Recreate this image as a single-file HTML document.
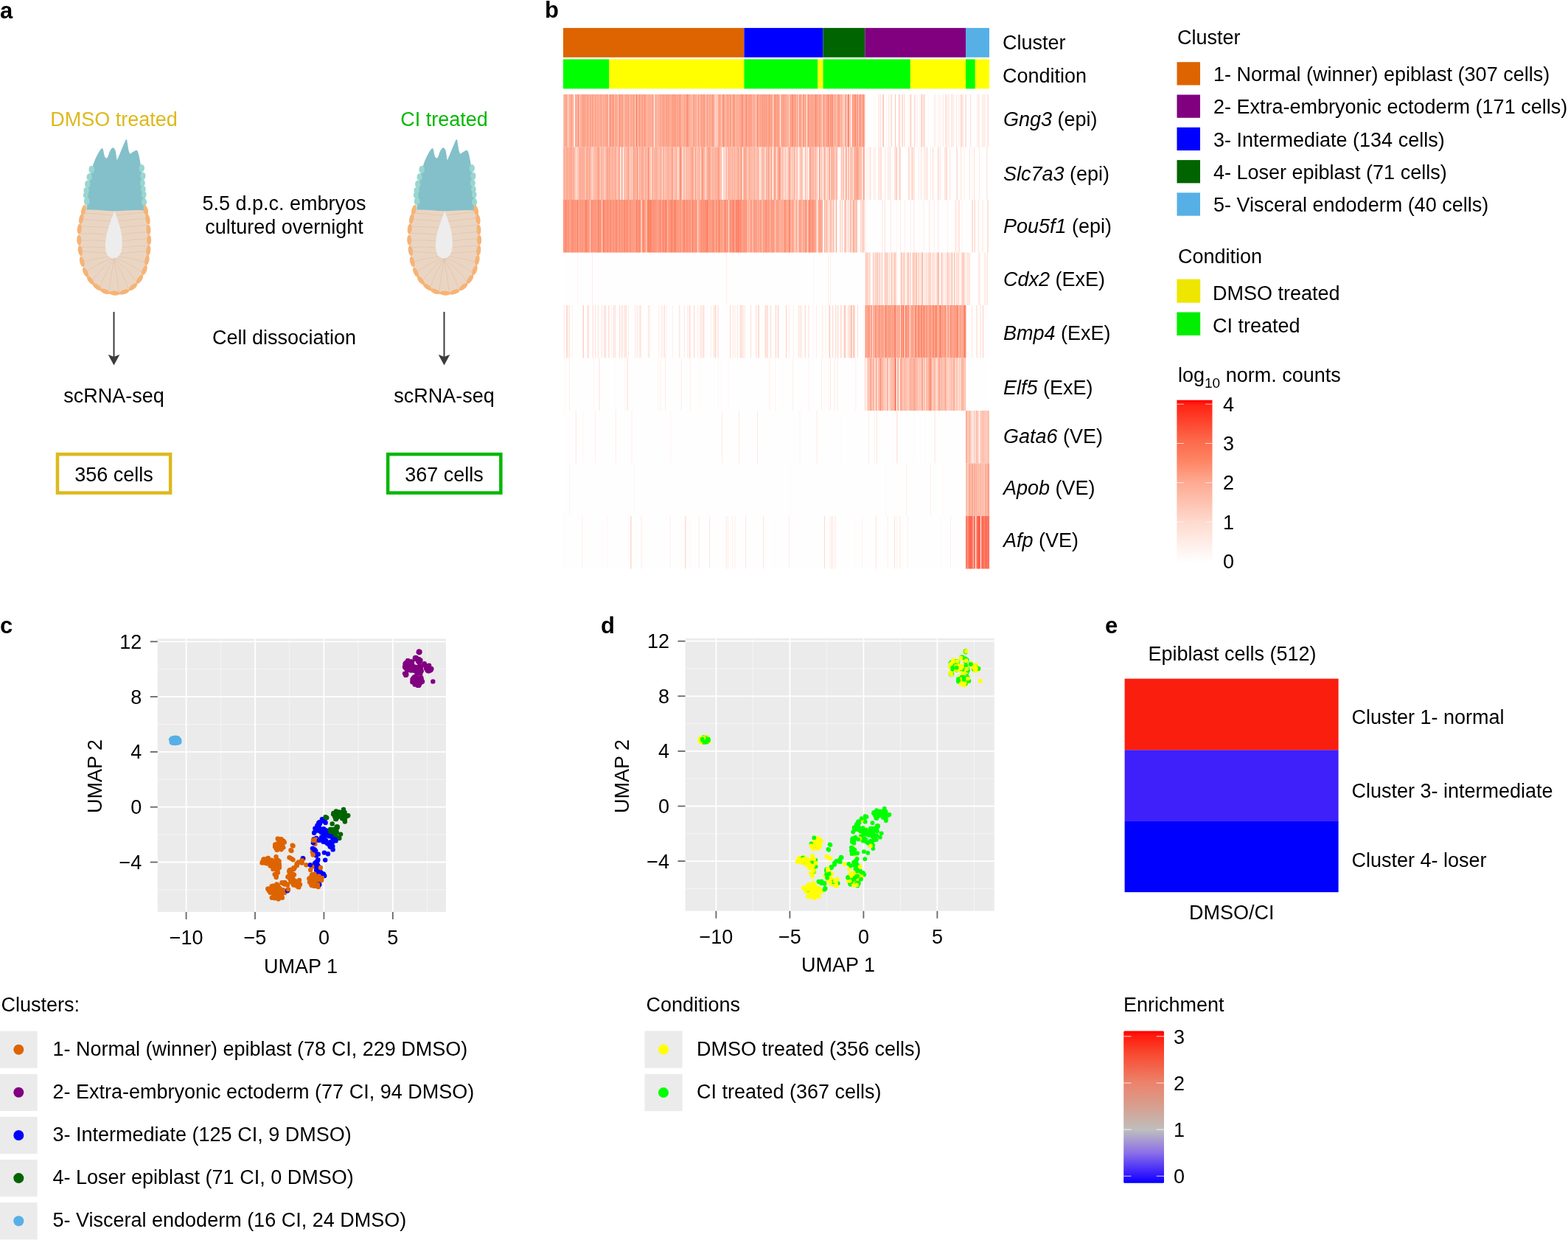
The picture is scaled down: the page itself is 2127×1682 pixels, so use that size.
<!DOCTYPE html>
<html><head><meta charset="utf-8"><title>Figure</title>
<style>html,body{margin:0;padding:0;background:#fff;}svg{display:block;}</style></head>
<body><svg width="2127" height="1682" viewBox="0 0 2127 1682" font-family="'Liberation Sans', Arial, Helvetica, sans-serif" font-size="27">
<rect width="2127" height="1682" fill="#fff"/>
<text x="0" y="24.5" font-weight="bold" font-size="31">a</text>
<text x="739" y="24.3" font-weight="bold" font-size="31">b</text>
<text x="0" y="859" font-weight="bold" font-size="31">c</text>
<text x="815" y="859" font-weight="bold" font-size="31">d</text>
<text x="1499" y="859" font-weight="bold" font-size="31">e</text>
<text x="154.5" y="171" text-anchor="middle" fill="#DDB91C">DMSO treated</text>
<text x="602.5" y="171" text-anchor="middle" fill="#06B806">CI treated</text>
<text x="385.5" y="284.5" text-anchor="middle">5.5 d.p.c. embryos</text>
<text x="385.5" y="316.5" text-anchor="middle">cultured overnight</text>
<text x="385.5" y="466.5" text-anchor="middle">Cell dissociation</text>
<line x1="154.5" y1="423" x2="154.5" y2="488" stroke="#3c3c3c" stroke-width="2"/>
<path d="M146.7,481 Q154.5,484 154.5,484 Q154.5,484 162.3,481 L154.5,495.5 Z" fill="#3c3c3c"/>
<text x="154.5" y="545.5" text-anchor="middle">scRNA-seq</text>
<line x1="602.5" y1="423" x2="602.5" y2="488" stroke="#3c3c3c" stroke-width="2"/>
<path d="M594.7,481 Q602.5,484 602.5,484 Q602.5,484 610.3,481 L602.5,495.5 Z" fill="#3c3c3c"/>
<text x="602.5" y="545.5" text-anchor="middle">scRNA-seq</text>
<rect x="77.95" y="616.15" width="153.2" height="52.4" fill="none" stroke="#DDB91C" stroke-width="4.5"/>
<rect x="526.15" y="616.15" width="153.2" height="52.4" fill="none" stroke="#06B806" stroke-width="4.5"/>
<text x="154.5" y="652.5" text-anchor="middle">356 cells</text>
<text x="602.5" y="652.5" text-anchor="middle">367 cells</text>
<g transform="translate(90 180) scale(0.13671)"><path d="M180,760 C140,820 128,950 128,1060 C128,1250 170,1400 260,1500 C330,1570 400,1596 475,1598 C560,1596 640,1560 700,1490 C790,1390 815,1230 815,1060 C815,930 805,820 790,765 Z" fill="#EAD5C3"/>
<path d="M464,820 Q302,805 140,795 M494,820 Q650,800 805,786 M452,880 Q296,865 140,860 M504,880 Q654,860 805,848 M439,945 Q290,930 140,930 M513,945 Q659,925 805,917 M395,1010 Q268,995 140,1000 M550,1010 Q678,990 805,985 M395,1075 Q268,1060 140,1070 M550,1075 Q678,1055 805,1053 M395,1140 Q268,1125 140,1140 M550,1140 Q678,1120 805,1122 M417,1215 Q657,1178 817,1180 M427,1221 Q653,1237 803,1293 M437,1226 Q632,1291 762,1396 M447,1230 Q598,1336 698,1482 M457,1233 Q552,1369 615,1544 M467,1235 Q499,1385 521,1576 M477,1235 Q445,1385 423,1576 M487,1233 Q392,1369 329,1544 M497,1230 Q346,1336 246,1482 M507,1226 Q312,1291 182,1396 M517,1221 Q291,1237 141,1293 M527,1215 Q287,1178 127,1180" stroke="#DCBCA5" stroke-width="4" fill="none"/>
<path d="M478,778 C460,820 430,900 405,990 C385,1070 380,1150 400,1200 C420,1240 450,1250 470,1248 C500,1245 530,1225 545,1180 C560,1120 555,1040 540,970 C520,890 495,820 478,778 Z" fill="#EDEDED"/>
<path d="M200,765 C205,600 225,420 265,320 C290,250 320,190 348,158 Q362,142 368,178 C375,230 385,255 400,252 C415,248 420,200 440,168 Q465,128 485,172 C495,205 497,250 503,272 C520,240 550,160 588,72 L600,66 C610,120 615,190 632,210 C650,200 668,186 688,176 Q705,168 713,200 C730,260 745,350 760,480 C775,600 785,700 790,775 C700,760 600,775 480,778 C380,775 300,762 200,765 Z" fill="#84C0C9"/>
<ellipse cx="250" cy="365" rx="28" ry="38" fill="#9AD6D0"/>
<ellipse cx="228" cy="440" rx="27" ry="36" fill="#9AD6D0"/>
<ellipse cx="210" cy="510" rx="27" ry="36" fill="#9AD6D0"/>
<ellipse cx="198" cy="575" rx="27" ry="34" fill="#9AD6D0"/>
<ellipse cx="192" cy="620" rx="25" ry="30" fill="#9AD6D0"/>
<ellipse cx="202" cy="680" rx="28" ry="40" fill="#9AD6D0"/>
<ellipse cx="748" cy="352" rx="27" ry="38" fill="#9AD6D0"/>
<ellipse cx="760" cy="430" rx="26" ry="38" fill="#9AD6D0"/>
<ellipse cx="756" cy="500" rx="25" ry="36" fill="#9AD6D0"/>
<ellipse cx="764" cy="560" rx="24" ry="32" fill="#9AD6D0"/>
<ellipse cx="770" cy="615" rx="24" ry="32" fill="#9AD6D0"/>
<ellipse cx="772" cy="688" rx="26" ry="38" fill="#9AD6D0"/>
<ellipse cx="172" cy="765" rx="52" ry="22" transform="rotate(105 172 765)" fill="#F6B375"/>
<ellipse cx="148" cy="855" rx="52" ry="22" transform="rotate(102 148 855)" fill="#F6B375"/>
<ellipse cx="130" cy="955" rx="52" ry="22" transform="rotate(96 130 955)" fill="#F6B375"/>
<ellipse cx="126" cy="1065" rx="52" ry="22" transform="rotate(88 126 1065)" fill="#F6B375"/>
<ellipse cx="138" cy="1170" rx="52" ry="22" transform="rotate(82 138 1170)" fill="#F6B375"/>
<ellipse cx="155" cy="1280" rx="52" ry="22" transform="rotate(76 155 1280)" fill="#F6B375"/>
<ellipse cx="190" cy="1385" rx="52" ry="22" transform="rotate(65 190 1385)" fill="#F6B375"/>
<ellipse cx="240" cy="1465" rx="52" ry="22" transform="rotate(52 240 1465)" fill="#F6B375"/>
<ellipse cx="305" cy="1530" rx="52" ry="22" transform="rotate(37 305 1530)" fill="#F6B375"/>
<ellipse cx="385" cy="1575" rx="52" ry="22" transform="rotate(20 385 1575)" fill="#F6B375"/>
<ellipse cx="480" cy="1592" rx="52" ry="22" transform="rotate(2 480 1592)" fill="#F6B375"/>
<ellipse cx="575" cy="1580" rx="52" ry="22" transform="rotate(-19 575 1580)" fill="#F6B375"/>
<ellipse cx="662" cy="1530" rx="52" ry="22" transform="rotate(-39 662 1530)" fill="#F6B375"/>
<ellipse cx="728" cy="1455" rx="52" ry="22" transform="rotate(-56 728 1455)" fill="#F6B375"/>
<ellipse cx="775" cy="1365" rx="52" ry="22" transform="rotate(-69 775 1365)" fill="#F6B375"/>
<ellipse cx="800" cy="1265" rx="52" ry="22" transform="rotate(-79 800 1265)" fill="#F6B375"/>
<ellipse cx="814" cy="1168" rx="52" ry="22" transform="rotate(-84 814 1168)" fill="#F6B375"/>
<ellipse cx="820" cy="1065" rx="52" ry="22" transform="rotate(-90 820 1065)" fill="#F6B375"/>
<ellipse cx="815" cy="962" rx="52" ry="22" transform="rotate(-93 815 962)" fill="#F6B375"/>
<ellipse cx="808" cy="860" rx="52" ry="22" transform="rotate(-98 808 860)" fill="#F6B375"/>
<ellipse cx="788" cy="770" rx="52" ry="22" transform="rotate(-103 788 770)" fill="#F6B375"/></g>
<g transform="translate(538 180) scale(0.13671)"><path d="M180,760 C140,820 128,950 128,1060 C128,1250 170,1400 260,1500 C330,1570 400,1596 475,1598 C560,1596 640,1560 700,1490 C790,1390 815,1230 815,1060 C815,930 805,820 790,765 Z" fill="#EAD5C3"/>
<path d="M464,820 Q302,805 140,795 M494,820 Q650,800 805,786 M452,880 Q296,865 140,860 M504,880 Q654,860 805,848 M439,945 Q290,930 140,930 M513,945 Q659,925 805,917 M395,1010 Q268,995 140,1000 M550,1010 Q678,990 805,985 M395,1075 Q268,1060 140,1070 M550,1075 Q678,1055 805,1053 M395,1140 Q268,1125 140,1140 M550,1140 Q678,1120 805,1122 M417,1215 Q657,1178 817,1180 M427,1221 Q653,1237 803,1293 M437,1226 Q632,1291 762,1396 M447,1230 Q598,1336 698,1482 M457,1233 Q552,1369 615,1544 M467,1235 Q499,1385 521,1576 M477,1235 Q445,1385 423,1576 M487,1233 Q392,1369 329,1544 M497,1230 Q346,1336 246,1482 M507,1226 Q312,1291 182,1396 M517,1221 Q291,1237 141,1293 M527,1215 Q287,1178 127,1180" stroke="#DCBCA5" stroke-width="4" fill="none"/>
<path d="M478,778 C460,820 430,900 405,990 C385,1070 380,1150 400,1200 C420,1240 450,1250 470,1248 C500,1245 530,1225 545,1180 C560,1120 555,1040 540,970 C520,890 495,820 478,778 Z" fill="#EDEDED"/>
<path d="M200,765 C205,600 225,420 265,320 C290,250 320,190 348,158 Q362,142 368,178 C375,230 385,255 400,252 C415,248 420,200 440,168 Q465,128 485,172 C495,205 497,250 503,272 C520,240 550,160 588,72 L600,66 C610,120 615,190 632,210 C650,200 668,186 688,176 Q705,168 713,200 C730,260 745,350 760,480 C775,600 785,700 790,775 C700,760 600,775 480,778 C380,775 300,762 200,765 Z" fill="#84C0C9"/>
<ellipse cx="250" cy="365" rx="28" ry="38" fill="#9AD6D0"/>
<ellipse cx="228" cy="440" rx="27" ry="36" fill="#9AD6D0"/>
<ellipse cx="210" cy="510" rx="27" ry="36" fill="#9AD6D0"/>
<ellipse cx="198" cy="575" rx="27" ry="34" fill="#9AD6D0"/>
<ellipse cx="192" cy="620" rx="25" ry="30" fill="#9AD6D0"/>
<ellipse cx="202" cy="680" rx="28" ry="40" fill="#9AD6D0"/>
<ellipse cx="748" cy="352" rx="27" ry="38" fill="#9AD6D0"/>
<ellipse cx="760" cy="430" rx="26" ry="38" fill="#9AD6D0"/>
<ellipse cx="756" cy="500" rx="25" ry="36" fill="#9AD6D0"/>
<ellipse cx="764" cy="560" rx="24" ry="32" fill="#9AD6D0"/>
<ellipse cx="770" cy="615" rx="24" ry="32" fill="#9AD6D0"/>
<ellipse cx="772" cy="688" rx="26" ry="38" fill="#9AD6D0"/>
<ellipse cx="172" cy="765" rx="52" ry="22" transform="rotate(105 172 765)" fill="#F6B375"/>
<ellipse cx="148" cy="855" rx="52" ry="22" transform="rotate(102 148 855)" fill="#F6B375"/>
<ellipse cx="130" cy="955" rx="52" ry="22" transform="rotate(96 130 955)" fill="#F6B375"/>
<ellipse cx="126" cy="1065" rx="52" ry="22" transform="rotate(88 126 1065)" fill="#F6B375"/>
<ellipse cx="138" cy="1170" rx="52" ry="22" transform="rotate(82 138 1170)" fill="#F6B375"/>
<ellipse cx="155" cy="1280" rx="52" ry="22" transform="rotate(76 155 1280)" fill="#F6B375"/>
<ellipse cx="190" cy="1385" rx="52" ry="22" transform="rotate(65 190 1385)" fill="#F6B375"/>
<ellipse cx="240" cy="1465" rx="52" ry="22" transform="rotate(52 240 1465)" fill="#F6B375"/>
<ellipse cx="305" cy="1530" rx="52" ry="22" transform="rotate(37 305 1530)" fill="#F6B375"/>
<ellipse cx="385" cy="1575" rx="52" ry="22" transform="rotate(20 385 1575)" fill="#F6B375"/>
<ellipse cx="480" cy="1592" rx="52" ry="22" transform="rotate(2 480 1592)" fill="#F6B375"/>
<ellipse cx="575" cy="1580" rx="52" ry="22" transform="rotate(-19 575 1580)" fill="#F6B375"/>
<ellipse cx="662" cy="1530" rx="52" ry="22" transform="rotate(-39 662 1530)" fill="#F6B375"/>
<ellipse cx="728" cy="1455" rx="52" ry="22" transform="rotate(-56 728 1455)" fill="#F6B375"/>
<ellipse cx="775" cy="1365" rx="52" ry="22" transform="rotate(-69 775 1365)" fill="#F6B375"/>
<ellipse cx="800" cy="1265" rx="52" ry="22" transform="rotate(-79 800 1265)" fill="#F6B375"/>
<ellipse cx="814" cy="1168" rx="52" ry="22" transform="rotate(-84 814 1168)" fill="#F6B375"/>
<ellipse cx="820" cy="1065" rx="52" ry="22" transform="rotate(-90 820 1065)" fill="#F6B375"/>
<ellipse cx="815" cy="962" rx="52" ry="22" transform="rotate(-93 815 962)" fill="#F6B375"/>
<ellipse cx="808" cy="860" rx="52" ry="22" transform="rotate(-98 808 860)" fill="#F6B375"/>
<ellipse cx="788" cy="770" rx="52" ry="22" transform="rotate(-103 788 770)" fill="#F6B375"/></g>
<rect x="764.00" y="37.9" width="245.43" height="39.9" fill="#DD6400"/>
<rect x="1009.43" y="37.9" width="107.13" height="39.9" fill="#0000FF"/>
<rect x="1116.56" y="37.9" width="56.76" height="39.9" fill="#006400"/>
<rect x="1173.32" y="37.9" width="136.71" height="39.9" fill="#800080"/>
<rect x="1310.02" y="37.9" width="31.98" height="39.9" fill="#56B0E6"/>
<rect x="764.00" y="80.4" width="62.36" height="39.95" fill="#00FF00"/>
<rect x="826.36" y="80.4" width="183.07" height="39.95" fill="#FFFF00"/>
<rect x="1009.43" y="80.4" width="99.93" height="39.95" fill="#00FF00"/>
<rect x="1109.36" y="80.4" width="7.20" height="39.95" fill="#FFFF00"/>
<rect x="1116.56" y="80.4" width="118.32" height="39.95" fill="#00FF00"/>
<rect x="1234.87" y="80.4" width="75.15" height="39.95" fill="#FFFF00"/>
<rect x="1310.02" y="80.4" width="12.79" height="39.95" fill="#00FF00"/>
<rect x="1322.81" y="80.4" width="19.19" height="39.95" fill="#FFFF00"/>
<rect x="764.0" y="127.9" width="578.0" height="643.5" fill="#FFFEFE"/>
<path fill="#FFF8F5" d="M1202.10 127.9h0.80v71.5h-0.80zM1224.48 127.9h0.80v71.5h-0.80zM1233.28 127.9h0.80v71.5h-0.80zM1254.06 127.9h0.80v71.5h-0.80zM1258.86 127.9h0.80v71.5h-0.80zM1294.83 127.9h0.80v71.5h-0.80z"/>
<path fill="#FFF4F0" d="M1185.31 127.9h0.80v71.5h-0.80zM1274.05 127.9h0.80v71.5h-0.80zM1315.62 127.9h0.80v71.5h-0.80z"/>
<path fill="#FFF0EB" d="M1220.48 127.9h0.80v71.5h-0.80zM1231.68 127.9h0.80v71.5h-0.80zM1334.80 127.9h0.80v71.5h-0.80z"/>
<path fill="#FEECE6" d="M1251.66 127.9h0.80v71.5h-0.80zM1268.45 127.9h0.80v71.5h-0.80zM1274.85 127.9h0.80v71.5h-0.80zM1286.04 127.9h0.80v71.5h-0.80zM1293.23 127.9h0.80v71.5h-0.80z"/>
<path fill="#FEE9E2" d="M1196.50 127.9h0.80v71.5h-0.80zM1207.69 127.9h0.80v71.5h-0.80zM1234.07 127.9h0.80v71.5h-0.80zM1247.67 127.9h0.80v71.5h-0.80zM1266.85 127.9h0.80v71.5h-0.80zM1272.45 127.9h0.80v71.5h-0.80zM1292.43 127.9h0.80v71.5h-0.80zM1305.23 127.9h0.80v71.5h-0.80zM1325.21 127.9h0.80v71.5h-0.80zM1334.01 127.9h0.80v71.5h-0.80z"/>
<path fill="#FEE5DD" d="M1208.49 127.9h0.80v71.5h-0.80zM1226.88 127.9h0.80v71.5h-0.80zM1243.67 127.9h0.80v71.5h-0.80z"/>
<path fill="#FEE1D8" d="M1249.26 127.9h0.80v71.5h-0.80zM1250.86 127.9h0.80v71.5h-0.80zM1278.84 127.9h0.80v71.5h-0.80zM1286.84 127.9h0.80v71.5h-0.80zM1300.43 127.9h0.80v71.5h-0.80zM1309.22 127.9h0.80v71.5h-0.80zM1327.61 127.9h0.80v71.5h-0.80zM1335.60 127.9h0.80v71.5h-0.80z"/>
<path fill="#FEDED3" d="M1205.29 127.9h0.80v71.5h-0.80zM1226.08 127.9h0.80v71.5h-0.80zM1235.67 127.9h0.80v71.5h-0.80zM1282.04 127.9h0.80v71.5h-0.80zM1290.04 127.9h0.80v71.5h-0.80zM1291.63 127.9h0.80v71.5h-0.80zM1297.23 127.9h0.80v71.5h-0.80zM1302.83 127.9h0.80v71.5h-0.80zM1306.02 127.9h0.80v71.5h-0.80zM1326.81 127.9h0.80v71.5h-0.80zM1338.80 127.9h0.80v71.5h-0.80z"/>
<path fill="#FEDACE" d="M1218.89 127.9h0.80v71.5h-0.80zM1316.42 127.9h0.80v71.5h-0.80zM1340.40 127.9h0.80v71.5h-0.80z"/>
<path fill="#FED5C8" d="M1191.70 127.9h0.80v71.5h-0.80zM1194.10 127.9h0.80v71.5h-0.80zM1310.02 127.9h0.80v71.5h-0.80zM1332.41 127.9h0.80v71.5h-0.80z"/>
<path fill="#FED0C2" d="M1197.30 127.9h0.80v71.5h-0.80zM1209.29 127.9h0.80v71.5h-0.80z"/>
<path fill="#FECBBB" d="M1283.64 127.9h0.80v71.5h-0.80z"/>
<path fill="#FEC6B5" d="M1067.79 127.9h0.80v71.5h-0.80zM1134.14 127.9h0.80v71.5h-0.80z"/>
<path fill="#FEC1AF" d="M957.47 127.9h0.80v71.5h-0.80zM978.25 127.9h0.80v71.5h-0.80zM1110.16 127.9h0.80v71.5h-0.80zM1140.54 127.9h0.80v71.5h-0.80zM1234.87 127.9h0.80v71.5h-0.80zM1240.47 127.9h0.80v71.5h-0.80z"/>
<path fill="#FDBCA9" d="M805.57 127.9h0.80v71.5h-0.80zM883.12 127.9h0.80v71.5h-0.80zM1024.62 127.9h0.80v71.5h-0.80zM1026.22 127.9h0.80v71.5h-0.80zM1219.68 127.9h0.80v71.5h-0.80zM1250.06 127.9h0.80v71.5h-0.80z"/>
<path fill="#FDB7A3" d="M764.00 127.9h0.80v71.5h-0.80zM832.75 127.9h0.80v71.5h-0.80zM834.35 127.9h0.80v71.5h-0.80zM853.54 127.9h0.80v71.5h-0.80zM878.32 127.9h0.80v71.5h-0.80zM938.28 127.9h0.80v71.5h-0.80zM1019.82 127.9h0.80v71.5h-0.80zM1138.94 127.9h0.80v71.5h-0.80zM1144.54 127.9h0.80v71.5h-0.80zM1214.09 127.9h0.80v71.5h-0.80zM1303.63 127.9h0.80v71.5h-0.80z"/>
<path fill="#FDB29C" d="M799.18 127.9h0.80v71.5h-0.80zM830.35 127.9h0.80v71.5h-0.80zM846.34 127.9h1.60v71.5h-1.60zM856.74 127.9h0.80v71.5h-0.80zM887.91 127.9h0.80v71.5h-0.80zM891.11 127.9h0.80v71.5h-0.80zM895.91 127.9h0.80v71.5h-0.80zM939.08 127.9h0.80v71.5h-0.80zM960.66 127.9h0.80v71.5h-0.80zM963.06 127.9h0.80v71.5h-0.80zM972.66 127.9h0.80v71.5h-0.80zM1023.82 127.9h0.80v71.5h-0.80zM1090.97 127.9h0.80v71.5h-0.80zM1098.17 127.9h0.80v71.5h-0.80zM1125.35 127.9h0.80v71.5h-0.80zM1130.95 127.9h0.80v71.5h-0.80zM1163.72 127.9h0.80v71.5h-0.80zM1198.10 127.9h0.80v71.5h-0.80z"/>
<path fill="#FDAD96" d="M769.60 127.9h0.80v71.5h-0.80zM771.99 127.9h0.80v71.5h-0.80zM775.99 127.9h0.80v71.5h-0.80zM787.98 127.9h2.40v71.5h-2.40zM815.96 127.9h0.80v71.5h-0.80zM819.16 127.9h0.80v71.5h-0.80zM826.36 127.9h0.80v71.5h-0.80zM835.95 127.9h0.80v71.5h-0.80zM838.35 127.9h0.80v71.5h-0.80zM842.35 127.9h0.80v71.5h-0.80zM869.53 127.9h0.80v71.5h-0.80zM875.92 127.9h0.80v71.5h-0.80zM908.70 127.9h0.80v71.5h-0.80zM935.88 127.9h0.80v71.5h-0.80zM942.28 127.9h0.80v71.5h-0.80zM949.47 127.9h0.80v71.5h-0.80zM956.67 127.9h0.80v71.5h-0.80zM968.66 127.9h0.80v71.5h-0.80zM979.05 127.9h0.80v71.5h-0.80zM983.05 127.9h0.80v71.5h-0.80zM997.44 127.9h0.80v71.5h-0.80zM1001.44 127.9h0.80v71.5h-0.80zM1009.43 127.9h0.80v71.5h-0.80zM1021.42 127.9h0.80v71.5h-0.80zM1047.80 127.9h0.80v71.5h-0.80zM1059.00 127.9h0.80v71.5h-0.80zM1062.99 127.9h0.80v71.5h-0.80zM1086.18 127.9h0.80v71.5h-0.80zM1093.37 127.9h0.80v71.5h-0.80zM1120.55 127.9h0.80v71.5h-0.80zM1130.15 127.9h0.80v71.5h-0.80zM1152.53 127.9h0.80v71.5h-0.80zM1172.52 127.9h0.80v71.5h-0.80zM1223.68 127.9h0.80v71.5h-0.80zM1253.26 127.9h0.80v71.5h-0.80z"/>
<path fill="#FDA890" d="M764.80 127.9h0.80v71.5h-0.80zM771.20 127.9h0.80v71.5h-0.80zM777.59 127.9h0.80v71.5h-0.80zM783.19 127.9h0.80v71.5h-0.80zM798.38 127.9h0.80v71.5h-0.80zM809.57 127.9h0.80v71.5h-0.80zM811.97 127.9h0.80v71.5h-0.80zM837.55 127.9h0.80v71.5h-0.80zM839.15 127.9h0.80v71.5h-0.80zM844.74 127.9h0.80v71.5h-0.80zM850.34 127.9h1.60v71.5h-1.60zM854.34 127.9h0.80v71.5h-0.80zM860.73 127.9h0.80v71.5h-0.80zM864.73 127.9h0.80v71.5h-0.80zM890.31 127.9h0.80v71.5h-0.80zM894.31 127.9h0.80v71.5h-0.80zM900.71 127.9h1.60v71.5h-1.60zM915.10 127.9h0.80v71.5h-0.80zM919.89 127.9h0.80v71.5h-0.80zM923.09 127.9h0.80v71.5h-0.80zM926.29 127.9h1.60v71.5h-1.60zM935.08 127.9h0.80v71.5h-0.80zM937.48 127.9h0.80v71.5h-0.80zM948.67 127.9h0.80v71.5h-0.80zM959.86 127.9h0.80v71.5h-0.80zM965.46 127.9h0.80v71.5h-0.80zM974.25 127.9h0.80v71.5h-0.80zM977.45 127.9h0.80v71.5h-0.80zM984.65 127.9h0.80v71.5h-0.80zM988.64 127.9h0.80v71.5h-0.80zM991.84 127.9h0.80v71.5h-0.80zM1003.03 127.9h0.80v71.5h-0.80zM1028.62 127.9h0.80v71.5h-0.80zM1037.41 127.9h0.80v71.5h-0.80zM1040.61 127.9h0.80v71.5h-0.80zM1045.41 127.9h0.80v71.5h-0.80zM1057.40 127.9h0.80v71.5h-0.80zM1066.19 127.9h0.80v71.5h-0.80zM1079.78 127.9h0.80v71.5h-0.80zM1102.97 127.9h0.80v71.5h-0.80zM1108.56 127.9h0.80v71.5h-0.80zM1113.36 127.9h0.80v71.5h-0.80zM1117.36 127.9h0.80v71.5h-0.80zM1122.15 127.9h0.80v71.5h-0.80zM1133.34 127.9h0.80v71.5h-0.80zM1149.33 127.9h0.80v71.5h-0.80zM1162.92 127.9h0.80v71.5h-0.80zM1167.72 127.9h0.80v71.5h-0.80z"/>
<path fill="#FDA187" d="M765.60 127.9h1.60v71.5h-1.60zM768.00 127.9h0.80v71.5h-0.80zM772.79 127.9h0.80v71.5h-0.80zM780.79 127.9h0.80v71.5h-0.80zM784.79 127.9h0.80v71.5h-0.80zM787.18 127.9h0.80v71.5h-0.80zM795.18 127.9h1.60v71.5h-1.60zM802.37 127.9h0.80v71.5h-0.80zM803.97 127.9h1.60v71.5h-1.60zM807.97 127.9h0.80v71.5h-0.80zM812.77 127.9h0.80v71.5h-0.80zM817.56 127.9h0.80v71.5h-0.80zM825.56 127.9h0.80v71.5h-0.80zM847.94 127.9h0.80v71.5h-0.80zM855.14 127.9h0.80v71.5h-0.80zM865.53 127.9h0.80v71.5h-0.80zM871.93 127.9h0.80v71.5h-0.80zM879.92 127.9h0.80v71.5h-0.80zM881.52 127.9h0.80v71.5h-0.80zM886.32 127.9h0.80v71.5h-0.80zM888.71 127.9h0.80v71.5h-0.80zM891.91 127.9h0.80v71.5h-0.80zM893.51 127.9h0.80v71.5h-0.80zM898.31 127.9h0.80v71.5h-0.80zM902.30 127.9h0.80v71.5h-0.80zM905.50 127.9h1.60v71.5h-1.60zM911.10 127.9h0.80v71.5h-0.80zM912.70 127.9h0.80v71.5h-0.80zM924.69 127.9h0.80v71.5h-0.80zM928.69 127.9h0.80v71.5h-0.80zM930.28 127.9h0.80v71.5h-0.80zM943.08 127.9h0.80v71.5h-0.80zM951.87 127.9h1.60v71.5h-1.60zM967.86 127.9h0.80v71.5h-0.80zM969.46 127.9h0.80v71.5h-0.80zM971.06 127.9h0.80v71.5h-0.80zM986.25 127.9h0.80v71.5h-0.80zM998.24 127.9h1.60v71.5h-1.60zM1003.83 127.9h0.80v71.5h-0.80zM1007.83 127.9h0.80v71.5h-0.80zM1010.23 127.9h0.80v71.5h-0.80zM1017.42 127.9h0.80v71.5h-0.80zM1022.22 127.9h0.80v71.5h-0.80zM1039.01 127.9h0.80v71.5h-0.80zM1041.41 127.9h0.80v71.5h-0.80zM1047.00 127.9h0.80v71.5h-0.80zM1061.39 127.9h0.80v71.5h-0.80zM1080.58 127.9h0.80v71.5h-0.80zM1082.18 127.9h0.80v71.5h-0.80zM1104.56 127.9h0.80v71.5h-0.80zM1119.75 127.9h0.80v71.5h-0.80zM1131.75 127.9h0.80v71.5h-0.80zM1141.34 127.9h0.80v71.5h-0.80zM1153.33 127.9h0.80v71.5h-0.80zM1158.13 127.9h0.80v71.5h-0.80z"/>
<path fill="#FD9A7E" d="M767.20 127.9h0.80v71.5h-0.80zM773.59 127.9h0.80v71.5h-0.80zM776.79 127.9h0.80v71.5h-0.80zM782.39 127.9h0.80v71.5h-0.80zM791.18 127.9h0.80v71.5h-0.80zM794.38 127.9h0.80v71.5h-0.80zM801.57 127.9h0.80v71.5h-0.80zM811.17 127.9h0.80v71.5h-0.80zM814.37 127.9h0.80v71.5h-0.80zM816.76 127.9h0.80v71.5h-0.80zM819.96 127.9h0.80v71.5h-0.80zM831.95 127.9h0.80v71.5h-0.80zM840.75 127.9h1.60v71.5h-1.60zM845.54 127.9h0.80v71.5h-0.80zM857.54 127.9h0.80v71.5h-0.80zM867.93 127.9h0.80v71.5h-0.80zM872.72 127.9h0.80v71.5h-0.80zM876.72 127.9h0.80v71.5h-0.80zM879.12 127.9h0.80v71.5h-0.80zM885.52 127.9h0.80v71.5h-0.80zM896.71 127.9h0.80v71.5h-0.80zM907.10 127.9h1.60v71.5h-1.60zM910.30 127.9h0.80v71.5h-0.80zM917.49 127.9h0.80v71.5h-0.80zM923.89 127.9h0.80v71.5h-0.80zM925.49 127.9h0.80v71.5h-0.80zM932.68 127.9h0.80v71.5h-0.80zM939.88 127.9h0.80v71.5h-0.80zM947.87 127.9h0.80v71.5h-0.80zM958.27 127.9h0.80v71.5h-0.80zM973.46 127.9h0.80v71.5h-0.80zM982.25 127.9h0.80v71.5h-0.80zM983.85 127.9h0.80v71.5h-0.80zM987.85 127.9h0.80v71.5h-0.80zM995.84 127.9h1.60v71.5h-1.60zM999.84 127.9h0.80v71.5h-0.80zM1005.43 127.9h0.80v71.5h-0.80zM1014.23 127.9h1.60v71.5h-1.60zM1029.42 127.9h0.80v71.5h-0.80zM1031.02 127.9h0.80v71.5h-0.80zM1035.01 127.9h0.80v71.5h-0.80zM1049.40 127.9h0.80v71.5h-0.80zM1053.40 127.9h1.60v71.5h-1.60zM1064.59 127.9h0.80v71.5h-0.80zM1066.99 127.9h0.80v71.5h-0.80zM1070.99 127.9h0.80v71.5h-0.80zM1086.98 127.9h0.80v71.5h-0.80zM1099.77 127.9h0.80v71.5h-0.80zM1101.37 127.9h0.80v71.5h-0.80zM1114.16 127.9h0.80v71.5h-0.80zM1118.15 127.9h1.60v71.5h-1.60zM1134.94 127.9h0.80v71.5h-0.80zM1136.54 127.9h1.60v71.5h-1.60zM1143.74 127.9h0.80v71.5h-0.80zM1147.73 127.9h0.80v71.5h-0.80zM1155.73 127.9h1.60v71.5h-1.60zM1165.32 127.9h0.80v71.5h-0.80zM1169.32 127.9h1.60v71.5h-1.60zM1171.72 127.9h0.80v71.5h-0.80z"/>
<path fill="#FD9376" d="M775.19 127.9h0.80v71.5h-0.80zM779.99 127.9h0.80v71.5h-0.80zM791.98 127.9h0.80v71.5h-0.80zM796.78 127.9h1.60v71.5h-1.60zM807.17 127.9h0.80v71.5h-0.80zM808.77 127.9h0.80v71.5h-0.80zM820.76 127.9h0.80v71.5h-0.80zM822.36 127.9h0.80v71.5h-0.80zM827.96 127.9h0.80v71.5h-0.80zM829.55 127.9h0.80v71.5h-0.80zM859.13 127.9h0.80v71.5h-0.80zM863.93 127.9h0.80v71.5h-0.80zM870.33 127.9h0.80v71.5h-0.80zM873.52 127.9h1.60v71.5h-1.60zM883.92 127.9h0.80v71.5h-0.80zM892.71 127.9h0.80v71.5h-0.80zM899.11 127.9h0.80v71.5h-0.80zM903.90 127.9h0.80v71.5h-0.80zM915.89 127.9h1.60v71.5h-1.60zM918.29 127.9h0.80v71.5h-0.80zM927.89 127.9h0.80v71.5h-0.80zM934.28 127.9h0.80v71.5h-0.80zM940.68 127.9h1.60v71.5h-1.60zM943.88 127.9h0.80v71.5h-0.80zM946.27 127.9h1.60v71.5h-1.60zM951.07 127.9h0.80v71.5h-0.80zM953.47 127.9h0.80v71.5h-0.80zM955.07 127.9h0.80v71.5h-0.80zM962.26 127.9h0.80v71.5h-0.80zM964.66 127.9h0.80v71.5h-0.80zM975.05 127.9h0.80v71.5h-0.80zM990.24 127.9h0.80v71.5h-0.80zM1000.64 127.9h0.80v71.5h-0.80zM1011.03 127.9h0.80v71.5h-0.80zM1013.43 127.9h0.80v71.5h-0.80zM1019.02 127.9h0.80v71.5h-0.80zM1025.42 127.9h0.80v71.5h-0.80zM1030.22 127.9h0.80v71.5h-0.80zM1033.41 127.9h0.80v71.5h-0.80zM1055.00 127.9h0.80v71.5h-0.80zM1056.60 127.9h0.80v71.5h-0.80zM1059.80 127.9h0.80v71.5h-0.80zM1072.59 127.9h0.80v71.5h-0.80zM1074.98 127.9h1.60v71.5h-1.60zM1077.38 127.9h0.80v71.5h-0.80zM1078.98 127.9h0.80v71.5h-0.80zM1081.38 127.9h0.80v71.5h-0.80zM1088.58 127.9h1.60v71.5h-1.60zM1094.97 127.9h0.80v71.5h-0.80zM1098.97 127.9h0.80v71.5h-0.80zM1112.56 127.9h0.80v71.5h-0.80zM1126.95 127.9h0.80v71.5h-0.80zM1135.74 127.9h0.80v71.5h-0.80zM1142.14 127.9h0.80v71.5h-0.80zM1146.14 127.9h0.80v71.5h-0.80zM1164.52 127.9h0.80v71.5h-0.80zM1168.52 127.9h0.80v71.5h-0.80z"/>
<path fill="#FD8C6D" d="M768.80 127.9h0.80v71.5h-0.80zM781.59 127.9h0.80v71.5h-0.80zM792.78 127.9h0.80v71.5h-0.80zM800.77 127.9h0.80v71.5h-0.80zM803.17 127.9h0.80v71.5h-0.80zM806.37 127.9h0.80v71.5h-0.80zM810.37 127.9h0.80v71.5h-0.80zM813.57 127.9h0.80v71.5h-0.80zM815.16 127.9h0.80v71.5h-0.80zM818.36 127.9h0.80v71.5h-0.80zM821.56 127.9h0.80v71.5h-0.80zM823.16 127.9h1.60v71.5h-1.60zM833.55 127.9h0.80v71.5h-0.80zM836.75 127.9h0.80v71.5h-0.80zM843.94 127.9h0.80v71.5h-0.80zM852.74 127.9h0.80v71.5h-0.80zM858.33 127.9h0.80v71.5h-0.80zM866.33 127.9h1.60v71.5h-1.60zM868.73 127.9h0.80v71.5h-0.80zM875.12 127.9h0.80v71.5h-0.80zM877.52 127.9h0.80v71.5h-0.80zM880.72 127.9h0.80v71.5h-0.80zM882.32 127.9h0.80v71.5h-0.80zM889.51 127.9h0.80v71.5h-0.80zM903.10 127.9h0.80v71.5h-0.80zM913.50 127.9h1.60v71.5h-1.60zM919.09 127.9h0.80v71.5h-0.80zM921.49 127.9h1.60v71.5h-1.60zM929.49 127.9h0.80v71.5h-0.80zM931.08 127.9h0.80v71.5h-0.80zM936.68 127.9h0.80v71.5h-0.80zM944.67 127.9h0.80v71.5h-0.80zM950.27 127.9h0.80v71.5h-0.80zM955.87 127.9h0.80v71.5h-0.80zM963.86 127.9h0.80v71.5h-0.80zM975.85 127.9h0.80v71.5h-0.80zM980.65 127.9h1.60v71.5h-1.60zM985.45 127.9h0.80v71.5h-0.80zM989.44 127.9h0.80v71.5h-0.80zM995.04 127.9h0.80v71.5h-0.80zM1002.24 127.9h0.80v71.5h-0.80zM1008.63 127.9h0.80v71.5h-0.80zM1012.63 127.9h0.80v71.5h-0.80zM1023.02 127.9h0.80v71.5h-0.80zM1032.61 127.9h0.80v71.5h-0.80zM1035.81 127.9h0.80v71.5h-0.80zM1038.21 127.9h0.80v71.5h-0.80zM1043.01 127.9h0.80v71.5h-0.80zM1051.00 127.9h0.80v71.5h-0.80zM1065.39 127.9h0.80v71.5h-0.80zM1068.59 127.9h0.80v71.5h-0.80zM1071.79 127.9h0.80v71.5h-0.80zM1073.39 127.9h1.60v71.5h-1.60zM1090.17 127.9h0.80v71.5h-0.80zM1091.77 127.9h0.80v71.5h-0.80zM1102.17 127.9h0.80v71.5h-0.80zM1103.76 127.9h0.80v71.5h-0.80zM1107.76 127.9h0.80v71.5h-0.80zM1115.76 127.9h0.80v71.5h-0.80zM1139.74 127.9h0.80v71.5h-0.80zM1146.93 127.9h0.80v71.5h-0.80z"/>
<path fill="#FD8564" d="M774.39 127.9h0.80v71.5h-0.80zM785.59 127.9h0.80v71.5h-0.80zM793.58 127.9h0.80v71.5h-0.80zM799.98 127.9h0.80v71.5h-0.80zM849.54 127.9h0.80v71.5h-0.80zM851.94 127.9h0.80v71.5h-0.80zM855.94 127.9h0.80v71.5h-0.80zM859.93 127.9h0.80v71.5h-0.80zM897.51 127.9h0.80v71.5h-0.80zM899.91 127.9h0.80v71.5h-0.80zM909.50 127.9h0.80v71.5h-0.80zM920.69 127.9h0.80v71.5h-0.80zM961.46 127.9h0.80v71.5h-0.80zM966.26 127.9h0.80v71.5h-0.80zM976.65 127.9h0.80v71.5h-0.80zM979.85 127.9h0.80v71.5h-0.80zM994.24 127.9h0.80v71.5h-0.80zM1016.63 127.9h0.80v71.5h-0.80zM1018.22 127.9h0.80v71.5h-0.80zM1020.62 127.9h0.80v71.5h-0.80zM1031.81 127.9h0.80v71.5h-0.80zM1034.21 127.9h0.80v71.5h-0.80zM1042.21 127.9h0.80v71.5h-0.80zM1044.61 127.9h0.80v71.5h-0.80zM1046.20 127.9h0.80v71.5h-0.80zM1052.60 127.9h0.80v71.5h-0.80zM1055.80 127.9h0.80v71.5h-0.80zM1076.58 127.9h0.80v71.5h-0.80zM1078.18 127.9h0.80v71.5h-0.80zM1085.38 127.9h0.80v71.5h-0.80zM1092.57 127.9h0.80v71.5h-0.80zM1106.96 127.9h0.80v71.5h-0.80zM1110.96 127.9h0.80v71.5h-0.80zM1127.75 127.9h0.80v71.5h-0.80zM1138.14 127.9h0.80v71.5h-0.80zM1157.33 127.9h0.80v71.5h-0.80zM1158.93 127.9h0.80v71.5h-0.80zM1166.12 127.9h0.80v71.5h-0.80z"/>
<path fill="#FD7F5F" d="M828.76 127.9h0.80v71.5h-0.80zM835.15 127.9h0.80v71.5h-0.80zM843.15 127.9h0.80v71.5h-0.80zM848.74 127.9h0.80v71.5h-0.80zM871.13 127.9h0.80v71.5h-0.80zM884.72 127.9h0.80v71.5h-0.80zM895.11 127.9h0.80v71.5h-0.80zM933.48 127.9h0.80v71.5h-0.80zM959.07 127.9h0.80v71.5h-0.80zM967.06 127.9h0.80v71.5h-0.80zM987.05 127.9h0.80v71.5h-0.80zM991.04 127.9h0.80v71.5h-0.80zM1006.23 127.9h1.60v71.5h-1.60zM1050.20 127.9h0.80v71.5h-0.80zM1060.59 127.9h0.80v71.5h-0.80zM1062.19 127.9h0.80v71.5h-0.80zM1069.39 127.9h0.80v71.5h-0.80zM1083.78 127.9h0.80v71.5h-0.80zM1095.77 127.9h0.80v71.5h-0.80zM1097.37 127.9h0.80v71.5h-0.80zM1105.36 127.9h0.80v71.5h-0.80zM1111.76 127.9h0.80v71.5h-0.80zM1124.55 127.9h0.80v71.5h-0.80zM1129.35 127.9h0.80v71.5h-0.80zM1132.54 127.9h0.80v71.5h-0.80zM1166.92 127.9h0.80v71.5h-0.80z"/>
<path fill="#FD7A5A" d="M783.99 127.9h0.80v71.5h-0.80zM839.95 127.9h0.80v71.5h-0.80zM862.33 127.9h1.60v71.5h-1.60zM904.70 127.9h0.80v71.5h-0.80zM954.27 127.9h0.80v71.5h-0.80zM993.44 127.9h0.80v71.5h-0.80zM1015.83 127.9h0.80v71.5h-0.80zM1027.82 127.9h0.80v71.5h-0.80zM1043.81 127.9h0.80v71.5h-0.80zM1051.80 127.9h0.80v71.5h-0.80zM1063.79 127.9h0.80v71.5h-0.80zM1096.57 127.9h0.80v71.5h-0.80zM1100.57 127.9h0.80v71.5h-0.80zM1109.36 127.9h0.80v71.5h-0.80zM1123.75 127.9h0.80v71.5h-0.80zM1126.15 127.9h0.80v71.5h-0.80zM1159.73 127.9h1.60v71.5h-1.60z"/>
<path fill="#FC7455" d="M790.38 127.9h0.80v71.5h-0.80zM827.16 127.9h0.80v71.5h-0.80zM911.90 127.9h0.80v71.5h-0.80zM1004.63 127.9h0.80v71.5h-0.80zM1027.02 127.9h0.80v71.5h-0.80zM1106.16 127.9h0.80v71.5h-0.80zM1116.56 127.9h0.80v71.5h-0.80zM1170.92 127.9h0.80v71.5h-0.80z"/>
<path fill="#FC6F50" d="M1036.61 127.9h0.80v71.5h-0.80zM1039.81 127.9h0.80v71.5h-0.80zM1122.95 127.9h0.80v71.5h-0.80z"/>
<path fill="#FC694B" d="M1084.58 127.9h0.80v71.5h-0.80zM1121.35 127.9h0.80v71.5h-0.80zM1128.55 127.9h0.80v71.5h-0.80zM1150.13 127.9h1.60v71.5h-1.60z"/>
<path fill="#FC6245" d="M831.15 127.9h0.80v71.5h-0.80zM931.88 127.9h0.80v71.5h-0.80zM1011.83 127.9h0.80v71.5h-0.80z"/>
<path fill="#FD5A3F" d="M1162.12 127.9h0.80v71.5h-0.80z"/>
<path fill="#FFF8F5" d="M1186.11 199.4h0.80v71.5h-0.80zM1210.89 199.4h0.80v71.5h-0.80z"/>
<path fill="#FFF4F0" d="M1190.90 199.4h0.80v71.5h-0.80z"/>
<path fill="#FFF0EB" d="M1318.02 199.4h0.80v71.5h-0.80z"/>
<path fill="#FEECE6" d="M1074.98 199.4h0.80v71.5h-0.80zM1174.92 199.4h0.80v71.5h-0.80zM1307.62 199.4h0.80v71.5h-0.80z"/>
<path fill="#FEE9E2" d="M1177.31 199.4h0.80v71.5h-0.80zM1186.91 199.4h0.80v71.5h-0.80zM1214.09 199.4h0.80v71.5h-0.80zM1303.63 199.4h0.80v71.5h-0.80zM1338.80 199.4h0.80v71.5h-0.80z"/>
<path fill="#FEE5DD" d="M1152.53 199.4h0.80v71.5h-0.80zM1234.07 199.4h0.80v71.5h-0.80zM1246.07 199.4h0.80v71.5h-0.80zM1262.06 199.4h0.80v71.5h-0.80zM1302.83 199.4h0.80v71.5h-0.80zM1338.00 199.4h0.80v71.5h-0.80z"/>
<path fill="#FEE1D8" d="M1031.02 199.4h0.80v71.5h-0.80zM1132.54 199.4h0.80v71.5h-0.80zM1185.31 199.4h0.80v71.5h-0.80zM1253.26 199.4h0.80v71.5h-0.80zM1328.41 199.4h0.80v71.5h-0.80z"/>
<path fill="#FEDED3" d="M848.74 199.4h0.80v71.5h-0.80zM926.29 199.4h0.80v71.5h-0.80zM1180.51 199.4h0.80v71.5h-0.80zM1192.50 199.4h0.80v71.5h-0.80zM1194.10 199.4h0.80v71.5h-0.80zM1239.67 199.4h0.80v71.5h-0.80zM1284.44 199.4h0.80v71.5h-0.80zM1297.23 199.4h0.80v71.5h-0.80zM1314.82 199.4h0.80v71.5h-0.80z"/>
<path fill="#FEDACE" d="M1200.50 199.4h0.80v71.5h-0.80zM1213.29 199.4h0.80v71.5h-0.80zM1220.48 199.4h0.80v71.5h-0.80zM1249.26 199.4h0.80v71.5h-0.80zM1281.24 199.4h0.80v71.5h-0.80zM1288.44 199.4h0.80v71.5h-0.80zM1321.21 199.4h0.80v71.5h-0.80z"/>
<path fill="#FED5C8" d="M1018.22 199.4h0.80v71.5h-0.80zM1043.81 199.4h0.80v71.5h-0.80zM1097.37 199.4h0.80v71.5h-0.80zM1106.96 199.4h0.80v71.5h-0.80zM1142.14 199.4h0.80v71.5h-0.80zM1172.52 199.4h0.80v71.5h-0.80zM1191.70 199.4h0.80v71.5h-0.80zM1216.49 199.4h0.80v71.5h-0.80zM1221.28 199.4h0.80v71.5h-0.80zM1254.86 199.4h0.80v71.5h-0.80zM1274.85 199.4h0.80v71.5h-0.80zM1298.03 199.4h0.80v71.5h-0.80z"/>
<path fill="#FED0C2" d="M783.99 199.4h0.80v71.5h-0.80zM816.76 199.4h0.80v71.5h-0.80zM819.96 199.4h0.80v71.5h-0.80zM965.46 199.4h0.80v71.5h-0.80zM1031.81 199.4h0.80v71.5h-0.80zM1080.58 199.4h0.80v71.5h-0.80zM1099.77 199.4h0.80v71.5h-0.80zM1108.56 199.4h0.80v71.5h-0.80zM1142.94 199.4h0.80v71.5h-0.80zM1148.53 199.4h0.80v71.5h-0.80zM1179.71 199.4h0.80v71.5h-0.80zM1194.90 199.4h0.80v71.5h-0.80zM1204.50 199.4h0.80v71.5h-0.80zM1265.25 199.4h0.80v71.5h-0.80z"/>
<path fill="#FECBBB" d="M782.39 199.4h0.80v71.5h-0.80zM803.17 199.4h0.80v71.5h-0.80zM929.49 199.4h0.80v71.5h-0.80zM1003.03 199.4h0.80v71.5h-0.80zM1140.54 199.4h0.80v71.5h-0.80zM1169.32 199.4h0.80v71.5h-0.80zM1206.89 199.4h0.80v71.5h-0.80zM1214.89 199.4h0.80v71.5h-0.80zM1236.47 199.4h0.80v71.5h-0.80zM1238.87 199.4h0.80v71.5h-0.80z"/>
<path fill="#FEC6B5" d="M807.17 199.4h0.80v71.5h-0.80zM809.57 199.4h0.80v71.5h-0.80zM880.72 199.4h0.80v71.5h-0.80zM882.32 199.4h0.80v71.5h-0.80zM971.06 199.4h0.80v71.5h-0.80zM994.24 199.4h0.80v71.5h-0.80zM1011.83 199.4h0.80v71.5h-0.80zM1039.81 199.4h0.80v71.5h-0.80zM1054.20 199.4h0.80v71.5h-0.80zM1064.59 199.4h0.80v71.5h-0.80zM1068.59 199.4h0.80v71.5h-0.80zM1072.59 199.4h0.80v71.5h-0.80zM1087.78 199.4h0.80v71.5h-0.80zM1113.36 199.4h0.80v71.5h-0.80zM1115.76 199.4h0.80v71.5h-0.80zM1130.95 199.4h0.80v71.5h-0.80zM1154.93 199.4h0.80v71.5h-0.80zM1166.12 199.4h0.80v71.5h-0.80zM1257.26 199.4h0.80v71.5h-0.80z"/>
<path fill="#FEC1AF" d="M775.99 199.4h0.80v71.5h-0.80zM836.75 199.4h1.60v71.5h-1.60zM874.32 199.4h0.80v71.5h-0.80zM975.85 199.4h0.80v71.5h-0.80zM1006.23 199.4h0.80v71.5h-0.80zM1007.83 199.4h0.80v71.5h-0.80zM1019.82 199.4h0.80v71.5h-0.80zM1022.22 199.4h0.80v71.5h-0.80zM1025.42 199.4h0.80v71.5h-0.80zM1032.61 199.4h0.80v71.5h-0.80zM1047.00 199.4h0.80v71.5h-0.80zM1083.78 199.4h0.80v71.5h-0.80zM1092.57 199.4h0.80v71.5h-0.80zM1133.34 199.4h0.80v71.5h-0.80zM1150.13 199.4h0.80v71.5h-0.80z"/>
<path fill="#FDBCA9" d="M771.20 199.4h0.80v71.5h-0.80zM781.59 199.4h0.80v71.5h-0.80zM783.19 199.4h0.80v71.5h-0.80zM793.58 199.4h0.80v71.5h-0.80zM803.97 199.4h0.80v71.5h-0.80zM815.16 199.4h0.80v71.5h-0.80zM819.16 199.4h0.80v71.5h-0.80zM831.95 199.4h0.80v71.5h-0.80zM835.95 199.4h0.80v71.5h-0.80zM838.35 199.4h0.80v71.5h-0.80zM843.15 199.4h0.80v71.5h-0.80zM852.74 199.4h0.80v71.5h-0.80zM855.94 199.4h0.80v71.5h-0.80zM867.93 199.4h0.80v71.5h-0.80zM910.30 199.4h0.80v71.5h-0.80zM914.30 199.4h0.80v71.5h-0.80zM925.49 199.4h0.80v71.5h-0.80zM935.08 199.4h0.80v71.5h-0.80zM937.48 199.4h0.80v71.5h-0.80zM943.88 199.4h0.80v71.5h-0.80zM956.67 199.4h0.80v71.5h-0.80zM973.46 199.4h0.80v71.5h-0.80zM981.45 199.4h0.80v71.5h-0.80zM983.85 199.4h1.60v71.5h-1.60zM1014.23 199.4h0.80v71.5h-0.80zM1016.63 199.4h0.80v71.5h-0.80zM1027.02 199.4h0.80v71.5h-0.80zM1034.21 199.4h0.80v71.5h-0.80zM1063.79 199.4h0.80v71.5h-0.80zM1066.99 199.4h0.80v71.5h-0.80zM1093.37 199.4h0.80v71.5h-0.80zM1129.35 199.4h0.80v71.5h-0.80zM1155.73 199.4h1.60v71.5h-1.60zM1215.69 199.4h0.80v71.5h-0.80zM1237.27 199.4h0.80v71.5h-0.80z"/>
<path fill="#FDB7A3" d="M779.19 199.4h1.60v71.5h-1.60zM794.38 199.4h0.80v71.5h-0.80zM799.98 199.4h0.80v71.5h-0.80zM804.77 199.4h0.80v71.5h-0.80zM812.77 199.4h0.80v71.5h-0.80zM814.37 199.4h0.80v71.5h-0.80zM820.76 199.4h1.60v71.5h-1.60zM862.33 199.4h0.80v71.5h-0.80zM877.52 199.4h0.80v71.5h-0.80zM887.11 199.4h0.80v71.5h-0.80zM888.71 199.4h0.80v71.5h-0.80zM896.71 199.4h0.80v71.5h-0.80zM913.50 199.4h0.80v71.5h-0.80zM915.10 199.4h2.40v71.5h-2.40zM928.69 199.4h0.80v71.5h-0.80zM932.68 199.4h0.80v71.5h-0.80zM955.87 199.4h0.80v71.5h-0.80zM976.65 199.4h0.80v71.5h-0.80zM982.25 199.4h0.80v71.5h-0.80zM991.04 199.4h0.80v71.5h-0.80zM995.04 199.4h0.80v71.5h-0.80zM997.44 199.4h0.80v71.5h-0.80zM1024.62 199.4h0.80v71.5h-0.80zM1028.62 199.4h0.80v71.5h-0.80zM1045.41 199.4h0.80v71.5h-0.80zM1051.80 199.4h0.80v71.5h-0.80zM1061.39 199.4h0.80v71.5h-0.80zM1086.98 199.4h0.80v71.5h-0.80zM1088.58 199.4h0.80v71.5h-0.80zM1094.97 199.4h0.80v71.5h-0.80zM1103.76 199.4h0.80v71.5h-0.80zM1107.76 199.4h0.80v71.5h-0.80zM1116.56 199.4h0.80v71.5h-0.80zM1118.95 199.4h0.80v71.5h-0.80zM1120.55 199.4h0.80v71.5h-0.80zM1219.68 199.4h0.80v71.5h-0.80zM1232.48 199.4h0.80v71.5h-0.80zM1272.45 199.4h0.80v71.5h-0.80z"/>
<path fill="#FDB29C" d="M767.20 199.4h0.80v71.5h-0.80zM791.18 199.4h0.80v71.5h-0.80zM805.57 199.4h0.80v71.5h-0.80zM818.36 199.4h0.80v71.5h-0.80zM827.96 199.4h1.60v71.5h-1.60zM847.14 199.4h0.80v71.5h-0.80zM851.14 199.4h0.80v71.5h-0.80zM855.14 199.4h0.80v71.5h-0.80zM891.11 199.4h0.80v71.5h-0.80zM892.71 199.4h0.80v71.5h-0.80zM894.31 199.4h1.60v71.5h-1.60zM899.91 199.4h0.80v71.5h-0.80zM903.90 199.4h0.80v71.5h-0.80zM908.70 199.4h0.80v71.5h-0.80zM912.70 199.4h0.80v71.5h-0.80zM919.89 199.4h0.80v71.5h-0.80zM930.28 199.4h0.80v71.5h-0.80zM946.27 199.4h1.60v71.5h-1.60zM953.47 199.4h0.80v71.5h-0.80zM955.07 199.4h0.80v71.5h-0.80zM960.66 199.4h0.80v71.5h-0.80zM967.86 199.4h0.80v71.5h-0.80zM969.46 199.4h0.80v71.5h-0.80zM978.25 199.4h0.80v71.5h-0.80zM992.64 199.4h0.80v71.5h-0.80zM998.24 199.4h0.80v71.5h-0.80zM999.84 199.4h0.80v71.5h-0.80zM1020.62 199.4h0.80v71.5h-0.80zM1029.42 199.4h0.80v71.5h-0.80zM1044.61 199.4h0.80v71.5h-0.80zM1050.20 199.4h0.80v71.5h-0.80zM1053.40 199.4h0.80v71.5h-0.80zM1076.58 199.4h0.80v71.5h-0.80zM1078.18 199.4h0.80v71.5h-0.80zM1085.38 199.4h0.80v71.5h-0.80zM1102.17 199.4h0.80v71.5h-0.80zM1122.15 199.4h0.80v71.5h-0.80zM1123.75 199.4h1.60v71.5h-1.60zM1126.95 199.4h0.80v71.5h-0.80zM1134.14 199.4h0.80v71.5h-0.80zM1163.72 199.4h0.80v71.5h-0.80zM1282.84 199.4h0.80v71.5h-0.80z"/>
<path fill="#FDAD96" d="M764.00 199.4h0.80v71.5h-0.80zM777.59 199.4h0.80v71.5h-0.80zM784.79 199.4h1.60v71.5h-1.60zM792.78 199.4h0.80v71.5h-0.80zM797.58 199.4h0.80v71.5h-0.80zM813.57 199.4h0.80v71.5h-0.80zM822.36 199.4h0.80v71.5h-0.80zM833.55 199.4h0.80v71.5h-0.80zM847.94 199.4h0.80v71.5h-0.80zM871.13 199.4h0.80v71.5h-0.80zM884.72 199.4h0.80v71.5h-0.80zM893.51 199.4h0.80v71.5h-0.80zM903.10 199.4h0.80v71.5h-0.80zM905.50 199.4h0.80v71.5h-0.80zM907.90 199.4h0.80v71.5h-0.80zM918.29 199.4h0.80v71.5h-0.80zM927.09 199.4h1.60v71.5h-1.60zM931.08 199.4h1.60v71.5h-1.60zM942.28 199.4h0.80v71.5h-0.80zM944.67 199.4h0.80v71.5h-0.80zM963.06 199.4h1.60v71.5h-1.60zM967.06 199.4h0.80v71.5h-0.80zM987.05 199.4h0.80v71.5h-0.80zM999.04 199.4h0.80v71.5h-0.80zM1015.03 199.4h0.80v71.5h-0.80zM1023.82 199.4h0.80v71.5h-0.80zM1059.00 199.4h0.80v71.5h-0.80zM1062.19 199.4h0.80v71.5h-0.80zM1086.18 199.4h0.80v71.5h-0.80zM1091.77 199.4h0.80v71.5h-0.80zM1101.37 199.4h0.80v71.5h-0.80zM1114.16 199.4h0.80v71.5h-0.80zM1141.34 199.4h0.80v71.5h-0.80zM1144.54 199.4h0.80v71.5h-0.80zM1153.33 199.4h0.80v71.5h-0.80zM1158.93 199.4h0.80v71.5h-0.80zM1160.53 199.4h0.80v71.5h-0.80zM1162.12 199.4h0.80v71.5h-0.80zM1166.92 199.4h0.80v71.5h-0.80z"/>
<path fill="#FDA890" d="M765.60 199.4h0.80v71.5h-0.80zM772.79 199.4h0.80v71.5h-0.80zM787.98 199.4h0.80v71.5h-0.80zM808.77 199.4h0.80v71.5h-0.80zM823.96 199.4h0.80v71.5h-0.80zM827.16 199.4h0.80v71.5h-0.80zM829.55 199.4h0.80v71.5h-0.80zM842.35 199.4h0.80v71.5h-0.80zM846.34 199.4h0.80v71.5h-0.80zM863.13 199.4h0.80v71.5h-0.80zM868.73 199.4h0.80v71.5h-0.80zM876.72 199.4h0.80v71.5h-0.80zM886.32 199.4h0.80v71.5h-0.80zM891.91 199.4h0.80v71.5h-0.80zM902.30 199.4h0.80v71.5h-0.80zM907.10 199.4h0.80v71.5h-0.80zM933.48 199.4h0.80v71.5h-0.80zM945.47 199.4h0.80v71.5h-0.80zM959.07 199.4h0.80v71.5h-0.80zM964.66 199.4h0.80v71.5h-0.80zM990.24 199.4h0.80v71.5h-0.80zM991.84 199.4h0.80v71.5h-0.80zM1026.22 199.4h0.80v71.5h-0.80zM1037.41 199.4h0.80v71.5h-0.80zM1058.20 199.4h0.80v71.5h-0.80zM1065.39 199.4h0.80v71.5h-0.80zM1070.99 199.4h0.80v71.5h-0.80zM1075.78 199.4h0.80v71.5h-0.80zM1079.78 199.4h0.80v71.5h-0.80zM1102.97 199.4h0.80v71.5h-0.80zM1143.74 199.4h0.80v71.5h-0.80zM1154.13 199.4h0.80v71.5h-0.80zM1158.13 199.4h0.80v71.5h-0.80zM1165.32 199.4h0.80v71.5h-0.80z"/>
<path fill="#FDA187" d="M768.80 199.4h0.80v71.5h-0.80zM774.39 199.4h0.80v71.5h-0.80zM787.18 199.4h0.80v71.5h-0.80zM796.78 199.4h0.80v71.5h-0.80zM811.17 199.4h0.80v71.5h-0.80zM825.56 199.4h1.60v71.5h-1.60zM831.15 199.4h0.80v71.5h-0.80zM850.34 199.4h0.80v71.5h-0.80zM856.74 199.4h0.80v71.5h-0.80zM858.33 199.4h0.80v71.5h-0.80zM875.12 199.4h0.80v71.5h-0.80zM885.52 199.4h0.80v71.5h-0.80zM934.28 199.4h0.80v71.5h-0.80zM939.08 199.4h0.80v71.5h-0.80zM940.68 199.4h0.80v71.5h-0.80zM947.87 199.4h0.80v71.5h-0.80zM949.47 199.4h0.80v71.5h-0.80zM951.07 199.4h0.80v71.5h-0.80zM958.27 199.4h0.80v71.5h-0.80zM977.45 199.4h0.80v71.5h-0.80zM987.85 199.4h0.80v71.5h-0.80zM989.44 199.4h0.80v71.5h-0.80zM996.64 199.4h0.80v71.5h-0.80zM1002.24 199.4h0.80v71.5h-0.80zM1010.23 199.4h0.80v71.5h-0.80zM1033.41 199.4h0.80v71.5h-0.80zM1036.61 199.4h0.80v71.5h-0.80zM1039.01 199.4h0.80v71.5h-0.80zM1043.01 199.4h0.80v71.5h-0.80zM1055.00 199.4h1.60v71.5h-1.60zM1060.59 199.4h0.80v71.5h-0.80zM1069.39 199.4h0.80v71.5h-0.80zM1077.38 199.4h0.80v71.5h-0.80zM1081.38 199.4h0.80v71.5h-0.80zM1147.73 199.4h0.80v71.5h-0.80zM1171.72 199.4h0.80v71.5h-0.80z"/>
<path fill="#FD9A7E" d="M766.40 199.4h0.80v71.5h-0.80zM771.99 199.4h0.80v71.5h-0.80zM778.39 199.4h0.80v71.5h-0.80zM788.78 199.4h0.80v71.5h-0.80zM795.18 199.4h0.80v71.5h-0.80zM798.38 199.4h0.80v71.5h-0.80zM800.77 199.4h0.80v71.5h-0.80zM807.97 199.4h0.80v71.5h-0.80zM817.56 199.4h0.80v71.5h-0.80zM835.15 199.4h0.80v71.5h-0.80zM843.94 199.4h0.80v71.5h-0.80zM859.13 199.4h1.60v71.5h-1.60zM865.53 199.4h0.80v71.5h-0.80zM870.33 199.4h0.80v71.5h-0.80zM875.92 199.4h0.80v71.5h-0.80zM878.32 199.4h0.80v71.5h-0.80zM879.92 199.4h0.80v71.5h-0.80zM881.52 199.4h0.80v71.5h-0.80zM887.91 199.4h0.80v71.5h-0.80zM897.51 199.4h0.80v71.5h-0.80zM899.11 199.4h0.80v71.5h-0.80zM906.30 199.4h0.80v71.5h-0.80zM917.49 199.4h0.80v71.5h-0.80zM935.88 199.4h0.80v71.5h-0.80zM948.67 199.4h0.80v71.5h-0.80zM954.27 199.4h0.80v71.5h-0.80zM968.66 199.4h0.80v71.5h-0.80zM988.64 199.4h0.80v71.5h-0.80zM1001.44 199.4h0.80v71.5h-0.80zM1003.83 199.4h0.80v71.5h-0.80zM1015.83 199.4h0.80v71.5h-0.80zM1019.02 199.4h0.80v71.5h-0.80zM1021.42 199.4h0.80v71.5h-0.80zM1023.02 199.4h0.80v71.5h-0.80zM1071.79 199.4h0.80v71.5h-0.80zM1074.19 199.4h0.80v71.5h-0.80zM1104.56 199.4h0.80v71.5h-0.80zM1111.76 199.4h0.80v71.5h-0.80zM1128.55 199.4h0.80v71.5h-0.80zM1131.75 199.4h0.80v71.5h-0.80zM1150.93 199.4h0.80v71.5h-0.80zM1167.72 199.4h0.80v71.5h-0.80z"/>
<path fill="#FD9376" d="M764.80 199.4h0.80v71.5h-0.80zM768.00 199.4h0.80v71.5h-0.80zM769.60 199.4h0.80v71.5h-0.80zM775.19 199.4h0.80v71.5h-0.80zM786.38 199.4h0.80v71.5h-0.80zM789.58 199.4h0.80v71.5h-0.80zM791.98 199.4h0.80v71.5h-0.80zM806.37 199.4h0.80v71.5h-0.80zM824.76 199.4h0.80v71.5h-0.80zM830.35 199.4h0.80v71.5h-0.80zM832.75 199.4h0.80v71.5h-0.80zM834.35 199.4h0.80v71.5h-0.80zM853.54 199.4h0.80v71.5h-0.80zM860.73 199.4h0.80v71.5h-0.80zM864.73 199.4h0.80v71.5h-0.80zM873.52 199.4h0.80v71.5h-0.80zM883.92 199.4h0.80v71.5h-0.80zM890.31 199.4h0.80v71.5h-0.80zM895.91 199.4h0.80v71.5h-0.80zM904.70 199.4h0.80v71.5h-0.80zM909.50 199.4h0.80v71.5h-0.80zM923.89 199.4h0.80v71.5h-0.80zM936.68 199.4h0.80v71.5h-0.80zM939.88 199.4h0.80v71.5h-0.80zM962.26 199.4h0.80v71.5h-0.80zM966.26 199.4h0.80v71.5h-0.80zM970.26 199.4h0.80v71.5h-0.80zM985.45 199.4h0.80v71.5h-0.80zM995.84 199.4h0.80v71.5h-0.80zM1011.03 199.4h0.80v71.5h-0.80zM1027.82 199.4h0.80v71.5h-0.80zM1035.01 199.4h0.80v71.5h-0.80zM1070.19 199.4h0.80v71.5h-0.80zM1098.97 199.4h0.80v71.5h-0.80zM1130.15 199.4h0.80v71.5h-0.80zM1134.94 199.4h0.80v71.5h-0.80zM1164.52 199.4h0.80v71.5h-0.80z"/>
<path fill="#FD8C6D" d="M770.40 199.4h0.80v71.5h-0.80zM790.38 199.4h0.80v71.5h-0.80zM795.98 199.4h0.80v71.5h-0.80zM799.18 199.4h0.80v71.5h-0.80zM801.57 199.4h0.80v71.5h-0.80zM815.96 199.4h0.80v71.5h-0.80zM839.15 199.4h0.80v71.5h-0.80zM849.54 199.4h0.80v71.5h-0.80zM861.53 199.4h0.80v71.5h-0.80zM867.13 199.4h0.80v71.5h-0.80zM869.53 199.4h0.80v71.5h-0.80zM889.51 199.4h0.80v71.5h-0.80zM900.71 199.4h0.80v71.5h-0.80zM911.90 199.4h0.80v71.5h-0.80zM943.08 199.4h0.80v71.5h-0.80zM951.87 199.4h0.80v71.5h-0.80zM972.66 199.4h0.80v71.5h-0.80zM974.25 199.4h0.80v71.5h-0.80zM1008.63 199.4h0.80v71.5h-0.80zM1046.20 199.4h0.80v71.5h-0.80zM1056.60 199.4h1.60v71.5h-1.60zM1100.57 199.4h0.80v71.5h-0.80zM1106.16 199.4h0.80v71.5h-0.80zM1127.75 199.4h0.80v71.5h-0.80zM1159.73 199.4h0.80v71.5h-0.80z"/>
<path fill="#FD8564" d="M776.79 199.4h0.80v71.5h-0.80zM811.97 199.4h0.80v71.5h-0.80zM839.95 199.4h0.80v71.5h-0.80zM911.10 199.4h0.80v71.5h-0.80zM921.49 199.4h0.80v71.5h-0.80zM959.86 199.4h0.80v71.5h-0.80zM993.44 199.4h0.80v71.5h-0.80zM1004.63 199.4h0.80v71.5h-0.80zM1009.43 199.4h0.80v71.5h-0.80zM1042.21 199.4h0.80v71.5h-0.80zM1049.40 199.4h0.80v71.5h-0.80zM1118.15 199.4h0.80v71.5h-0.80z"/>
<path fill="#FD7F5F" d="M773.59 199.4h0.80v71.5h-0.80zM823.16 199.4h0.80v71.5h-0.80zM851.94 199.4h0.80v71.5h-0.80zM938.28 199.4h0.80v71.5h-0.80zM971.86 199.4h0.80v71.5h-0.80zM1000.64 199.4h0.80v71.5h-0.80zM1017.42 199.4h0.80v71.5h-0.80zM1098.17 199.4h0.80v71.5h-0.80zM1125.35 199.4h0.80v71.5h-0.80zM1161.33 199.4h0.80v71.5h-0.80z"/>
<path fill="#FD7A5A" d="M810.37 199.4h0.80v71.5h-0.80zM863.93 199.4h0.80v71.5h-0.80zM922.29 199.4h0.80v71.5h-0.80zM961.46 199.4h0.80v71.5h-0.80zM975.05 199.4h0.80v71.5h-0.80zM1146.93 199.4h0.80v71.5h-0.80zM1170.92 199.4h0.80v71.5h-0.80z"/>
<path fill="#FC7455" d="M871.93 199.4h0.80v71.5h-0.80zM923.09 199.4h0.80v71.5h-0.80zM1005.43 199.4h0.80v71.5h-0.80zM1051.00 199.4h0.80v71.5h-0.80zM1110.96 199.4h0.80v71.5h-0.80zM1162.92 199.4h0.80v71.5h-0.80z"/>
<path fill="#FC6F50" d="M879.12 199.4h0.80v71.5h-0.80zM1012.63 199.4h0.80v71.5h-0.80zM1040.61 199.4h0.80v71.5h-0.80z"/>
<path fill="#FC6245" d="M952.67 199.4h0.80v71.5h-0.80z"/>
<path fill="#FFF8F5" d="M1246.87 270.9h0.80v71.5h-0.80zM1303.63 270.9h0.80v71.5h-0.80zM1305.23 270.9h0.80v71.5h-0.80zM1333.21 270.9h1.60v71.5h-1.60z"/>
<path fill="#FFF4F0" d="M1327.61 270.9h0.80v71.5h-0.80z"/>
<path fill="#FFF0EB" d="M1215.69 270.9h0.80v71.5h-0.80zM1294.83 270.9h0.80v71.5h-0.80z"/>
<path fill="#FEECE6" d="M1226.88 270.9h0.80v71.5h-0.80zM1234.87 270.9h0.80v71.5h-0.80zM1252.46 270.9h0.80v71.5h-0.80zM1266.85 270.9h0.80v71.5h-0.80zM1285.24 270.9h0.80v71.5h-0.80zM1321.21 270.9h0.80v71.5h-0.80z"/>
<path fill="#FEE9E2" d="M1174.12 270.9h0.80v71.5h-0.80zM1318.02 270.9h0.80v71.5h-0.80z"/>
<path fill="#FEE5DD" d="M1145.34 270.9h0.80v71.5h-0.80zM1221.28 270.9h0.80v71.5h-0.80zM1332.41 270.9h0.80v71.5h-0.80z"/>
<path fill="#FEE1D8" d="M1154.93 270.9h0.80v71.5h-0.80zM1158.93 270.9h0.80v71.5h-0.80zM1196.50 270.9h0.80v71.5h-0.80zM1207.69 270.9h0.80v71.5h-0.80zM1239.67 270.9h0.80v71.5h-0.80zM1272.45 270.9h0.80v71.5h-0.80z"/>
<path fill="#FEDED3" d="M1144.54 270.9h0.80v71.5h-0.80zM1260.46 270.9h0.80v71.5h-0.80zM1326.81 270.9h0.80v71.5h-0.80z"/>
<path fill="#FEDACE" d="M1138.94 270.9h0.80v71.5h-0.80zM1149.33 270.9h0.80v71.5h-0.80zM1299.63 270.9h0.80v71.5h-0.80zM1301.23 270.9h0.80v71.5h-0.80z"/>
<path fill="#FED5C8" d="M1119.75 270.9h0.80v71.5h-0.80zM1124.55 270.9h0.80v71.5h-0.80zM1133.34 270.9h0.80v71.5h-0.80zM1161.33 270.9h0.80v71.5h-0.80zM1199.70 270.9h0.80v71.5h-0.80z"/>
<path fill="#FED0C2" d="M1122.15 270.9h0.80v71.5h-0.80zM1296.43 270.9h0.80v71.5h-0.80zM1322.01 270.9h0.80v71.5h-0.80z"/>
<path fill="#FEC6B5" d="M1122.95 270.9h0.80v71.5h-0.80zM1154.13 270.9h0.80v71.5h-0.80zM1318.82 270.9h0.80v71.5h-0.80z"/>
<path fill="#FEC1AF" d="M1118.95 270.9h0.80v71.5h-0.80zM1126.15 270.9h0.80v71.5h-0.80zM1127.75 270.9h0.80v71.5h-0.80zM1130.15 270.9h0.80v71.5h-0.80zM1139.74 270.9h0.80v71.5h-0.80zM1159.73 270.9h0.80v71.5h-0.80z"/>
<path fill="#FDBCA9" d="M1014.23 270.9h0.80v71.5h-0.80zM1106.96 270.9h0.80v71.5h-0.80zM1125.35 270.9h0.80v71.5h-0.80zM1129.35 270.9h0.80v71.5h-0.80zM1130.95 270.9h0.80v71.5h-0.80zM1142.14 270.9h0.80v71.5h-0.80zM1147.73 270.9h0.80v71.5h-0.80zM1166.92 270.9h0.80v71.5h-0.80zM1171.72 270.9h0.80v71.5h-0.80zM1339.60 270.9h0.80v71.5h-0.80z"/>
<path fill="#FDB7A3" d="M1029.42 270.9h0.80v71.5h-0.80zM1034.21 270.9h0.80v71.5h-0.80zM1082.98 270.9h0.80v71.5h-0.80zM1150.93 270.9h0.80v71.5h-0.80zM1157.33 270.9h0.80v71.5h-0.80z"/>
<path fill="#FDB29C" d="M1019.82 270.9h0.80v71.5h-0.80zM1021.42 270.9h0.80v71.5h-0.80zM1058.20 270.9h1.60v71.5h-1.60zM1069.39 270.9h0.80v71.5h-0.80zM1090.97 270.9h0.80v71.5h-0.80zM1108.56 270.9h0.80v71.5h-0.80zM1121.35 270.9h0.80v71.5h-0.80zM1170.92 270.9h0.80v71.5h-0.80z"/>
<path fill="#FDAD96" d="M1044.61 270.9h1.60v71.5h-1.60zM1062.99 270.9h0.80v71.5h-0.80zM1072.59 270.9h0.80v71.5h-0.80zM1076.58 270.9h0.80v71.5h-0.80zM1087.78 270.9h0.80v71.5h-0.80zM1112.56 270.9h0.80v71.5h-0.80zM1162.12 270.9h0.80v71.5h-0.80z"/>
<path fill="#FDA890" d="M905.50 270.9h0.80v71.5h-0.80zM1012.63 270.9h0.80v71.5h-0.80zM1027.02 270.9h0.80v71.5h-0.80zM1033.41 270.9h0.80v71.5h-0.80zM1052.60 270.9h0.80v71.5h-0.80zM1060.59 270.9h0.80v71.5h-0.80zM1086.98 270.9h0.80v71.5h-0.80zM1088.58 270.9h0.80v71.5h-0.80zM1114.16 270.9h0.80v71.5h-0.80zM1126.95 270.9h0.80v71.5h-0.80z"/>
<path fill="#FDA187" d="M937.48 270.9h0.80v71.5h-0.80zM947.87 270.9h0.80v71.5h-0.80zM970.26 270.9h0.80v71.5h-0.80zM992.64 270.9h0.80v71.5h-0.80zM1007.03 270.9h0.80v71.5h-0.80zM1023.82 270.9h1.60v71.5h-1.60zM1027.82 270.9h0.80v71.5h-0.80zM1030.22 270.9h0.80v71.5h-0.80zM1041.41 270.9h0.80v71.5h-0.80zM1043.01 270.9h0.80v71.5h-0.80zM1066.99 270.9h0.80v71.5h-0.80zM1073.39 270.9h0.80v71.5h-0.80zM1090.17 270.9h0.80v71.5h-0.80zM1106.16 270.9h0.80v71.5h-0.80zM1118.15 270.9h0.80v71.5h-0.80zM1120.55 270.9h0.80v71.5h-0.80z"/>
<path fill="#FD9A7E" d="M787.98 270.9h0.80v71.5h-0.80zM790.38 270.9h0.80v71.5h-0.80zM838.35 270.9h0.80v71.5h-0.80zM869.53 270.9h0.80v71.5h-0.80zM891.11 270.9h0.80v71.5h-0.80zM896.71 270.9h0.80v71.5h-0.80zM923.89 270.9h0.80v71.5h-0.80zM962.26 270.9h0.80v71.5h-0.80zM972.66 270.9h0.80v71.5h-0.80zM980.65 270.9h0.80v71.5h-0.80zM1011.03 270.9h0.80v71.5h-0.80zM1013.43 270.9h0.80v71.5h-0.80zM1015.03 270.9h0.80v71.5h-0.80zM1020.62 270.9h0.80v71.5h-0.80zM1031.81 270.9h0.80v71.5h-0.80zM1037.41 270.9h0.80v71.5h-0.80zM1054.20 270.9h0.80v71.5h-0.80zM1062.19 270.9h0.80v71.5h-0.80zM1067.79 270.9h0.80v71.5h-0.80zM1075.78 270.9h0.80v71.5h-0.80zM1078.98 270.9h0.80v71.5h-0.80zM1085.38 270.9h0.80v71.5h-0.80zM1103.76 270.9h0.80v71.5h-0.80zM1110.96 270.9h0.80v71.5h-0.80zM1156.53 270.9h0.80v71.5h-0.80zM1169.32 270.9h0.80v71.5h-0.80z"/>
<path fill="#FD9376" d="M770.40 270.9h0.80v71.5h-0.80zM772.79 270.9h0.80v71.5h-0.80zM783.99 270.9h0.80v71.5h-0.80zM791.98 270.9h0.80v71.5h-0.80zM797.58 270.9h0.80v71.5h-0.80zM805.57 270.9h1.60v71.5h-1.60zM830.35 270.9h0.80v71.5h-0.80zM833.55 270.9h0.80v71.5h-0.80zM856.74 270.9h0.80v71.5h-0.80zM859.13 270.9h0.80v71.5h-0.80zM861.53 270.9h0.80v71.5h-0.80zM868.73 270.9h0.80v71.5h-0.80zM897.51 270.9h1.60v71.5h-1.60zM906.30 270.9h0.80v71.5h-0.80zM912.70 270.9h0.80v71.5h-0.80zM918.29 270.9h0.80v71.5h-0.80zM924.69 270.9h0.80v71.5h-0.80zM947.07 270.9h0.80v71.5h-0.80zM969.46 270.9h0.80v71.5h-0.80zM977.45 270.9h0.80v71.5h-0.80zM979.85 270.9h0.80v71.5h-0.80zM985.45 270.9h0.80v71.5h-0.80zM987.05 270.9h0.80v71.5h-0.80zM989.44 270.9h0.80v71.5h-0.80zM995.84 270.9h0.80v71.5h-0.80zM1015.83 270.9h0.80v71.5h-0.80zM1019.02 270.9h0.80v71.5h-0.80zM1026.22 270.9h0.80v71.5h-0.80zM1035.01 270.9h0.80v71.5h-0.80zM1039.81 270.9h0.80v71.5h-0.80zM1061.39 270.9h0.80v71.5h-0.80zM1066.19 270.9h0.80v71.5h-0.80zM1074.19 270.9h1.60v71.5h-1.60zM1077.38 270.9h0.80v71.5h-0.80zM1114.96 270.9h0.80v71.5h-0.80zM1134.14 270.9h0.80v71.5h-0.80zM1160.53 270.9h0.80v71.5h-0.80z"/>
<path fill="#FD8C6D" d="M764.00 270.9h0.80v71.5h-0.80zM765.60 270.9h0.80v71.5h-0.80zM771.99 270.9h0.80v71.5h-0.80zM778.39 270.9h0.80v71.5h-0.80zM781.59 270.9h0.80v71.5h-0.80zM784.79 270.9h0.80v71.5h-0.80zM786.38 270.9h0.80v71.5h-0.80zM791.18 270.9h0.80v71.5h-0.80zM803.17 270.9h0.80v71.5h-0.80zM808.77 270.9h0.80v71.5h-0.80zM814.37 270.9h1.60v71.5h-1.60zM823.16 270.9h0.80v71.5h-0.80zM827.16 270.9h0.80v71.5h-0.80zM839.15 270.9h0.80v71.5h-0.80zM844.74 270.9h0.80v71.5h-0.80zM851.14 270.9h1.60v71.5h-1.60zM859.93 270.9h0.80v71.5h-0.80zM873.52 270.9h0.80v71.5h-0.80zM877.52 270.9h0.80v71.5h-0.80zM887.91 270.9h0.80v71.5h-0.80zM904.70 270.9h0.80v71.5h-0.80zM907.90 270.9h0.80v71.5h-0.80zM930.28 270.9h0.80v71.5h-0.80zM933.48 270.9h0.80v71.5h-0.80zM943.88 270.9h0.80v71.5h-0.80zM945.47 270.9h0.80v71.5h-0.80zM960.66 270.9h0.80v71.5h-0.80zM963.06 270.9h0.80v71.5h-0.80zM978.25 270.9h1.60v71.5h-1.60zM981.45 270.9h0.80v71.5h-0.80zM988.64 270.9h0.80v71.5h-0.80zM1017.42 270.9h0.80v71.5h-0.80zM1047.00 270.9h0.80v71.5h-0.80zM1048.60 270.9h0.80v71.5h-0.80zM1050.20 270.9h0.80v71.5h-0.80zM1053.40 270.9h0.80v71.5h-0.80zM1071.79 270.9h0.80v71.5h-0.80zM1081.38 270.9h0.80v71.5h-0.80zM1086.18 270.9h0.80v71.5h-0.80zM1091.77 270.9h1.60v71.5h-1.60zM1094.17 270.9h0.80v71.5h-0.80zM1096.57 270.9h0.80v71.5h-0.80zM1098.97 270.9h0.80v71.5h-0.80zM1100.57 270.9h0.80v71.5h-0.80zM1105.36 270.9h0.80v71.5h-0.80zM1110.16 270.9h0.80v71.5h-0.80zM1153.33 270.9h0.80v71.5h-0.80z"/>
<path fill="#FD8564" d="M768.00 270.9h0.80v71.5h-0.80zM774.39 270.9h0.80v71.5h-0.80zM779.19 270.9h1.60v71.5h-1.60zM793.58 270.9h2.40v71.5h-2.40zM807.17 270.9h0.80v71.5h-0.80zM812.77 270.9h0.80v71.5h-0.80zM817.56 270.9h1.60v71.5h-1.60zM819.96 270.9h0.80v71.5h-0.80zM829.55 270.9h0.80v71.5h-0.80zM841.55 270.9h0.80v71.5h-0.80zM843.15 270.9h0.80v71.5h-0.80zM847.94 270.9h0.80v71.5h-0.80zM849.54 270.9h1.60v71.5h-1.60zM852.74 270.9h0.80v71.5h-0.80zM855.14 270.9h1.60v71.5h-1.60zM863.93 270.9h0.80v71.5h-0.80zM867.93 270.9h0.80v71.5h-0.80zM871.13 270.9h0.80v71.5h-0.80zM879.92 270.9h4.80v71.5h-4.80zM890.31 270.9h0.80v71.5h-0.80zM892.71 270.9h0.80v71.5h-0.80zM901.50 270.9h0.80v71.5h-0.80zM919.89 270.9h0.80v71.5h-0.80zM922.29 270.9h0.80v71.5h-0.80zM927.09 270.9h2.40v71.5h-2.40zM934.28 270.9h0.80v71.5h-0.80zM936.68 270.9h0.80v71.5h-0.80zM938.28 270.9h0.80v71.5h-0.80zM940.68 270.9h0.80v71.5h-0.80zM942.28 270.9h0.80v71.5h-0.80zM948.67 270.9h0.80v71.5h-0.80zM950.27 270.9h1.60v71.5h-1.60zM955.87 270.9h0.80v71.5h-0.80zM958.27 270.9h0.80v71.5h-0.80zM965.46 270.9h0.80v71.5h-0.80zM967.86 270.9h0.80v71.5h-0.80zM973.46 270.9h0.80v71.5h-0.80zM982.25 270.9h0.80v71.5h-0.80zM991.84 270.9h0.80v71.5h-0.80zM997.44 270.9h0.80v71.5h-0.80zM1002.24 270.9h1.60v71.5h-1.60zM1006.23 270.9h0.80v71.5h-0.80zM1009.43 270.9h0.80v71.5h-0.80zM1022.22 270.9h1.60v71.5h-1.60zM1043.81 270.9h0.80v71.5h-0.80zM1046.20 270.9h0.80v71.5h-0.80zM1055.80 270.9h0.80v71.5h-0.80zM1059.80 270.9h0.80v71.5h-0.80zM1063.79 270.9h1.60v71.5h-1.60zM1079.78 270.9h0.80v71.5h-0.80zM1083.78 270.9h0.80v71.5h-0.80zM1089.37 270.9h0.80v71.5h-0.80zM1093.37 270.9h0.80v71.5h-0.80zM1099.77 270.9h0.80v71.5h-0.80zM1102.17 270.9h0.80v71.5h-0.80zM1146.14 270.9h0.80v71.5h-0.80zM1158.13 270.9h0.80v71.5h-0.80z"/>
<path fill="#FD7F5F" d="M768.80 270.9h0.80v71.5h-0.80zM773.59 270.9h0.80v71.5h-0.80zM775.99 270.9h0.80v71.5h-0.80zM796.78 270.9h0.80v71.5h-0.80zM799.18 270.9h0.80v71.5h-0.80zM804.77 270.9h0.80v71.5h-0.80zM807.97 270.9h0.80v71.5h-0.80zM809.57 270.9h0.80v71.5h-0.80zM822.36 270.9h0.80v71.5h-0.80zM824.76 270.9h0.80v71.5h-0.80zM826.36 270.9h0.80v71.5h-0.80zM831.15 270.9h0.80v71.5h-0.80zM834.35 270.9h0.80v71.5h-0.80zM836.75 270.9h0.80v71.5h-0.80zM842.35 270.9h0.80v71.5h-0.80zM848.74 270.9h0.80v71.5h-0.80zM853.54 270.9h0.80v71.5h-0.80zM858.33 270.9h0.80v71.5h-0.80zM860.73 270.9h0.80v71.5h-0.80zM874.32 270.9h0.80v71.5h-0.80zM876.72 270.9h0.80v71.5h-0.80zM887.11 270.9h0.80v71.5h-0.80zM891.91 270.9h0.80v71.5h-0.80zM895.11 270.9h0.80v71.5h-0.80zM908.70 270.9h0.80v71.5h-0.80zM913.50 270.9h1.60v71.5h-1.60zM915.89 270.9h1.60v71.5h-1.60zM919.09 270.9h0.80v71.5h-0.80zM920.69 270.9h0.80v71.5h-0.80zM925.49 270.9h0.80v71.5h-0.80zM941.48 270.9h0.80v71.5h-0.80zM949.47 270.9h0.80v71.5h-0.80zM953.47 270.9h0.80v71.5h-0.80zM956.67 270.9h1.60v71.5h-1.60zM959.86 270.9h0.80v71.5h-0.80zM964.66 270.9h0.80v71.5h-0.80zM974.25 270.9h2.40v71.5h-2.40zM984.65 270.9h0.80v71.5h-0.80zM986.25 270.9h0.80v71.5h-0.80zM999.84 270.9h0.80v71.5h-0.80zM1005.43 270.9h0.80v71.5h-0.80zM1010.23 270.9h0.80v71.5h-0.80zM1031.02 270.9h0.80v71.5h-0.80zM1032.61 270.9h0.80v71.5h-0.80zM1036.61 270.9h0.80v71.5h-0.80zM1065.39 270.9h0.80v71.5h-0.80zM1084.58 270.9h0.80v71.5h-0.80zM1095.77 270.9h0.80v71.5h-0.80zM1102.97 270.9h0.80v71.5h-0.80zM1111.76 270.9h0.80v71.5h-0.80zM1113.36 270.9h0.80v71.5h-0.80z"/>
<path fill="#FD7A5A" d="M766.40 270.9h0.80v71.5h-0.80zM771.20 270.9h0.80v71.5h-0.80zM775.19 270.9h0.80v71.5h-0.80zM780.79 270.9h0.80v71.5h-0.80zM782.39 270.9h1.60v71.5h-1.60zM785.59 270.9h0.80v71.5h-0.80zM787.18 270.9h0.80v71.5h-0.80zM788.78 270.9h0.80v71.5h-0.80zM802.37 270.9h0.80v71.5h-0.80zM820.76 270.9h0.80v71.5h-0.80zM825.56 270.9h0.80v71.5h-0.80zM828.76 270.9h0.80v71.5h-0.80zM832.75 270.9h0.80v71.5h-0.80zM840.75 270.9h0.80v71.5h-0.80zM843.94 270.9h0.80v71.5h-0.80zM846.34 270.9h1.60v71.5h-1.60zM857.54 270.9h0.80v71.5h-0.80zM862.33 270.9h1.60v71.5h-1.60zM865.53 270.9h0.80v71.5h-0.80zM871.93 270.9h1.60v71.5h-1.60zM875.12 270.9h0.80v71.5h-0.80zM885.52 270.9h0.80v71.5h-0.80zM893.51 270.9h0.80v71.5h-0.80zM899.91 270.9h0.80v71.5h-0.80zM903.10 270.9h1.60v71.5h-1.60zM910.30 270.9h0.80v71.5h-0.80zM915.10 270.9h0.80v71.5h-0.80zM921.49 270.9h0.80v71.5h-0.80zM923.09 270.9h0.80v71.5h-0.80zM926.29 270.9h0.80v71.5h-0.80zM929.49 270.9h0.80v71.5h-0.80zM931.88 270.9h0.80v71.5h-0.80zM935.08 270.9h0.80v71.5h-0.80zM939.88 270.9h0.80v71.5h-0.80zM943.08 270.9h0.80v71.5h-0.80zM951.87 270.9h0.80v71.5h-0.80zM955.07 270.9h0.80v71.5h-0.80zM963.86 270.9h0.80v71.5h-0.80zM966.26 270.9h0.80v71.5h-0.80zM968.66 270.9h0.80v71.5h-0.80zM971.86 270.9h0.80v71.5h-0.80zM976.65 270.9h0.80v71.5h-0.80zM990.24 270.9h0.80v71.5h-0.80zM996.64 270.9h0.80v71.5h-0.80zM1007.83 270.9h0.80v71.5h-0.80zM1035.81 270.9h0.80v71.5h-0.80zM1038.21 270.9h1.60v71.5h-1.60zM1042.21 270.9h0.80v71.5h-0.80zM1047.80 270.9h0.80v71.5h-0.80zM1049.40 270.9h0.80v71.5h-0.80zM1055.00 270.9h0.80v71.5h-0.80zM1068.59 270.9h0.80v71.5h-0.80zM1097.37 270.9h1.60v71.5h-1.60zM1104.56 270.9h0.80v71.5h-0.80z"/>
<path fill="#FC7455" d="M795.98 270.9h0.80v71.5h-0.80zM798.38 270.9h0.80v71.5h-0.80zM800.77 270.9h0.80v71.5h-0.80zM803.97 270.9h0.80v71.5h-0.80zM811.17 270.9h0.80v71.5h-0.80zM816.76 270.9h0.80v71.5h-0.80zM821.56 270.9h0.80v71.5h-0.80zM831.95 270.9h0.80v71.5h-0.80zM835.15 270.9h1.60v71.5h-1.60zM837.55 270.9h0.80v71.5h-0.80zM845.54 270.9h0.80v71.5h-0.80zM854.34 270.9h0.80v71.5h-0.80zM866.33 270.9h0.80v71.5h-0.80zM878.32 270.9h1.60v71.5h-1.60zM884.72 270.9h0.80v71.5h-0.80zM889.51 270.9h0.80v71.5h-0.80zM894.31 270.9h0.80v71.5h-0.80zM900.71 270.9h0.80v71.5h-0.80zM907.10 270.9h0.80v71.5h-0.80zM911.10 270.9h1.60v71.5h-1.60zM917.49 270.9h0.80v71.5h-0.80zM931.08 270.9h0.80v71.5h-0.80zM932.68 270.9h0.80v71.5h-0.80zM935.88 270.9h0.80v71.5h-0.80zM944.67 270.9h0.80v71.5h-0.80zM952.67 270.9h0.80v71.5h-0.80zM954.27 270.9h0.80v71.5h-0.80zM971.06 270.9h0.80v71.5h-0.80zM983.85 270.9h0.80v71.5h-0.80zM991.04 270.9h0.80v71.5h-0.80zM995.04 270.9h0.80v71.5h-0.80zM998.24 270.9h0.80v71.5h-0.80zM1004.63 270.9h0.80v71.5h-0.80zM1018.22 270.9h0.80v71.5h-0.80zM1025.42 270.9h0.80v71.5h-0.80zM1070.99 270.9h0.80v71.5h-0.80z"/>
<path fill="#FC6F50" d="M764.80 270.9h0.80v71.5h-0.80zM769.60 270.9h0.80v71.5h-0.80zM777.59 270.9h0.80v71.5h-0.80zM792.78 270.9h0.80v71.5h-0.80zM801.57 270.9h0.80v71.5h-0.80zM810.37 270.9h0.80v71.5h-0.80zM811.97 270.9h0.80v71.5h-0.80zM819.16 270.9h0.80v71.5h-0.80zM839.95 270.9h0.80v71.5h-0.80zM886.32 270.9h0.80v71.5h-0.80zM888.71 270.9h0.80v71.5h-0.80zM899.11 270.9h0.80v71.5h-0.80zM961.46 270.9h0.80v71.5h-0.80zM967.06 270.9h0.80v71.5h-0.80zM994.24 270.9h0.80v71.5h-0.80zM1000.64 270.9h1.60v71.5h-1.60zM1008.63 270.9h0.80v71.5h-0.80zM1040.61 270.9h0.80v71.5h-0.80zM1101.37 270.9h0.80v71.5h-0.80z"/>
<path fill="#FC694B" d="M767.20 270.9h0.80v71.5h-0.80zM776.79 270.9h0.80v71.5h-0.80zM813.57 270.9h0.80v71.5h-0.80zM823.96 270.9h0.80v71.5h-0.80zM827.96 270.9h0.80v71.5h-0.80zM864.73 270.9h0.80v71.5h-0.80zM867.13 270.9h0.80v71.5h-0.80zM895.91 270.9h0.80v71.5h-0.80zM939.08 270.9h0.80v71.5h-0.80zM983.05 270.9h0.80v71.5h-0.80zM1028.62 270.9h0.80v71.5h-0.80zM1051.80 270.9h0.80v71.5h-0.80zM1057.40 270.9h0.80v71.5h-0.80zM1070.19 270.9h0.80v71.5h-0.80z"/>
<path fill="#FC6245" d="M789.58 270.9h0.80v71.5h-0.80zM902.30 270.9h0.80v71.5h-0.80zM999.04 270.9h0.80v71.5h-0.80zM1003.83 270.9h0.80v71.5h-0.80zM1011.83 270.9h0.80v71.5h-0.80z"/>
<path fill="#FD5A3F" d="M909.50 270.9h0.80v71.5h-0.80z"/>
<path fill="#FD5339" d="M959.07 270.9h0.80v71.5h-0.80zM993.44 270.9h0.80v71.5h-0.80z"/>
<path fill="#FFF8F5" d="M1317.22 342.4h0.80v71.5h-0.80z"/>
<path fill="#FFF4F0" d="M1103.76 342.4h0.80v71.5h-0.80zM1314.02 342.4h0.80v71.5h-0.80z"/>
<path fill="#FFF0EB" d="M783.19 342.4h0.80v71.5h-0.80zM1282.84 342.4h0.80v71.5h-0.80zM1329.21 342.4h0.80v71.5h-0.80z"/>
<path fill="#FEECE6" d="M1122.95 342.4h0.80v71.5h-0.80zM1126.15 342.4h0.80v71.5h-0.80zM1335.60 342.4h1.60v71.5h-1.60z"/>
<path fill="#FEE9E2" d="M803.17 342.4h0.80v71.5h-0.80zM985.45 342.4h0.80v71.5h-0.80zM1173.32 342.4h0.80v71.5h-0.80zM1178.11 342.4h0.80v71.5h-0.80zM1232.48 342.4h0.80v71.5h-0.80zM1278.84 342.4h0.80v71.5h-0.80zM1298.03 342.4h0.80v71.5h-0.80zM1299.63 342.4h0.80v71.5h-0.80zM1309.22 342.4h0.80v71.5h-0.80zM1334.80 342.4h0.80v71.5h-0.80z"/>
<path fill="#FEE5DD" d="M1282.04 342.4h0.80v71.5h-0.80zM1287.64 342.4h0.80v71.5h-0.80zM1313.22 342.4h0.80v71.5h-0.80z"/>
<path fill="#FEE1D8" d="M1221.28 342.4h0.80v71.5h-0.80zM1226.88 342.4h0.80v71.5h-0.80zM1237.27 342.4h0.80v71.5h-0.80zM1249.26 342.4h0.80v71.5h-0.80zM1260.46 342.4h0.80v71.5h-0.80zM1270.05 342.4h0.80v71.5h-0.80zM1283.64 342.4h0.80v71.5h-0.80zM1286.04 342.4h0.80v71.5h-0.80zM1289.24 342.4h0.80v71.5h-0.80zM1306.82 342.4h0.80v71.5h-0.80z"/>
<path fill="#FEDED3" d="M1230.88 342.4h0.80v71.5h-0.80zM1243.67 342.4h0.80v71.5h-0.80zM1252.46 342.4h0.80v71.5h-0.80zM1266.85 342.4h0.80v71.5h-0.80zM1310.82 342.4h0.80v71.5h-0.80z"/>
<path fill="#FEDACE" d="M1186.91 342.4h0.80v71.5h-0.80zM1190.90 342.4h0.80v71.5h-0.80zM1207.69 342.4h0.80v71.5h-0.80zM1211.69 342.4h0.80v71.5h-0.80zM1228.48 342.4h0.80v71.5h-0.80zM1230.08 342.4h0.80v71.5h-0.80zM1254.06 342.4h0.80v71.5h-0.80zM1268.45 342.4h0.80v71.5h-0.80zM1280.44 342.4h0.80v71.5h-0.80zM1303.63 342.4h0.80v71.5h-0.80zM1312.42 342.4h0.80v71.5h-0.80z"/>
<path fill="#FED5C8" d="M1183.71 342.4h0.80v71.5h-0.80zM1196.50 342.4h0.80v71.5h-0.80zM1201.30 342.4h0.80v71.5h-0.80zM1206.09 342.4h0.80v71.5h-0.80zM1210.09 342.4h0.80v71.5h-0.80zM1225.28 342.4h0.80v71.5h-0.80zM1266.05 342.4h0.80v71.5h-0.80zM1305.23 342.4h0.80v71.5h-0.80z"/>
<path fill="#FED0C2" d="M1179.71 342.4h0.80v71.5h-0.80zM1192.50 342.4h0.80v71.5h-0.80zM1202.10 342.4h0.80v71.5h-0.80zM1215.69 342.4h0.80v71.5h-0.80zM1234.07 342.4h1.60v71.5h-1.60zM1246.07 342.4h0.80v71.5h-0.80zM1257.26 342.4h0.80v71.5h-0.80zM1278.04 342.4h0.80v71.5h-0.80zM1294.83 342.4h0.80v71.5h-0.80zM1298.83 342.4h0.80v71.5h-0.80zM1338.80 342.4h0.80v71.5h-0.80z"/>
<path fill="#FECBBB" d="M1174.92 342.4h0.80v71.5h-0.80zM1184.51 342.4h0.80v71.5h-0.80zM1199.70 342.4h0.80v71.5h-0.80zM1224.48 342.4h0.80v71.5h-0.80zM1245.27 342.4h0.80v71.5h-0.80zM1255.66 342.4h0.80v71.5h-0.80zM1262.06 342.4h0.80v71.5h-0.80zM1270.85 342.4h1.60v71.5h-1.60zM1276.45 342.4h1.60v71.5h-1.60zM1284.44 342.4h0.80v71.5h-0.80zM1290.04 342.4h0.80v71.5h-0.80zM1297.23 342.4h0.80v71.5h-0.80zM1300.43 342.4h0.80v71.5h-0.80zM1304.43 342.4h0.80v71.5h-0.80zM1314.82 342.4h0.80v71.5h-0.80zM1327.61 342.4h0.80v71.5h-0.80z"/>
<path fill="#FEC6B5" d="M1178.91 342.4h0.80v71.5h-0.80zM1204.50 342.4h0.80v71.5h-0.80zM1239.67 342.4h1.60v71.5h-1.60zM1247.67 342.4h0.80v71.5h-0.80zM1259.66 342.4h0.80v71.5h-0.80zM1290.84 342.4h0.80v71.5h-0.80z"/>
<path fill="#FEC1AF" d="M1185.31 342.4h0.80v71.5h-0.80zM1188.51 342.4h0.80v71.5h-0.80zM1213.29 342.4h0.80v71.5h-0.80zM1222.88 342.4h0.80v71.5h-0.80zM1238.07 342.4h0.80v71.5h-0.80zM1250.06 342.4h0.80v71.5h-0.80zM1258.86 342.4h0.80v71.5h-0.80zM1261.26 342.4h0.80v71.5h-0.80zM1285.24 342.4h0.80v71.5h-0.80z"/>
<path fill="#FDBCA9" d="M1212.49 342.4h0.80v71.5h-0.80zM1226.08 342.4h0.80v71.5h-0.80zM1238.87 342.4h0.80v71.5h-0.80zM1286.84 342.4h0.80v71.5h-0.80zM1291.63 342.4h0.80v71.5h-0.80z"/>
<path fill="#FDB7A3" d="M1174.12 342.4h0.80v71.5h-0.80zM1214.09 342.4h0.80v71.5h-0.80zM1222.08 342.4h0.80v71.5h-0.80zM1242.87 342.4h0.80v71.5h-0.80zM1306.02 342.4h0.80v71.5h-0.80zM1307.62 342.4h0.80v71.5h-0.80z"/>
<path fill="#FDB29C" d="M1193.30 342.4h0.80v71.5h-0.80zM1195.70 342.4h0.80v71.5h-0.80zM1200.50 342.4h0.80v71.5h-0.80zM1202.90 342.4h0.80v71.5h-0.80zM1264.45 342.4h0.80v71.5h-0.80zM1294.03 342.4h0.80v71.5h-0.80z"/>
<path fill="#FDAD96" d="M1187.71 342.4h0.80v71.5h-0.80zM1242.07 342.4h0.80v71.5h-0.80zM1273.25 342.4h0.80v71.5h-0.80z"/>
<path fill="#FDA890" d="M1190.11 342.4h0.80v71.5h-0.80zM1209.29 342.4h0.80v71.5h-0.80zM1272.45 342.4h0.80v71.5h-0.80z"/>
<path fill="#FD9376" d="M1176.51 342.4h0.80v71.5h-0.80zM1250.86 342.4h0.80v71.5h-0.80z"/>
<path fill="#FD8C6D" d="M1231.68 342.4h0.80v71.5h-0.80z"/>
<path fill="#FFF8F5" d="M860.73 413.9h0.80v71.5h-0.80zM936.68 413.9h0.80v71.5h-0.80zM947.07 413.9h1.60v71.5h-1.60zM957.47 413.9h0.80v71.5h-0.80zM983.85 413.9h0.80v71.5h-0.80zM1062.99 413.9h0.80v71.5h-0.80zM1110.96 413.9h0.80v71.5h-0.80zM1146.93 413.9h0.80v71.5h-0.80z"/>
<path fill="#FFF4F0" d="M803.17 413.9h0.80v71.5h-0.80zM946.27 413.9h0.80v71.5h-0.80zM951.07 413.9h0.80v71.5h-0.80zM955.07 413.9h0.80v71.5h-0.80zM1102.97 413.9h0.80v71.5h-0.80zM1115.76 413.9h0.80v71.5h-0.80zM1170.92 413.9h0.80v71.5h-0.80z"/>
<path fill="#FFF0EB" d="M945.47 413.9h0.80v71.5h-0.80zM1044.61 413.9h0.80v71.5h-0.80zM1326.01 413.9h0.80v71.5h-0.80z"/>
<path fill="#FEECE6" d="M775.99 413.9h0.80v71.5h-0.80zM840.75 413.9h0.80v71.5h-0.80zM869.53 413.9h0.80v71.5h-0.80zM903.10 413.9h0.80v71.5h-0.80zM911.90 413.9h0.80v71.5h-0.80zM1070.19 413.9h0.80v71.5h-0.80zM1329.21 413.9h0.80v71.5h-0.80z"/>
<path fill="#FEE9E2" d="M829.55 413.9h0.80v71.5h-0.80zM851.94 413.9h0.80v71.5h-0.80zM866.33 413.9h0.80v71.5h-0.80zM893.51 413.9h0.80v71.5h-0.80zM935.88 413.9h0.80v71.5h-0.80zM951.87 413.9h0.80v71.5h-0.80zM1010.23 413.9h0.80v71.5h-0.80zM1052.60 413.9h0.80v71.5h-0.80zM1075.78 413.9h0.80v71.5h-0.80zM1119.75 413.9h0.80v71.5h-0.80z"/>
<path fill="#FEE5DD" d="M798.38 413.9h0.80v71.5h-0.80zM833.55 413.9h0.80v71.5h-0.80zM952.67 413.9h0.80v71.5h-0.80zM963.86 413.9h0.80v71.5h-0.80zM972.66 413.9h0.80v71.5h-0.80zM1004.63 413.9h0.80v71.5h-0.80zM1008.63 413.9h0.80v71.5h-0.80zM1037.41 413.9h0.80v71.5h-0.80zM1086.98 413.9h0.80v71.5h-0.80zM1106.96 413.9h0.80v71.5h-0.80zM1114.96 413.9h0.80v71.5h-0.80zM1137.34 413.9h0.80v71.5h-0.80z"/>
<path fill="#FEE1D8" d="M764.80 413.9h0.80v71.5h-0.80zM844.74 413.9h0.80v71.5h-0.80zM861.53 413.9h0.80v71.5h-0.80zM863.93 413.9h0.80v71.5h-0.80zM880.72 413.9h0.80v71.5h-0.80zM927.89 413.9h0.80v71.5h-0.80zM969.46 413.9h0.80v71.5h-0.80zM974.25 413.9h0.80v71.5h-0.80zM994.24 413.9h0.80v71.5h-0.80zM996.64 413.9h0.80v71.5h-0.80zM1041.41 413.9h0.80v71.5h-0.80zM1318.02 413.9h0.80v71.5h-0.80zM1330.01 413.9h0.80v71.5h-0.80z"/>
<path fill="#FEDED3" d="M790.38 413.9h0.80v71.5h-0.80zM834.35 413.9h0.80v71.5h-0.80zM1153.33 413.9h0.80v71.5h-0.80z"/>
<path fill="#FEDACE" d="M771.99 413.9h0.80v71.5h-0.80zM803.97 413.9h0.80v71.5h-0.80zM807.17 413.9h0.80v71.5h-0.80zM811.17 413.9h0.80v71.5h-0.80zM815.96 413.9h0.80v71.5h-0.80zM819.16 413.9h0.80v71.5h-0.80zM879.12 413.9h0.80v71.5h-0.80zM897.51 413.9h0.80v71.5h-0.80zM932.68 413.9h0.80v71.5h-0.80zM967.86 413.9h0.80v71.5h-0.80zM999.84 413.9h0.80v71.5h-0.80zM1018.22 413.9h0.80v71.5h-0.80z"/>
<path fill="#FED5C8" d="M797.58 413.9h0.80v71.5h-0.80zM831.95 413.9h0.80v71.5h-0.80zM839.95 413.9h0.80v71.5h-0.80zM843.15 413.9h0.80v71.5h-0.80zM847.14 413.9h0.80v71.5h-0.80zM950.27 413.9h0.80v71.5h-0.80zM1007.03 413.9h0.80v71.5h-0.80zM1045.41 413.9h0.80v71.5h-0.80zM1082.98 413.9h0.80v71.5h-0.80zM1096.57 413.9h0.80v71.5h-0.80zM1135.74 413.9h0.80v71.5h-0.80zM1150.13 413.9h0.80v71.5h-0.80zM1151.73 413.9h0.80v71.5h-0.80zM1162.92 413.9h0.80v71.5h-0.80z"/>
<path fill="#FED0C2" d="M796.78 413.9h0.80v71.5h-0.80zM867.93 413.9h0.80v71.5h-0.80zM921.49 413.9h0.80v71.5h-0.80zM935.08 413.9h0.80v71.5h-0.80zM1003.83 413.9h0.80v71.5h-0.80zM1025.42 413.9h0.80v71.5h-0.80zM1038.21 413.9h0.80v71.5h-0.80zM1085.38 413.9h0.80v71.5h-0.80zM1144.54 413.9h0.80v71.5h-0.80zM1152.53 413.9h0.80v71.5h-0.80zM1158.93 413.9h0.80v71.5h-0.80zM1324.41 413.9h0.80v71.5h-0.80z"/>
<path fill="#FECBBB" d="M768.00 413.9h0.80v71.5h-0.80zM954.27 413.9h0.80v71.5h-0.80zM990.24 413.9h0.80v71.5h-0.80zM1005.43 413.9h0.80v71.5h-0.80zM1051.80 413.9h0.80v71.5h-0.80zM1129.35 413.9h0.80v71.5h-0.80zM1145.34 413.9h0.80v71.5h-0.80zM1158.13 413.9h0.80v71.5h-0.80z"/>
<path fill="#FEC6B5" d="M769.60 413.9h0.80v71.5h-0.80zM791.18 413.9h0.80v71.5h-0.80zM825.56 413.9h0.80v71.5h-0.80zM848.74 413.9h0.80v71.5h-0.80zM900.71 413.9h0.80v71.5h-0.80zM941.48 413.9h0.80v71.5h-0.80zM970.26 413.9h0.80v71.5h-0.80zM1066.19 413.9h0.80v71.5h-0.80zM1125.35 413.9h0.80v71.5h-0.80zM1133.34 413.9h0.80v71.5h-0.80z"/>
<path fill="#FEC1AF" d="M1091.77 413.9h0.80v71.5h-0.80zM1124.55 413.9h0.80v71.5h-0.80zM1310.02 413.9h0.80v71.5h-0.80zM1333.21 413.9h0.80v71.5h-0.80z"/>
<path fill="#FDBCA9" d="M820.76 413.9h0.80v71.5h-0.80zM1039.81 413.9h0.80v71.5h-0.80zM1055.00 413.9h0.80v71.5h-0.80zM1154.13 413.9h0.80v71.5h-0.80z"/>
<path fill="#FDB7A3" d="M1140.54 413.9h0.80v71.5h-0.80zM1198.90 413.9h0.80v71.5h-0.80zM1215.69 413.9h0.80v71.5h-0.80zM1238.87 413.9h0.80v71.5h-0.80zM1277.24 413.9h0.80v71.5h-0.80z"/>
<path fill="#FDB29C" d="M1146.14 413.9h0.80v71.5h-0.80zM1173.32 413.9h0.80v71.5h-0.80zM1302.83 413.9h0.80v71.5h-0.80z"/>
<path fill="#FDAD96" d="M1028.62 413.9h0.80v71.5h-0.80zM1154.93 413.9h0.80v71.5h-0.80zM1157.33 413.9h0.80v71.5h-0.80zM1175.72 413.9h1.60v71.5h-1.60zM1180.51 413.9h0.80v71.5h-0.80zM1186.11 413.9h0.80v71.5h-0.80zM1251.66 413.9h0.80v71.5h-0.80zM1273.25 413.9h0.80v71.5h-0.80zM1300.43 413.9h0.80v71.5h-0.80zM1305.23 413.9h0.80v71.5h-0.80z"/>
<path fill="#FDA890" d="M1181.31 413.9h0.80v71.5h-0.80zM1183.71 413.9h0.80v71.5h-0.80zM1189.31 413.9h0.80v71.5h-0.80zM1204.50 413.9h0.80v71.5h-0.80zM1209.29 413.9h0.80v71.5h-0.80zM1211.69 413.9h0.80v71.5h-0.80zM1218.89 413.9h0.80v71.5h-0.80zM1233.28 413.9h0.80v71.5h-0.80zM1254.86 413.9h0.80v71.5h-0.80zM1258.86 413.9h0.80v71.5h-0.80zM1270.85 413.9h0.80v71.5h-0.80zM1301.23 413.9h0.80v71.5h-0.80z"/>
<path fill="#FDA187" d="M1179.71 413.9h0.80v71.5h-0.80zM1190.90 413.9h0.80v71.5h-0.80zM1194.10 413.9h0.80v71.5h-0.80zM1218.09 413.9h0.80v71.5h-0.80zM1226.08 413.9h0.80v71.5h-0.80zM1230.08 413.9h0.80v71.5h-0.80zM1247.67 413.9h0.80v71.5h-0.80zM1257.26 413.9h0.80v71.5h-0.80zM1263.65 413.9h1.60v71.5h-1.60zM1291.63 413.9h0.80v71.5h-0.80zM1306.82 413.9h0.80v71.5h-0.80z"/>
<path fill="#FD9A7E" d="M1185.31 413.9h0.80v71.5h-0.80zM1190.11 413.9h0.80v71.5h-0.80zM1206.89 413.9h0.80v71.5h-0.80zM1237.27 413.9h0.80v71.5h-0.80zM1239.67 413.9h0.80v71.5h-0.80zM1243.67 413.9h0.80v71.5h-0.80zM1254.06 413.9h0.80v71.5h-0.80zM1262.85 413.9h0.80v71.5h-0.80zM1266.85 413.9h0.80v71.5h-0.80zM1279.64 413.9h0.80v71.5h-0.80zM1283.64 413.9h0.80v71.5h-0.80z"/>
<path fill="#FD9376" d="M1174.92 413.9h0.80v71.5h-0.80zM1193.30 413.9h0.80v71.5h-0.80zM1194.90 413.9h0.80v71.5h-0.80zM1198.10 413.9h0.80v71.5h-0.80zM1210.09 413.9h0.80v71.5h-0.80zM1214.89 413.9h0.80v71.5h-0.80zM1217.29 413.9h0.80v71.5h-0.80zM1220.48 413.9h0.80v71.5h-0.80zM1223.68 413.9h0.80v71.5h-0.80zM1235.67 413.9h0.80v71.5h-0.80zM1240.47 413.9h0.80v71.5h-0.80zM1242.87 413.9h0.80v71.5h-0.80zM1272.45 413.9h0.80v71.5h-0.80zM1278.84 413.9h0.80v71.5h-0.80zM1281.24 413.9h0.80v71.5h-0.80zM1290.04 413.9h0.80v71.5h-0.80zM1293.23 413.9h0.80v71.5h-0.80zM1294.83 413.9h0.80v71.5h-0.80zM1297.23 413.9h0.80v71.5h-0.80zM1304.43 413.9h0.80v71.5h-0.80z"/>
<path fill="#FD8C6D" d="M1178.11 413.9h0.80v71.5h-0.80zM1184.51 413.9h0.80v71.5h-0.80zM1197.30 413.9h0.80v71.5h-0.80zM1199.70 413.9h0.80v71.5h-0.80zM1202.10 413.9h0.80v71.5h-0.80zM1203.70 413.9h0.80v71.5h-0.80zM1206.09 413.9h0.80v71.5h-0.80zM1212.49 413.9h0.80v71.5h-0.80zM1216.49 413.9h0.80v71.5h-0.80zM1236.47 413.9h0.80v71.5h-0.80zM1244.47 413.9h0.80v71.5h-0.80zM1250.86 413.9h0.80v71.5h-0.80zM1258.06 413.9h0.80v71.5h-0.80zM1259.66 413.9h0.80v71.5h-0.80zM1261.26 413.9h0.80v71.5h-0.80zM1271.65 413.9h0.80v71.5h-0.80zM1282.84 413.9h0.80v71.5h-0.80zM1285.24 413.9h0.80v71.5h-0.80zM1288.44 413.9h0.80v71.5h-0.80zM1292.43 413.9h0.80v71.5h-0.80zM1299.63 413.9h0.80v71.5h-0.80z"/>
<path fill="#FD8564" d="M1174.12 413.9h0.80v71.5h-0.80zM1187.71 413.9h0.80v71.5h-0.80zM1196.50 413.9h0.80v71.5h-0.80zM1200.50 413.9h1.60v71.5h-1.60zM1202.90 413.9h0.80v71.5h-0.80zM1230.88 413.9h0.80v71.5h-0.80zM1267.65 413.9h0.80v71.5h-0.80zM1274.05 413.9h2.40v71.5h-2.40zM1287.64 413.9h0.80v71.5h-0.80zM1294.03 413.9h0.80v71.5h-0.80zM1303.63 413.9h0.80v71.5h-0.80zM1306.02 413.9h0.80v71.5h-0.80zM1309.22 413.9h0.80v71.5h-0.80z"/>
<path fill="#FD7F5F" d="M1178.91 413.9h0.80v71.5h-0.80zM1191.70 413.9h0.80v71.5h-0.80zM1195.70 413.9h0.80v71.5h-0.80zM1208.49 413.9h0.80v71.5h-0.80zM1219.68 413.9h0.80v71.5h-0.80zM1222.08 413.9h0.80v71.5h-0.80zM1227.68 413.9h1.60v71.5h-1.60zM1232.48 413.9h0.80v71.5h-0.80zM1234.87 413.9h0.80v71.5h-0.80zM1246.07 413.9h1.60v71.5h-1.60zM1248.46 413.9h0.80v71.5h-0.80zM1265.25 413.9h0.80v71.5h-0.80zM1268.45 413.9h1.60v71.5h-1.60zM1278.04 413.9h0.80v71.5h-0.80zM1282.04 413.9h0.80v71.5h-0.80zM1296.43 413.9h0.80v71.5h-0.80zM1302.03 413.9h0.80v71.5h-0.80z"/>
<path fill="#FD7A5A" d="M1177.31 413.9h0.80v71.5h-0.80zM1188.51 413.9h0.80v71.5h-0.80zM1210.89 413.9h0.80v71.5h-0.80zM1224.48 413.9h1.60v71.5h-1.60zM1238.07 413.9h0.80v71.5h-0.80zM1249.26 413.9h0.80v71.5h-0.80zM1255.66 413.9h0.80v71.5h-0.80zM1262.06 413.9h0.80v71.5h-0.80zM1280.44 413.9h0.80v71.5h-0.80zM1286.04 413.9h0.80v71.5h-0.80zM1289.24 413.9h0.80v71.5h-0.80zM1295.63 413.9h0.80v71.5h-0.80zM1298.03 413.9h1.60v71.5h-1.60z"/>
<path fill="#FC7455" d="M1182.11 413.9h0.80v71.5h-0.80zM1205.29 413.9h0.80v71.5h-0.80zM1207.69 413.9h0.80v71.5h-0.80zM1231.68 413.9h0.80v71.5h-0.80zM1241.27 413.9h1.60v71.5h-1.60zM1245.27 413.9h0.80v71.5h-0.80zM1252.46 413.9h1.60v71.5h-1.60zM1270.05 413.9h0.80v71.5h-0.80zM1290.84 413.9h0.80v71.5h-0.80z"/>
<path fill="#FC6F50" d="M1186.91 413.9h0.80v71.5h-0.80zM1214.09 413.9h0.80v71.5h-0.80zM1229.28 413.9h0.80v71.5h-0.80zM1260.46 413.9h0.80v71.5h-0.80zM1307.62 413.9h1.60v71.5h-1.60z"/>
<path fill="#FC694B" d="M1192.50 413.9h0.80v71.5h-0.80zM1222.88 413.9h0.80v71.5h-0.80zM1250.06 413.9h0.80v71.5h-0.80zM1256.46 413.9h0.80v71.5h-0.80zM1266.05 413.9h0.80v71.5h-0.80z"/>
<path fill="#FD5A3F" d="M1213.29 413.9h0.80v71.5h-0.80zM1276.45 413.9h0.80v71.5h-0.80z"/>
<path fill="#FFF8F5" d="M834.35 485.4h0.80v71.5h-0.80zM852.74 485.4h0.80v71.5h-0.80zM1060.59 485.4h0.80v71.5h-0.80zM1118.15 485.4h0.80v71.5h-0.80z"/>
<path fill="#FFF4F0" d="M765.60 485.4h0.80v71.5h-0.80zM847.14 485.4h0.80v71.5h-0.80zM948.67 485.4h0.80v71.5h-0.80zM974.25 485.4h0.80v71.5h-0.80zM978.25 485.4h0.80v71.5h-0.80zM987.85 485.4h0.80v71.5h-0.80zM1044.61 485.4h0.80v71.5h-0.80z"/>
<path fill="#FFF0EB" d="M804.77 485.4h0.80v71.5h-0.80zM811.97 485.4h0.80v71.5h-0.80zM849.54 485.4h0.80v71.5h-0.80zM1043.01 485.4h0.80v71.5h-0.80zM1051.00 485.4h0.80v71.5h-0.80zM1096.57 485.4h0.80v71.5h-0.80zM1122.95 485.4h0.80v71.5h-0.80z"/>
<path fill="#FEECE6" d="M892.71 485.4h0.80v71.5h-0.80zM895.91 485.4h0.80v71.5h-0.80zM1074.98 485.4h0.80v71.5h-0.80zM1160.53 485.4h0.80v71.5h-0.80z"/>
<path fill="#FEE9E2" d="M771.99 485.4h0.80v71.5h-0.80zM935.88 485.4h0.80v71.5h-0.80zM1114.16 485.4h0.80v71.5h-0.80zM1215.69 485.4h0.80v71.5h-0.80z"/>
<path fill="#FEE5DD" d="M812.77 485.4h0.80v71.5h-0.80zM902.30 485.4h0.80v71.5h-0.80zM923.89 485.4h0.80v71.5h-0.80zM1131.75 485.4h0.80v71.5h-0.80zM1135.74 485.4h0.80v71.5h-0.80zM1286.84 485.4h0.80v71.5h-0.80z"/>
<path fill="#FEE1D8" d="M1196.50 485.4h0.80v71.5h-0.80zM1284.44 485.4h0.80v71.5h-0.80z"/>
<path fill="#FEDED3" d="M851.14 485.4h0.80v71.5h-0.80zM1126.15 485.4h0.80v71.5h-0.80zM1270.05 485.4h0.80v71.5h-0.80zM1298.83 485.4h0.80v71.5h-0.80z"/>
<path fill="#FEDACE" d="M1216.49 485.4h0.80v71.5h-0.80z"/>
<path fill="#FED5C8" d="M1198.10 485.4h0.80v71.5h-0.80zM1211.69 485.4h0.80v71.5h-0.80zM1269.25 485.4h0.80v71.5h-0.80z"/>
<path fill="#FED0C2" d="M1178.91 485.4h0.80v71.5h-0.80zM1206.89 485.4h0.80v71.5h-0.80zM1242.07 485.4h0.80v71.5h-0.80zM1265.25 485.4h0.80v71.5h-0.80z"/>
<path fill="#FECBBB" d="M1175.72 485.4h0.80v71.5h-0.80zM1186.91 485.4h0.80v71.5h-0.80zM1252.46 485.4h0.80v71.5h-0.80zM1278.84 485.4h0.80v71.5h-0.80zM1286.04 485.4h0.80v71.5h-0.80zM1288.44 485.4h0.80v71.5h-0.80zM1292.43 485.4h0.80v71.5h-0.80z"/>
<path fill="#FEC6B5" d="M1176.51 485.4h0.80v71.5h-0.80zM1199.70 485.4h0.80v71.5h-0.80zM1230.88 485.4h0.80v71.5h-0.80zM1245.27 485.4h0.80v71.5h-0.80zM1270.85 485.4h0.80v71.5h-0.80z"/>
<path fill="#FEC1AF" d="M1173.32 485.4h0.80v71.5h-0.80zM1182.11 485.4h0.80v71.5h-0.80zM1192.50 485.4h0.80v71.5h-0.80zM1206.09 485.4h0.80v71.5h-0.80zM1224.48 485.4h0.80v71.5h-0.80zM1232.48 485.4h0.80v71.5h-0.80zM1246.07 485.4h1.60v71.5h-1.60zM1248.46 485.4h0.80v71.5h-0.80zM1258.06 485.4h0.80v71.5h-0.80zM1271.65 485.4h0.80v71.5h-0.80zM1281.24 485.4h0.80v71.5h-0.80zM1290.04 485.4h0.80v71.5h-0.80zM1291.63 485.4h0.80v71.5h-0.80zM1295.63 485.4h0.80v71.5h-0.80zM1298.03 485.4h0.80v71.5h-0.80zM1304.43 485.4h0.80v71.5h-0.80z"/>
<path fill="#FDBCA9" d="M1178.11 485.4h0.80v71.5h-0.80zM1207.69 485.4h0.80v71.5h-0.80zM1229.28 485.4h0.80v71.5h-0.80zM1231.68 485.4h0.80v71.5h-0.80zM1237.27 485.4h0.80v71.5h-0.80zM1253.26 485.4h0.80v71.5h-0.80zM1255.66 485.4h0.80v71.5h-0.80zM1264.45 485.4h0.80v71.5h-0.80zM1274.85 485.4h0.80v71.5h-0.80zM1285.24 485.4h0.80v71.5h-0.80zM1299.63 485.4h0.80v71.5h-0.80zM1306.02 485.4h0.80v71.5h-0.80zM1308.42 485.4h0.80v71.5h-0.80z"/>
<path fill="#FDB7A3" d="M1182.91 485.4h0.80v71.5h-0.80zM1190.90 485.4h0.80v71.5h-0.80zM1209.29 485.4h1.60v71.5h-1.60zM1213.29 485.4h0.80v71.5h-0.80zM1218.89 485.4h0.80v71.5h-0.80zM1225.28 485.4h1.60v71.5h-1.60zM1227.68 485.4h0.80v71.5h-0.80zM1230.08 485.4h0.80v71.5h-0.80zM1234.07 485.4h0.80v71.5h-0.80zM1238.87 485.4h1.60v71.5h-1.60zM1244.47 485.4h0.80v71.5h-0.80zM1249.26 485.4h0.80v71.5h-0.80zM1251.66 485.4h0.80v71.5h-0.80zM1258.86 485.4h0.80v71.5h-0.80zM1266.05 485.4h0.80v71.5h-0.80zM1277.24 485.4h0.80v71.5h-0.80zM1289.24 485.4h0.80v71.5h-0.80z"/>
<path fill="#FDB29C" d="M1177.31 485.4h0.80v71.5h-0.80zM1180.51 485.4h0.80v71.5h-0.80zM1183.71 485.4h0.80v71.5h-0.80zM1204.50 485.4h0.80v71.5h-0.80zM1218.09 485.4h0.80v71.5h-0.80zM1243.67 485.4h0.80v71.5h-0.80zM1247.67 485.4h0.80v71.5h-0.80zM1272.45 485.4h0.80v71.5h-0.80zM1275.65 485.4h0.80v71.5h-0.80zM1278.04 485.4h0.80v71.5h-0.80zM1283.64 485.4h0.80v71.5h-0.80zM1294.03 485.4h0.80v71.5h-0.80zM1302.83 485.4h0.80v71.5h-0.80z"/>
<path fill="#FDAD96" d="M1223.68 485.4h0.80v71.5h-0.80zM1254.06 485.4h0.80v71.5h-0.80zM1263.65 485.4h0.80v71.5h-0.80zM1268.45 485.4h0.80v71.5h-0.80zM1279.64 485.4h0.80v71.5h-0.80zM1294.83 485.4h0.80v71.5h-0.80zM1297.23 485.4h0.80v71.5h-0.80zM1301.23 485.4h0.80v71.5h-0.80z"/>
<path fill="#FDA890" d="M1184.51 485.4h1.60v71.5h-1.60zM1189.31 485.4h0.80v71.5h-0.80zM1194.90 485.4h0.80v71.5h-0.80zM1214.89 485.4h0.80v71.5h-0.80zM1228.48 485.4h0.80v71.5h-0.80zM1236.47 485.4h0.80v71.5h-0.80zM1250.06 485.4h0.80v71.5h-0.80zM1256.46 485.4h0.80v71.5h-0.80zM1267.65 485.4h0.80v71.5h-0.80zM1287.64 485.4h0.80v71.5h-0.80zM1303.63 485.4h0.80v71.5h-0.80zM1309.22 485.4h0.80v71.5h-0.80z"/>
<path fill="#FDA187" d="M1187.71 485.4h0.80v71.5h-0.80zM1198.90 485.4h0.80v71.5h-0.80zM1201.30 485.4h0.80v71.5h-0.80zM1203.70 485.4h0.80v71.5h-0.80zM1210.89 485.4h0.80v71.5h-0.80zM1217.29 485.4h0.80v71.5h-0.80zM1222.08 485.4h0.80v71.5h-0.80zM1226.88 485.4h0.80v71.5h-0.80zM1233.28 485.4h0.80v71.5h-0.80zM1234.87 485.4h0.80v71.5h-0.80zM1257.26 485.4h0.80v71.5h-0.80zM1266.85 485.4h0.80v71.5h-0.80zM1282.04 485.4h1.60v71.5h-1.60zM1290.84 485.4h0.80v71.5h-0.80z"/>
<path fill="#FD9A7E" d="M1188.51 485.4h0.80v71.5h-0.80zM1191.70 485.4h0.80v71.5h-0.80zM1197.30 485.4h0.80v71.5h-0.80zM1208.49 485.4h0.80v71.5h-0.80zM1222.88 485.4h0.80v71.5h-0.80zM1241.27 485.4h0.80v71.5h-0.80zM1260.46 485.4h0.80v71.5h-0.80zM1262.85 485.4h0.80v71.5h-0.80zM1273.25 485.4h0.80v71.5h-0.80zM1276.45 485.4h0.80v71.5h-0.80zM1280.44 485.4h0.80v71.5h-0.80zM1305.23 485.4h0.80v71.5h-0.80z"/>
<path fill="#FD9376" d="M1238.07 485.4h0.80v71.5h-0.80zM1242.87 485.4h0.80v71.5h-0.80zM1274.05 485.4h0.80v71.5h-0.80zM1293.23 485.4h0.80v71.5h-0.80z"/>
<path fill="#FD8C6D" d="M1179.71 485.4h0.80v71.5h-0.80zM1193.30 485.4h0.80v71.5h-0.80zM1202.90 485.4h0.80v71.5h-0.80zM1235.67 485.4h0.80v71.5h-0.80zM1306.82 485.4h0.80v71.5h-0.80z"/>
<path fill="#FD8564" d="M1181.31 485.4h0.80v71.5h-0.80zM1195.70 485.4h0.80v71.5h-0.80z"/>
<path fill="#FD7F5F" d="M1194.10 485.4h0.80v71.5h-0.80zM1212.49 485.4h0.80v71.5h-0.80zM1250.86 485.4h0.80v71.5h-0.80z"/>
<path fill="#FD7A5A" d="M1221.28 485.4h0.80v71.5h-0.80zM1259.66 485.4h0.80v71.5h-0.80zM1261.26 485.4h1.60v71.5h-1.60z"/>
<path fill="#FC7455" d="M1240.47 485.4h0.80v71.5h-0.80z"/>
<path fill="#FE2D1B" d="M1214.09 485.4h0.80v71.5h-0.80z"/>
<path fill="#FFF8F5" d="M1139.74 556.9h0.80v71.5h-0.80zM1210.09 556.9h0.80v71.5h-0.80zM1239.67 556.9h0.80v71.5h-0.80zM1254.06 556.9h0.80v71.5h-0.80z"/>
<path fill="#FFF4F0" d="M790.38 556.9h0.80v71.5h-0.80z"/>
<path fill="#FFF0EB" d="M909.50 556.9h0.80v71.5h-0.80zM1084.58 556.9h0.80v71.5h-0.80zM1328.41 556.9h0.80v71.5h-0.80z"/>
<path fill="#FEECE6" d="M1186.11 556.9h0.80v71.5h-0.80z"/>
<path fill="#FEE9E2" d="M807.17 556.9h0.80v71.5h-0.80zM835.15 556.9h0.80v71.5h-0.80zM856.74 556.9h0.80v71.5h-0.80zM1178.11 556.9h0.80v71.5h-0.80zM1322.01 556.9h0.80v71.5h-0.80zM1326.81 556.9h0.80v71.5h-0.80z"/>
<path fill="#FEE5DD" d="M979.05 556.9h0.80v71.5h-0.80zM1002.24 556.9h0.80v71.5h-0.80zM1107.76 556.9h0.80v71.5h-0.80z"/>
<path fill="#FEE1D8" d="M780.79 556.9h0.80v71.5h-0.80zM1027.02 556.9h0.80v71.5h-0.80z"/>
<path fill="#FEDED3" d="M1189.31 556.9h0.80v71.5h-0.80zM1267.65 556.9h0.80v71.5h-0.80zM1322.81 556.9h0.80v71.5h-0.80z"/>
<path fill="#FEDACE" d="M1319.62 556.9h0.80v71.5h-0.80z"/>
<path fill="#FED5C8" d="M1330.81 556.9h0.80v71.5h-0.80z"/>
<path fill="#FED0C2" d="M1216.49 556.9h0.80v71.5h-0.80zM1313.22 556.9h0.80v71.5h-0.80zM1318.82 556.9h0.80v71.5h-0.80z"/>
<path fill="#FECBBB" d="M1337.20 556.9h0.80v71.5h-0.80z"/>
<path fill="#FEC6B5" d="M1316.42 556.9h1.60v71.5h-1.60zM1326.01 556.9h0.80v71.5h-0.80zM1338.00 556.9h0.80v71.5h-0.80z"/>
<path fill="#FEC1AF" d="M1327.61 556.9h0.80v71.5h-0.80zM1334.01 556.9h0.80v71.5h-0.80zM1339.60 556.9h1.60v71.5h-1.60z"/>
<path fill="#FDBCA9" d="M1314.82 556.9h1.60v71.5h-1.60zM1331.61 556.9h0.80v71.5h-0.80zM1335.60 556.9h0.80v71.5h-0.80z"/>
<path fill="#FDB7A3" d="M1310.82 556.9h1.60v71.5h-1.60zM1325.21 556.9h0.80v71.5h-0.80zM1341.20 556.9h0.80v71.5h-0.80z"/>
<path fill="#FDB29C" d="M1312.42 556.9h0.80v71.5h-0.80zM1321.21 556.9h0.80v71.5h-0.80zM1323.61 556.9h0.80v71.5h-0.80zM1332.41 556.9h0.80v71.5h-0.80zM1334.80 556.9h0.80v71.5h-0.80zM1336.40 556.9h0.80v71.5h-0.80z"/>
<path fill="#FDAD96" d="M1324.41 556.9h0.80v71.5h-0.80zM1338.80 556.9h0.80v71.5h-0.80z"/>
<path fill="#FDA890" d="M1314.02 556.9h0.80v71.5h-0.80zM1333.21 556.9h0.80v71.5h-0.80z"/>
<path fill="#FD9A7E" d="M1330.01 556.9h0.80v71.5h-0.80z"/>
<path fill="#FD9376" d="M1310.02 556.9h0.80v71.5h-0.80z"/>
<path fill="#FFF8F5" d="M1011.83 628.4h0.80v71.5h-0.80zM1070.99 628.4h0.80v71.5h-0.80zM1201.30 628.4h0.80v71.5h-0.80zM1278.84 628.4h0.80v71.5h-0.80z"/>
<path fill="#FFF4F0" d="M859.93 628.4h0.80v71.5h-0.80z"/>
<path fill="#FFF0EB" d="M771.99 628.4h0.80v71.5h-0.80z"/>
<path fill="#FEECE6" d="M1262.06 628.4h0.80v71.5h-0.80z"/>
<path fill="#FEE9E2" d="M1229.28 628.4h0.80v71.5h-0.80z"/>
<path fill="#FECBBB" d="M1334.01 628.4h0.80v71.5h-0.80z"/>
<path fill="#FEC1AF" d="M1310.02 628.4h2.40v71.5h-2.40zM1317.22 628.4h0.80v71.5h-0.80zM1325.21 628.4h0.80v71.5h-0.80zM1334.80 628.4h0.80v71.5h-0.80z"/>
<path fill="#FDBCA9" d="M1313.22 628.4h0.80v71.5h-0.80zM1322.81 628.4h0.80v71.5h-0.80zM1327.61 628.4h0.80v71.5h-0.80zM1330.81 628.4h0.80v71.5h-0.80z"/>
<path fill="#FDB7A3" d="M1312.42 628.4h0.80v71.5h-0.80zM1332.41 628.4h0.80v71.5h-0.80z"/>
<path fill="#FDB29C" d="M1320.41 628.4h0.80v71.5h-0.80zM1329.21 628.4h0.80v71.5h-0.80zM1338.00 628.4h0.80v71.5h-0.80z"/>
<path fill="#FDAD96" d="M1318.82 628.4h1.60v71.5h-1.60zM1326.01 628.4h0.80v71.5h-0.80zM1328.41 628.4h0.80v71.5h-0.80zM1331.61 628.4h0.80v71.5h-0.80z"/>
<path fill="#FDA890" d="M1314.02 628.4h0.80v71.5h-0.80zM1316.42 628.4h0.80v71.5h-0.80zM1321.21 628.4h0.80v71.5h-0.80zM1323.61 628.4h1.60v71.5h-1.60zM1335.60 628.4h0.80v71.5h-0.80zM1337.20 628.4h0.80v71.5h-0.80zM1338.80 628.4h0.80v71.5h-0.80z"/>
<path fill="#FDA187" d="M1314.82 628.4h1.60v71.5h-1.60zM1326.81 628.4h0.80v71.5h-0.80zM1330.01 628.4h0.80v71.5h-0.80z"/>
<path fill="#FD9A7E" d="M1333.21 628.4h0.80v71.5h-0.80zM1340.40 628.4h1.60v71.5h-1.60z"/>
<path fill="#FD9376" d="M1322.01 628.4h0.80v71.5h-0.80z"/>
<path fill="#FD8C6D" d="M1318.02 628.4h0.80v71.5h-0.80zM1336.40 628.4h0.80v71.5h-0.80z"/>
<path fill="#FD7F5F" d="M1339.60 628.4h0.80v71.5h-0.80z"/>
<path fill="#FFF8F5" d="M766.40 699.9h0.80v71.5h-0.80zM923.89 699.9h0.80v71.5h-0.80zM927.89 699.9h0.80v71.5h-0.80zM991.04 699.9h0.80v71.5h-0.80zM1049.40 699.9h0.80v71.5h-0.80zM1158.93 699.9h0.80v71.5h-0.80zM1275.65 699.9h0.80v71.5h-0.80z"/>
<path fill="#FFF4F0" d="M823.16 699.9h0.80v71.5h-0.80zM851.94 699.9h0.80v71.5h-0.80zM935.88 699.9h0.80v71.5h-0.80z"/>
<path fill="#FFF0EB" d="M1124.55 699.9h0.80v71.5h-0.80zM1169.32 699.9h0.80v71.5h-0.80zM1188.51 699.9h0.80v71.5h-0.80z"/>
<path fill="#FEECE6" d="M908.70 699.9h0.80v71.5h-0.80zM993.44 699.9h0.80v71.5h-0.80zM996.64 699.9h0.80v71.5h-0.80zM1070.19 699.9h0.80v71.5h-0.80zM1216.49 699.9h0.80v71.5h-0.80zM1289.24 699.9h0.80v71.5h-0.80z"/>
<path fill="#FEE9E2" d="M789.58 699.9h0.80v71.5h-0.80zM947.87 699.9h0.80v71.5h-0.80zM987.05 699.9h0.80v71.5h-0.80zM1203.70 699.9h0.80v71.5h-0.80zM1230.88 699.9h0.80v71.5h-0.80z"/>
<path fill="#FEE5DD" d="M869.53 699.9h0.80v71.5h-0.80z"/>
<path fill="#FEE1D8" d="M984.65 699.9h0.80v71.5h-0.80zM1011.03 699.9h0.80v71.5h-0.80zM1132.54 699.9h0.80v71.5h-0.80zM1187.71 699.9h0.80v71.5h-0.80zM1220.48 699.9h0.80v71.5h-0.80z"/>
<path fill="#FEDED3" d="M855.94 699.9h0.80v71.5h-0.80zM962.26 699.9h0.80v71.5h-0.80zM1035.01 699.9h0.80v71.5h-0.80zM1126.95 699.9h0.80v71.5h-0.80zM1129.35 699.9h0.80v71.5h-0.80z"/>
<path fill="#FEDACE" d="M1213.29 699.9h0.80v71.5h-0.80z"/>
<path fill="#FED5C8" d="M855.14 699.9h0.80v71.5h-0.80z"/>
<path fill="#FED0C2" d="M1118.15 699.9h0.80v71.5h-0.80z"/>
<path fill="#FEC6B5" d="M929.49 699.9h0.80v71.5h-0.80z"/>
<path fill="#FD8C6D" d="M1320.41 699.9h0.80v71.5h-0.80z"/>
<path fill="#FD7A5A" d="M1313.22 699.9h0.80v71.5h-0.80zM1319.62 699.9h0.80v71.5h-0.80zM1329.21 699.9h0.80v71.5h-0.80zM1334.80 699.9h1.60v71.5h-1.60z"/>
<path fill="#FC7455" d="M1312.42 699.9h0.80v71.5h-0.80zM1334.01 699.9h0.80v71.5h-0.80z"/>
<path fill="#FC6F50" d="M1310.02 699.9h1.60v71.5h-1.60zM1321.21 699.9h0.80v71.5h-0.80z"/>
<path fill="#FC694B" d="M1318.82 699.9h0.80v71.5h-0.80zM1338.00 699.9h0.80v71.5h-0.80zM1340.40 699.9h0.80v71.5h-0.80z"/>
<path fill="#FC6245" d="M1325.21 699.9h0.80v71.5h-0.80z"/>
<path fill="#FD5A3F" d="M1311.62 699.9h0.80v71.5h-0.80zM1317.22 699.9h1.60v71.5h-1.60zM1330.81 699.9h0.80v71.5h-0.80zM1332.41 699.9h1.60v71.5h-1.60zM1339.60 699.9h0.80v71.5h-0.80z"/>
<path fill="#FD5339" d="M1315.62 699.9h0.80v71.5h-0.80z"/>
<path fill="#FD4B33" d="M1314.02 699.9h0.80v71.5h-0.80zM1324.41 699.9h0.80v71.5h-0.80zM1327.61 699.9h1.60v71.5h-1.60zM1337.20 699.9h0.80v71.5h-0.80z"/>
<path fill="#FE442D" d="M1326.01 699.9h0.80v71.5h-0.80zM1331.61 699.9h0.80v71.5h-0.80zM1341.20 699.9h0.80v71.5h-0.80z"/>
<path fill="#FE3C27" d="M1314.82 699.9h0.80v71.5h-0.80zM1336.40 699.9h0.80v71.5h-0.80z"/>
<path fill="#FE3421" d="M1322.01 699.9h0.80v71.5h-0.80zM1326.81 699.9h0.80v71.5h-0.80zM1338.80 699.9h0.80v71.5h-0.80z"/>
<path fill="#FF1E0F" d="M1316.42 699.9h0.80v71.5h-0.80z"/>
<rect x="213.8" y="866.4" width="391.2" height="370.6" fill="#EBEBEB"/>
<line x1="299.3" x2="299.3" y1="866.4" y2="1237.0" stroke="#F5F5F5" stroke-width="1"/>
<line x1="392.7" x2="392.7" y1="866.4" y2="1237.0" stroke="#F5F5F5" stroke-width="1"/>
<line x1="486.1" x2="486.1" y1="866.4" y2="1237.0" stroke="#F5F5F5" stroke-width="1"/>
<line x1="579.5" x2="579.5" y1="866.4" y2="1237.0" stroke="#F5F5F5" stroke-width="1"/>
<line x1="213.8" x2="605.0" y1="907.7" y2="907.7" stroke="#F5F5F5" stroke-width="1"/>
<line x1="213.8" x2="605.0" y1="982.5" y2="982.5" stroke="#F5F5F5" stroke-width="1"/>
<line x1="213.8" x2="605.0" y1="1057.3" y2="1057.3" stroke="#F5F5F5" stroke-width="1"/>
<line x1="213.8" x2="605.0" y1="1132.1" y2="1132.1" stroke="#F5F5F5" stroke-width="1"/>
<line x1="213.8" x2="605.0" y1="1206.9" y2="1206.9" stroke="#F5F5F5" stroke-width="1"/>
<line x1="252.6" x2="252.6" y1="866.4" y2="1237.0" stroke="#FFFFFF" stroke-width="1.8"/>
<line x1="252.6" x2="252.6" y1="1237.0" y2="1247.0" stroke="#666" stroke-width="1.8"/>
<text x="252.6" y="1281.0" text-anchor="middle">−10</text>
<line x1="346.0" x2="346.0" y1="866.4" y2="1237.0" stroke="#FFFFFF" stroke-width="1.8"/>
<line x1="346.0" x2="346.0" y1="1237.0" y2="1247.0" stroke="#666" stroke-width="1.8"/>
<text x="346.0" y="1281.0" text-anchor="middle">−5</text>
<line x1="439.4" x2="439.4" y1="866.4" y2="1237.0" stroke="#FFFFFF" stroke-width="1.8"/>
<line x1="439.4" x2="439.4" y1="1237.0" y2="1247.0" stroke="#666" stroke-width="1.8"/>
<text x="439.4" y="1281.0" text-anchor="middle">0</text>
<line x1="532.8" x2="532.8" y1="866.4" y2="1237.0" stroke="#FFFFFF" stroke-width="1.8"/>
<line x1="532.8" x2="532.8" y1="1237.0" y2="1247.0" stroke="#666" stroke-width="1.8"/>
<text x="532.8" y="1281.0" text-anchor="middle">5</text>
<line x1="213.8" x2="605.0" y1="870.3" y2="870.3" stroke="#FFFFFF" stroke-width="1.8"/>
<line x1="203.8" x2="213.8" y1="870.3" y2="870.3" stroke="#666" stroke-width="1.8"/>
<text x="192.3" y="879.8" text-anchor="end">12</text>
<line x1="213.8" x2="605.0" y1="945.1" y2="945.1" stroke="#FFFFFF" stroke-width="1.8"/>
<line x1="203.8" x2="213.8" y1="945.1" y2="945.1" stroke="#666" stroke-width="1.8"/>
<text x="192.3" y="954.6" text-anchor="end">8</text>
<line x1="213.8" x2="605.0" y1="1019.9" y2="1019.9" stroke="#FFFFFF" stroke-width="1.8"/>
<line x1="203.8" x2="213.8" y1="1019.9" y2="1019.9" stroke="#666" stroke-width="1.8"/>
<text x="192.3" y="1029.4" text-anchor="end">4</text>
<line x1="213.8" x2="605.0" y1="1094.7" y2="1094.7" stroke="#FFFFFF" stroke-width="1.8"/>
<line x1="203.8" x2="213.8" y1="1094.7" y2="1094.7" stroke="#666" stroke-width="1.8"/>
<text x="192.3" y="1104.2" text-anchor="end">0</text>
<line x1="213.8" x2="605.0" y1="1169.5" y2="1169.5" stroke="#FFFFFF" stroke-width="1.8"/>
<line x1="203.8" x2="213.8" y1="1169.5" y2="1169.5" stroke="#666" stroke-width="1.8"/>
<text x="192.3" y="1179.0" text-anchor="end">−4</text>
<g>
<circle cx="430.1" cy="1197.4" r="3.2" fill="#DD6400"/>
<circle cx="372.6" cy="1169.8" r="3.2" fill="#DD6400"/>
<circle cx="566.7" cy="929.8" r="3.2" fill="#800080"/>
<circle cx="440.1" cy="1126.9" r="3.2" fill="#0000FF"/>
<circle cx="431.8" cy="1203.1" r="3.2" fill="#DD6400"/>
<circle cx="553.4" cy="902.2" r="3.2" fill="#800080"/>
<circle cx="375.8" cy="1218.1" r="3.2" fill="#DD6400"/>
<circle cx="361.4" cy="1168.9" r="3.2" fill="#DD6400"/>
<circle cx="374.9" cy="1188.0" r="3.2" fill="#DD6400"/>
<circle cx="375.2" cy="1179.5" r="3.2" fill="#DD6400"/>
<circle cx="378.0" cy="1215.8" r="3.2" fill="#DD6400"/>
<circle cx="442.5" cy="1129.6" r="3.2" fill="#0000FF"/>
<circle cx="431.7" cy="1185.5" r="3.2" fill="#DD6400"/>
<circle cx="356.0" cy="1169.1" r="3.2" fill="#DD6400"/>
<circle cx="556.3" cy="907.4" r="3.2" fill="#800080"/>
<circle cx="455.8" cy="1126.5" r="3.2" fill="#006400"/>
<circle cx="556.9" cy="906.8" r="3.2" fill="#800080"/>
<circle cx="467.7" cy="1111.7" r="3.2" fill="#006400"/>
<circle cx="433.5" cy="1115.8" r="3.2" fill="#0000FF"/>
<circle cx="372.0" cy="1176.2" r="3.2" fill="#DD6400"/>
<circle cx="373.5" cy="1186.5" r="3.2" fill="#DD6400"/>
<circle cx="379.8" cy="1144.4" r="3.2" fill="#DD6400"/>
<circle cx="366.7" cy="1174.5" r="3.2" fill="#DD6400"/>
<circle cx="444.5" cy="1132.1" r="3.2" fill="#0000FF"/>
<circle cx="570.3" cy="913.8" r="3.2" fill="#800080"/>
<circle cx="426.1" cy="1129.8" r="3.2" fill="#0000FF"/>
<circle cx="359.2" cy="1169.6" r="3.2" fill="#DD6400"/>
<circle cx="394.6" cy="1196.0" r="3.2" fill="#DD6400"/>
<circle cx="452.0" cy="1133.3" r="3.2" fill="#0000FF"/>
<circle cx="363.2" cy="1168.6" r="3.2" fill="#DD6400"/>
<circle cx="380.2" cy="1207.3" r="3.2" fill="#DD6400"/>
<circle cx="569.7" cy="921.0" r="3.2" fill="#800080"/>
<circle cx="378.6" cy="1168.1" r="3.2" fill="#DD6400"/>
<circle cx="392.7" cy="1180.4" r="3.2" fill="#DD6400"/>
<circle cx="376.1" cy="1213.9" r="3.2" fill="#DD6400"/>
<circle cx="462.6" cy="1103.3" r="3.2" fill="#006400"/>
<circle cx="566.7" cy="910.3" r="3.2" fill="#800080"/>
<circle cx="398.3" cy="1198.6" r="3.2" fill="#DD6400"/>
<circle cx="439.0" cy="1124.2" r="3.2" fill="#0000FF"/>
<circle cx="429.1" cy="1200.1" r="3.2" fill="#DD6400"/>
<circle cx="378.1" cy="1216.8" r="3.2" fill="#DD6400"/>
<circle cx="365.1" cy="1171.1" r="3.2" fill="#DD6400"/>
<circle cx="427.7" cy="1127.3" r="3.2" fill="#0000FF"/>
<circle cx="376.9" cy="1183.6" r="3.2" fill="#DD6400"/>
<circle cx="555.5" cy="902.9" r="3.2" fill="#800080"/>
<circle cx="363.9" cy="1205.8" r="3.2" fill="#DD6400"/>
<circle cx="403.3" cy="1199.5" r="3.2" fill="#DD6400"/>
<circle cx="555.5" cy="900.5" r="3.2" fill="#800080"/>
<circle cx="373.8" cy="1170.9" r="3.2" fill="#DD6400"/>
<circle cx="434.3" cy="1127.5" r="3.2" fill="#0000FF"/>
<circle cx="553.1" cy="909.2" r="3.2" fill="#800080"/>
<circle cx="467.6" cy="1104.7" r="3.2" fill="#006400"/>
<circle cx="429.5" cy="1170.1" r="3.2" fill="#0000FF"/>
<circle cx="564.8" cy="927.6" r="3.2" fill="#800080"/>
<circle cx="575.8" cy="900.2" r="3.2" fill="#800080"/>
<circle cx="428.2" cy="1124.5" r="3.2" fill="#0000FF"/>
<circle cx="564.1" cy="918.0" r="3.2" fill="#800080"/>
<circle cx="425.3" cy="1192.7" r="3.2" fill="#DD6400"/>
<circle cx="565.4" cy="914.2" r="3.2" fill="#800080"/>
<circle cx="357.5" cy="1165.7" r="3.2" fill="#DD6400"/>
<circle cx="459.6" cy="1104.1" r="3.2" fill="#006400"/>
<circle cx="364.9" cy="1208.3" r="3.2" fill="#DD6400"/>
<circle cx="562.5" cy="923.5" r="3.2" fill="#800080"/>
<circle cx="375.1" cy="1145.4" r="3.2" fill="#DD6400"/>
<circle cx="570.5" cy="895.8" r="3.2" fill="#800080"/>
<circle cx="363.1" cy="1170.9" r="3.2" fill="#DD6400"/>
<circle cx="456.2" cy="1111.1" r="3.2" fill="#006400"/>
<circle cx="426.3" cy="1201.9" r="3.2" fill="#DD6400"/>
<circle cx="585.1" cy="906.9" r="3.2" fill="#800080"/>
<circle cx="584.3" cy="909.1" r="3.2" fill="#800080"/>
<circle cx="397.5" cy="1147.5" r="3.2" fill="#DD6400"/>
<circle cx="575.2" cy="901.4" r="3.2" fill="#800080"/>
<circle cx="374.7" cy="1207.4" r="3.2" fill="#DD6400"/>
<circle cx="375.2" cy="1205.5" r="3.2" fill="#DD6400"/>
<circle cx="551.3" cy="900.8" r="3.2" fill="#800080"/>
<circle cx="397.5" cy="1166.2" r="3.2" fill="#DD6400"/>
<circle cx="376.5" cy="1183.6" r="3.2" fill="#DD6400"/>
<circle cx="458.5" cy="1102.1" r="3.2" fill="#006400"/>
<circle cx="235.5" cy="1006.0" r="3.2" fill="#56B0E6"/>
<circle cx="452.2" cy="1141.1" r="3.2" fill="#0000FF"/>
<circle cx="425.6" cy="1189.9" r="3.2" fill="#DD6400"/>
<circle cx="587.3" cy="924.4" r="3.2" fill="#800080"/>
<circle cx="558.5" cy="904.9" r="3.2" fill="#800080"/>
<circle cx="453.8" cy="1137.0" r="3.2" fill="#006400"/>
<circle cx="237.9" cy="1004.2" r="3.2" fill="#56B0E6"/>
<circle cx="240.3" cy="1004.8" r="3.2" fill="#56B0E6"/>
<circle cx="239.7" cy="1003.5" r="3.2" fill="#56B0E6"/>
<circle cx="371.7" cy="1210.4" r="3.2" fill="#DD6400"/>
<circle cx="438.0" cy="1129.7" r="3.2" fill="#0000FF"/>
<circle cx="551.4" cy="900.2" r="3.2" fill="#800080"/>
<circle cx="427.8" cy="1138.7" r="3.2" fill="#DD6400"/>
<circle cx="582.1" cy="902.8" r="3.2" fill="#800080"/>
<circle cx="432.8" cy="1198.0" r="3.2" fill="#DD6400"/>
<circle cx="423.8" cy="1192.4" r="3.2" fill="#DD6400"/>
<circle cx="242.1" cy="1003.1" r="3.2" fill="#56B0E6"/>
<circle cx="234.9" cy="1004.1" r="3.2" fill="#56B0E6"/>
<circle cx="373.8" cy="1209.4" r="3.2" fill="#DD6400"/>
<circle cx="375.5" cy="1167.3" r="3.2" fill="#DD6400"/>
<circle cx="373.7" cy="1203.5" r="3.2" fill="#DD6400"/>
<circle cx="377.7" cy="1149.0" r="3.2" fill="#DD6400"/>
<circle cx="460.5" cy="1103.8" r="3.2" fill="#006400"/>
<circle cx="464.2" cy="1105.5" r="3.2" fill="#006400"/>
<circle cx="466.6" cy="1105.5" r="3.2" fill="#006400"/>
<circle cx="429.3" cy="1180.2" r="3.2" fill="#0000FF"/>
<circle cx="371.8" cy="1213.9" r="3.2" fill="#DD6400"/>
<circle cx="553.1" cy="896.3" r="3.2" fill="#800080"/>
<circle cx="556.4" cy="898.9" r="3.2" fill="#800080"/>
<circle cx="372.9" cy="1201.8" r="3.2" fill="#DD6400"/>
<circle cx="554.8" cy="898.6" r="3.2" fill="#800080"/>
<circle cx="458.6" cy="1104.4" r="3.2" fill="#006400"/>
<circle cx="549.7" cy="904.2" r="3.2" fill="#800080"/>
<circle cx="435.1" cy="1124.7" r="3.2" fill="#0000FF"/>
<circle cx="450.1" cy="1144.6" r="3.2" fill="#0000FF"/>
<circle cx="454.1" cy="1126.8" r="3.2" fill="#006400"/>
<circle cx="382.1" cy="1213.8" r="3.2" fill="#DD6400"/>
<circle cx="390.9" cy="1206.8" r="3.2" fill="#DD6400"/>
<circle cx="378.4" cy="1142.7" r="3.2" fill="#DD6400"/>
<circle cx="462.9" cy="1106.2" r="3.2" fill="#006400"/>
<circle cx="379.1" cy="1213.0" r="3.2" fill="#DD6400"/>
<circle cx="398.7" cy="1178.7" r="3.2" fill="#DD6400"/>
<circle cx="567.4" cy="925.6" r="3.2" fill="#800080"/>
<circle cx="427.1" cy="1189.9" r="3.2" fill="#DD6400"/>
<circle cx="464.5" cy="1108.6" r="3.2" fill="#006400"/>
<circle cx="436.8" cy="1138.9" r="3.2" fill="#0000FF"/>
<circle cx="419.6" cy="1191.5" r="3.2" fill="#DD6400"/>
<circle cx="433.3" cy="1199.9" r="3.2" fill="#0000FF"/>
<circle cx="442.1" cy="1128.0" r="3.2" fill="#0000FF"/>
<circle cx="464.3" cy="1110.3" r="3.2" fill="#006400"/>
<circle cx="581.0" cy="908.5" r="3.2" fill="#800080"/>
<circle cx="398.4" cy="1177.3" r="3.2" fill="#DD6400"/>
<circle cx="399.3" cy="1199.2" r="3.2" fill="#DD6400"/>
<circle cx="438.9" cy="1185.6" r="3.2" fill="#0000FF"/>
<circle cx="566.4" cy="905.9" r="3.2" fill="#800080"/>
<circle cx="425.4" cy="1157.8" r="3.2" fill="#DD6400"/>
<circle cx="426.8" cy="1141.6" r="3.2" fill="#DD6400"/>
<circle cx="430.7" cy="1172.9" r="3.2" fill="#0000FF"/>
<circle cx="566.4" cy="921.0" r="3.2" fill="#800080"/>
<circle cx="401.9" cy="1200.8" r="3.2" fill="#DD6400"/>
<circle cx="423.9" cy="1150.9" r="3.2" fill="#0000FF"/>
<circle cx="425.7" cy="1192.1" r="3.2" fill="#DD6400"/>
<circle cx="372.8" cy="1210.6" r="3.2" fill="#DD6400"/>
<circle cx="578.5" cy="906.8" r="3.2" fill="#800080"/>
<circle cx="553.4" cy="896.1" r="3.2" fill="#800080"/>
<circle cx="568.5" cy="898.2" r="3.2" fill="#800080"/>
<circle cx="382.1" cy="1146.0" r="3.2" fill="#DD6400"/>
<circle cx="235.0" cy="1003.8" r="3.2" fill="#56B0E6"/>
<circle cx="386.2" cy="1210.9" r="3.2" fill="#DD6400"/>
<circle cx="549.6" cy="900.2" r="3.2" fill="#800080"/>
<circle cx="572.4" cy="924.8" r="3.2" fill="#800080"/>
<circle cx="560.4" cy="922.1" r="3.2" fill="#800080"/>
<circle cx="375.8" cy="1205.0" r="3.2" fill="#DD6400"/>
<circle cx="376.6" cy="1208.9" r="3.2" fill="#DD6400"/>
<circle cx="549.0" cy="913.6" r="3.2" fill="#800080"/>
<circle cx="559.0" cy="908.2" r="3.2" fill="#800080"/>
<circle cx="458.8" cy="1107.3" r="3.2" fill="#006400"/>
<circle cx="550.6" cy="906.5" r="3.2" fill="#800080"/>
<circle cx="450.9" cy="1136.2" r="3.2" fill="#0000FF"/>
<circle cx="397.5" cy="1192.3" r="3.2" fill="#DD6400"/>
<circle cx="431.3" cy="1166.2" r="3.2" fill="#0000FF"/>
<circle cx="376.0" cy="1204.2" r="3.2" fill="#DD6400"/>
<circle cx="407.0" cy="1199.7" r="3.2" fill="#DD6400"/>
<circle cx="441.4" cy="1131.1" r="3.2" fill="#0000FF"/>
<circle cx="422.5" cy="1188.7" r="3.2" fill="#DD6400"/>
<circle cx="378.0" cy="1214.1" r="3.2" fill="#DD6400"/>
<circle cx="462.6" cy="1101.9" r="3.2" fill="#006400"/>
<circle cx="568.1" cy="897.7" r="3.2" fill="#800080"/>
<circle cx="402.6" cy="1174.1" r="3.2" fill="#DD6400"/>
<circle cx="409.7" cy="1170.6" r="3.2" fill="#DD6400"/>
<circle cx="438.6" cy="1113.5" r="3.2" fill="#0000FF"/>
<circle cx="370.2" cy="1201.7" r="3.2" fill="#DD6400"/>
<circle cx="373.2" cy="1212.5" r="3.2" fill="#DD6400"/>
<circle cx="390.0" cy="1200.6" r="3.2" fill="#DD6400"/>
<circle cx="402.0" cy="1200.6" r="3.2" fill="#DD6400"/>
<circle cx="405.3" cy="1203.4" r="3.2" fill="#DD6400"/>
<circle cx="440.2" cy="1188.0" r="3.2" fill="#0000FF"/>
<circle cx="425.0" cy="1156.9" r="3.2" fill="#DD6400"/>
<circle cx="579.7" cy="903.6" r="3.2" fill="#800080"/>
<circle cx="420.0" cy="1196.6" r="3.2" fill="#DD6400"/>
<circle cx="467.2" cy="1112.1" r="3.2" fill="#006400"/>
<circle cx="553.6" cy="905.4" r="3.2" fill="#800080"/>
<circle cx="384.0" cy="1207.2" r="3.2" fill="#DD6400"/>
<circle cx="362.7" cy="1170.9" r="3.2" fill="#DD6400"/>
<circle cx="404.4" cy="1202.1" r="3.2" fill="#DD6400"/>
<circle cx="238.5" cy="1000.6" r="3.2" fill="#56B0E6"/>
<circle cx="398.5" cy="1197.2" r="3.2" fill="#DD6400"/>
<circle cx="423.3" cy="1194.1" r="3.2" fill="#DD6400"/>
<circle cx="567.1" cy="920.7" r="3.2" fill="#800080"/>
<circle cx="361.1" cy="1169.5" r="3.2" fill="#DD6400"/>
<circle cx="560.4" cy="921.6" r="3.2" fill="#800080"/>
<circle cx="381.5" cy="1211.6" r="3.2" fill="#DD6400"/>
<circle cx="373.9" cy="1212.0" r="3.2" fill="#DD6400"/>
<circle cx="557.3" cy="897.5" r="3.2" fill="#800080"/>
<circle cx="466.3" cy="1102.5" r="3.2" fill="#006400"/>
<circle cx="582.1" cy="908.8" r="3.2" fill="#800080"/>
<circle cx="426.9" cy="1171.3" r="3.2" fill="#0000FF"/>
<circle cx="455.2" cy="1111.1" r="3.2" fill="#006400"/>
<circle cx="429.3" cy="1180.0" r="3.2" fill="#0000FF"/>
<circle cx="381.5" cy="1138.3" r="3.2" fill="#DD6400"/>
<circle cx="571.3" cy="919.3" r="3.2" fill="#800080"/>
<circle cx="368.6" cy="1171.2" r="3.2" fill="#DD6400"/>
<circle cx="555.5" cy="908.9" r="3.2" fill="#800080"/>
<circle cx="381.3" cy="1149.0" r="3.2" fill="#DD6400"/>
<circle cx="431.5" cy="1122.0" r="3.2" fill="#0000FF"/>
<circle cx="372.1" cy="1168.9" r="3.2" fill="#DD6400"/>
<circle cx="422.8" cy="1201.1" r="3.2" fill="#DD6400"/>
<circle cx="430.7" cy="1184.9" r="3.2" fill="#DD6400"/>
<circle cx="563.2" cy="893.9" r="3.2" fill="#800080"/>
<circle cx="432.0" cy="1178.5" r="3.2" fill="#0000FF"/>
<circle cx="564.8" cy="893.4" r="3.2" fill="#800080"/>
<circle cx="375.3" cy="1145.0" r="3.2" fill="#DD6400"/>
<circle cx="553.5" cy="902.8" r="3.2" fill="#800080"/>
<circle cx="564.4" cy="923.3" r="3.2" fill="#800080"/>
<circle cx="362.0" cy="1167.9" r="3.2" fill="#DD6400"/>
<circle cx="432.7" cy="1120.1" r="3.2" fill="#0000FF"/>
<circle cx="452.5" cy="1140.3" r="3.2" fill="#0000FF"/>
<circle cx="438.4" cy="1185.5" r="3.2" fill="#0000FF"/>
<circle cx="561.8" cy="909.7" r="3.2" fill="#800080"/>
<circle cx="372.7" cy="1169.6" r="3.2" fill="#DD6400"/>
<circle cx="568.3" cy="929.8" r="3.2" fill="#800080"/>
<circle cx="581.4" cy="910.3" r="3.2" fill="#800080"/>
<circle cx="580.1" cy="909.4" r="3.2" fill="#800080"/>
<circle cx="568.6" cy="894.6" r="3.2" fill="#800080"/>
<circle cx="452.6" cy="1126.4" r="3.2" fill="#006400"/>
<circle cx="448.7" cy="1148.4" r="3.2" fill="#0000FF"/>
<circle cx="372.4" cy="1203.8" r="3.2" fill="#DD6400"/>
<circle cx="435.5" cy="1137.8" r="3.2" fill="#0000FF"/>
<circle cx="373.3" cy="1167.6" r="3.2" fill="#DD6400"/>
<circle cx="442.5" cy="1126.4" r="3.2" fill="#0000FF"/>
<circle cx="447.7" cy="1148.2" r="3.2" fill="#0000FF"/>
<circle cx="567.9" cy="897.7" r="3.2" fill="#800080"/>
<circle cx="371.2" cy="1213.5" r="3.2" fill="#DD6400"/>
<circle cx="384.2" cy="1210.0" r="3.2" fill="#DD6400"/>
<circle cx="429.2" cy="1201.6" r="3.2" fill="#DD6400"/>
<circle cx="376.4" cy="1208.7" r="3.2" fill="#DD6400"/>
<circle cx="462.9" cy="1107.0" r="3.2" fill="#006400"/>
<circle cx="570.6" cy="926.1" r="3.2" fill="#800080"/>
<circle cx="451.3" cy="1129.3" r="3.2" fill="#006400"/>
<circle cx="583.3" cy="907.3" r="3.2" fill="#800080"/>
<circle cx="382.1" cy="1143.2" r="3.2" fill="#DD6400"/>
<circle cx="363.3" cy="1205.7" r="3.2" fill="#DD6400"/>
<circle cx="424.1" cy="1195.8" r="3.2" fill="#DD6400"/>
<circle cx="399.5" cy="1177.2" r="3.2" fill="#DD6400"/>
<circle cx="241.1" cy="1001.5" r="3.2" fill="#56B0E6"/>
<circle cx="430.5" cy="1119.5" r="3.2" fill="#0000FF"/>
<circle cx="436.7" cy="1127.1" r="3.2" fill="#0000FF"/>
<circle cx="456.6" cy="1121.4" r="3.2" fill="#006400"/>
<circle cx="566.9" cy="896.7" r="3.2" fill="#800080"/>
<circle cx="433.3" cy="1191.4" r="3.2" fill="#DD6400"/>
<circle cx="425.7" cy="1186.7" r="3.2" fill="#DD6400"/>
<circle cx="566.7" cy="922.0" r="3.2" fill="#800080"/>
<circle cx="400.6" cy="1195.1" r="3.2" fill="#DD6400"/>
<circle cx="403.3" cy="1200.5" r="3.2" fill="#DD6400"/>
<circle cx="377.6" cy="1205.2" r="3.2" fill="#DD6400"/>
<circle cx="382.0" cy="1148.3" r="3.2" fill="#DD6400"/>
<circle cx="449.9" cy="1133.2" r="3.2" fill="#006400"/>
<circle cx="376.1" cy="1182.9" r="3.2" fill="#DD6400"/>
<circle cx="404.4" cy="1199.0" r="3.2" fill="#DD6400"/>
<circle cx="579.6" cy="909.1" r="3.2" fill="#800080"/>
<circle cx="358.2" cy="1165.4" r="3.2" fill="#DD6400"/>
<circle cx="432.3" cy="1116.5" r="3.2" fill="#0000FF"/>
<circle cx="557.4" cy="909.5" r="3.2" fill="#800080"/>
<circle cx="370.5" cy="1209.1" r="3.2" fill="#DD6400"/>
<circle cx="404.0" cy="1201.1" r="3.2" fill="#DD6400"/>
<circle cx="563.5" cy="907.9" r="3.2" fill="#800080"/>
<circle cx="378.9" cy="1217.7" r="3.2" fill="#DD6400"/>
<circle cx="379.0" cy="1175.8" r="3.2" fill="#DD6400"/>
<circle cx="372.9" cy="1202.3" r="3.2" fill="#DD6400"/>
<circle cx="427.3" cy="1142.0" r="3.2" fill="#DD6400"/>
<circle cx="436.7" cy="1190.2" r="3.2" fill="#DD6400"/>
<circle cx="582.7" cy="907.9" r="3.2" fill="#800080"/>
<circle cx="560.5" cy="920.0" r="3.2" fill="#800080"/>
<circle cx="237.3" cy="1003.3" r="3.2" fill="#56B0E6"/>
<circle cx="404.8" cy="1169.4" r="3.2" fill="#DD6400"/>
<circle cx="552.6" cy="906.8" r="3.2" fill="#800080"/>
<circle cx="375.3" cy="1217.6" r="3.2" fill="#DD6400"/>
<circle cx="383.0" cy="1197.7" r="3.2" fill="#DD6400"/>
<circle cx="403.6" cy="1202.5" r="3.2" fill="#DD6400"/>
<circle cx="578.0" cy="906.6" r="3.2" fill="#800080"/>
<circle cx="375.4" cy="1199.5" r="3.2" fill="#DD6400"/>
<circle cx="379.5" cy="1139.3" r="3.2" fill="#DD6400"/>
<circle cx="372.2" cy="1205.4" r="3.2" fill="#DD6400"/>
<circle cx="375.0" cy="1147.7" r="3.2" fill="#DD6400"/>
<circle cx="374.6" cy="1178.3" r="3.2" fill="#DD6400"/>
<circle cx="457.1" cy="1105.9" r="3.2" fill="#006400"/>
<circle cx="568.1" cy="920.6" r="3.2" fill="#800080"/>
<circle cx="467.9" cy="1114.5" r="3.2" fill="#006400"/>
<circle cx="370.0" cy="1210.3" r="3.2" fill="#DD6400"/>
<circle cx="464.7" cy="1109.0" r="3.2" fill="#006400"/>
<circle cx="463.2" cy="1107.8" r="3.2" fill="#006400"/>
<circle cx="396.6" cy="1146.6" r="3.2" fill="#DD6400"/>
<circle cx="409.3" cy="1167.4" r="3.2" fill="#DD6400"/>
<circle cx="234.7" cy="1007.5" r="3.2" fill="#56B0E6"/>
<circle cx="361.4" cy="1168.5" r="3.2" fill="#DD6400"/>
<circle cx="444.9" cy="1158.3" r="3.2" fill="#0000FF"/>
<circle cx="383.6" cy="1197.7" r="3.2" fill="#DD6400"/>
<circle cx="243.2" cy="1005.4" r="3.2" fill="#56B0E6"/>
<circle cx="579.0" cy="907.3" r="3.2" fill="#800080"/>
<circle cx="440.5" cy="1113.6" r="3.2" fill="#0000FF"/>
<circle cx="440.7" cy="1130.8" r="3.2" fill="#0000FF"/>
<circle cx="450.7" cy="1117.5" r="3.2" fill="#006400"/>
<circle cx="579.8" cy="903.5" r="3.2" fill="#800080"/>
<circle cx="580.0" cy="908.9" r="3.2" fill="#800080"/>
<circle cx="382.9" cy="1217.7" r="3.2" fill="#DD6400"/>
<circle cx="459.7" cy="1101.5" r="3.2" fill="#006400"/>
<circle cx="435.2" cy="1183.1" r="3.2" fill="#0000FF"/>
<circle cx="430.1" cy="1178.2" r="3.2" fill="#0000FF"/>
<circle cx="551.0" cy="898.6" r="3.2" fill="#800080"/>
<circle cx="434.5" cy="1125.2" r="3.2" fill="#0000FF"/>
<circle cx="243.0" cy="1003.6" r="3.2" fill="#56B0E6"/>
<circle cx="560.9" cy="923.0" r="3.2" fill="#800080"/>
<circle cx="458.1" cy="1105.7" r="3.2" fill="#006400"/>
<circle cx="376.5" cy="1178.1" r="3.2" fill="#DD6400"/>
<circle cx="370.4" cy="1178.9" r="3.2" fill="#DD6400"/>
<circle cx="375.6" cy="1209.8" r="3.2" fill="#DD6400"/>
<circle cx="360.3" cy="1168.0" r="3.2" fill="#DD6400"/>
<circle cx="445.0" cy="1144.7" r="3.2" fill="#0000FF"/>
<circle cx="411.6" cy="1164.6" r="3.2" fill="#DD6400"/>
<circle cx="431.6" cy="1183.5" r="3.2" fill="#0000FF"/>
<circle cx="436.2" cy="1135.4" r="3.2" fill="#0000FF"/>
<circle cx="428.7" cy="1169.5" r="3.2" fill="#0000FF"/>
<circle cx="368.2" cy="1208.7" r="3.2" fill="#DD6400"/>
<circle cx="406.6" cy="1169.7" r="3.2" fill="#DD6400"/>
<circle cx="402.7" cy="1196.0" r="3.2" fill="#DD6400"/>
<circle cx="234.2" cy="1005.8" r="3.2" fill="#56B0E6"/>
<circle cx="441.9" cy="1128.8" r="3.2" fill="#0000FF"/>
<circle cx="395.0" cy="1164.5" r="3.2" fill="#DD6400"/>
<circle cx="432.4" cy="1197.4" r="3.2" fill="#0000FF"/>
<circle cx="583.2" cy="909.6" r="3.2" fill="#800080"/>
<circle cx="377.6" cy="1219.6" r="3.2" fill="#DD6400"/>
<circle cx="375.4" cy="1217.2" r="3.2" fill="#DD6400"/>
<circle cx="368.6" cy="1202.3" r="3.2" fill="#DD6400"/>
<circle cx="557.1" cy="903.5" r="3.2" fill="#800080"/>
<circle cx="440.1" cy="1141.7" r="3.2" fill="#0000FF"/>
<circle cx="360.9" cy="1170.1" r="3.2" fill="#DD6400"/>
<circle cx="430.8" cy="1167.4" r="3.2" fill="#0000FF"/>
<circle cx="395.1" cy="1185.8" r="3.2" fill="#DD6400"/>
<circle cx="376.4" cy="1180.1" r="3.2" fill="#DD6400"/>
<circle cx="553.9" cy="898.6" r="3.2" fill="#800080"/>
<circle cx="563.4" cy="905.7" r="3.2" fill="#800080"/>
<circle cx="549.3" cy="904.9" r="3.2" fill="#800080"/>
<circle cx="426.8" cy="1152.5" r="3.2" fill="#0000FF"/>
<circle cx="428.4" cy="1175.7" r="3.2" fill="#0000FF"/>
<circle cx="568.8" cy="904.3" r="3.2" fill="#800080"/>
<circle cx="451.6" cy="1152.4" r="3.2" fill="#0000FF"/>
<circle cx="243.0" cy="1006.7" r="3.2" fill="#56B0E6"/>
<circle cx="368.6" cy="1204.4" r="3.2" fill="#DD6400"/>
<circle cx="432.4" cy="1116.3" r="3.2" fill="#0000FF"/>
<circle cx="384.7" cy="1198.5" r="3.2" fill="#DD6400"/>
<circle cx="363.8" cy="1163.9" r="3.2" fill="#DD6400"/>
<circle cx="396.5" cy="1187.3" r="3.2" fill="#DD6400"/>
<circle cx="397.4" cy="1185.4" r="3.2" fill="#DD6400"/>
<circle cx="373.6" cy="1210.2" r="3.2" fill="#DD6400"/>
<circle cx="472.2" cy="1106.3" r="3.2" fill="#006400"/>
<circle cx="241.1" cy="1003.8" r="3.2" fill="#56B0E6"/>
<circle cx="456.8" cy="1129.0" r="3.2" fill="#006400"/>
<circle cx="554.4" cy="904.8" r="3.2" fill="#800080"/>
<circle cx="386.3" cy="1196.9" r="3.2" fill="#DD6400"/>
<circle cx="394.5" cy="1186.1" r="3.2" fill="#DD6400"/>
<circle cx="549.0" cy="904.4" r="3.2" fill="#800080"/>
<circle cx="559.5" cy="921.6" r="3.2" fill="#800080"/>
<circle cx="363.0" cy="1167.9" r="3.2" fill="#DD6400"/>
<circle cx="375.6" cy="1208.7" r="3.2" fill="#DD6400"/>
<circle cx="558.7" cy="900.6" r="3.2" fill="#800080"/>
<circle cx="440.4" cy="1125.4" r="3.2" fill="#0000FF"/>
<circle cx="565.6" cy="906.3" r="3.2" fill="#800080"/>
<circle cx="372.5" cy="1169.0" r="3.2" fill="#DD6400"/>
<circle cx="377.5" cy="1212.4" r="3.2" fill="#DD6400"/>
<circle cx="241.5" cy="1004.6" r="3.2" fill="#56B0E6"/>
<circle cx="465.4" cy="1108.8" r="3.2" fill="#006400"/>
<circle cx="439.9" cy="1126.6" r="3.2" fill="#0000FF"/>
<circle cx="558.1" cy="898.3" r="3.2" fill="#800080"/>
<circle cx="395.6" cy="1185.4" r="3.2" fill="#DD6400"/>
<circle cx="426.9" cy="1141.0" r="3.2" fill="#0000FF"/>
<circle cx="243.1" cy="1006.2" r="3.2" fill="#56B0E6"/>
<circle cx="373.2" cy="1145.7" r="3.2" fill="#DD6400"/>
<circle cx="232.9" cy="1007.1" r="3.2" fill="#56B0E6"/>
<circle cx="470.3" cy="1107.2" r="3.2" fill="#006400"/>
<circle cx="370.7" cy="1202.6" r="3.2" fill="#DD6400"/>
<circle cx="392.5" cy="1163.3" r="3.2" fill="#DD6400"/>
<circle cx="402.6" cy="1171.7" r="3.2" fill="#DD6400"/>
<circle cx="433.5" cy="1183.5" r="3.2" fill="#0000FF"/>
<circle cx="374.0" cy="1211.6" r="3.2" fill="#DD6400"/>
<circle cx="436.7" cy="1184.9" r="3.2" fill="#0000FF"/>
<circle cx="427.3" cy="1145.0" r="3.2" fill="#DD6400"/>
<circle cx="426.3" cy="1190.0" r="3.2" fill="#DD6400"/>
<circle cx="552.9" cy="907.2" r="3.2" fill="#800080"/>
<circle cx="441.2" cy="1166.6" r="3.2" fill="#0000FF"/>
<circle cx="377.3" cy="1138.0" r="3.2" fill="#DD6400"/>
<circle cx="443.8" cy="1133.2" r="3.2" fill="#0000FF"/>
<circle cx="555.4" cy="903.4" r="3.2" fill="#800080"/>
<circle cx="451.7" cy="1130.0" r="3.2" fill="#006400"/>
<circle cx="375.9" cy="1204.8" r="3.2" fill="#DD6400"/>
<circle cx="239.1" cy="1005.0" r="3.2" fill="#56B0E6"/>
<circle cx="374.6" cy="1150.9" r="3.2" fill="#DD6400"/>
<circle cx="235.1" cy="1007.9" r="3.2" fill="#56B0E6"/>
<circle cx="556.1" cy="904.7" r="3.2" fill="#800080"/>
<circle cx="374.7" cy="1190.1" r="3.2" fill="#DD6400"/>
<circle cx="394.2" cy="1190.1" r="3.2" fill="#DD6400"/>
<circle cx="447.9" cy="1142.4" r="3.2" fill="#0000FF"/>
<circle cx="402.6" cy="1174.1" r="3.2" fill="#DD6400"/>
<circle cx="390.4" cy="1206.9" r="3.2" fill="#DD6400"/>
<circle cx="427.3" cy="1156.3" r="3.2" fill="#0000FF"/>
<circle cx="390.0" cy="1208.2" r="3.2" fill="#0000FF"/>
<circle cx="427.5" cy="1194.5" r="3.2" fill="#DD6400"/>
<circle cx="568.8" cy="928.0" r="3.2" fill="#800080"/>
<circle cx="566.3" cy="922.2" r="3.2" fill="#800080"/>
<circle cx="376.7" cy="1206.5" r="3.2" fill="#DD6400"/>
<circle cx="368.8" cy="1217.7" r="3.2" fill="#DD6400"/>
<circle cx="432.6" cy="1188.4" r="3.2" fill="#DD6400"/>
<circle cx="559.6" cy="905.8" r="3.2" fill="#800080"/>
<circle cx="372.6" cy="1218.3" r="3.2" fill="#DD6400"/>
<circle cx="467.8" cy="1105.5" r="3.2" fill="#006400"/>
<circle cx="433.9" cy="1117.2" r="3.2" fill="#0000FF"/>
<circle cx="454.1" cy="1136.6" r="3.2" fill="#006400"/>
<circle cx="454.3" cy="1105.9" r="3.2" fill="#006400"/>
<circle cx="376.4" cy="1216.5" r="3.2" fill="#DD6400"/>
<circle cx="556.0" cy="905.1" r="3.2" fill="#800080"/>
<circle cx="559.4" cy="925.3" r="3.2" fill="#800080"/>
<circle cx="441.6" cy="1116.0" r="3.2" fill="#0000FF"/>
<circle cx="429.3" cy="1201.7" r="3.2" fill="#DD6400"/>
<circle cx="374.0" cy="1178.8" r="3.2" fill="#DD6400"/>
<circle cx="379.4" cy="1211.6" r="3.2" fill="#DD6400"/>
<circle cx="453.2" cy="1135.2" r="3.2" fill="#0000FF"/>
<circle cx="361.2" cy="1167.7" r="3.2" fill="#DD6400"/>
<circle cx="568.0" cy="894.6" r="3.2" fill="#800080"/>
<circle cx="391.0" cy="1206.4" r="3.2" fill="#DD6400"/>
<circle cx="435.9" cy="1129.0" r="3.2" fill="#0000FF"/>
<circle cx="371.9" cy="1213.8" r="3.2" fill="#DD6400"/>
<circle cx="566.6" cy="929.4" r="3.2" fill="#800080"/>
<circle cx="431.9" cy="1193.4" r="3.2" fill="#DD6400"/>
<circle cx="568.2" cy="883.6" r="3.2" fill="#800080"/>
<circle cx="439.0" cy="1128.8" r="3.2" fill="#0000FF"/>
<circle cx="374.9" cy="1214.7" r="3.2" fill="#DD6400"/>
<circle cx="366.5" cy="1169.3" r="3.2" fill="#DD6400"/>
<circle cx="396.4" cy="1193.6" r="3.2" fill="#DD6400"/>
<circle cx="382.2" cy="1149.2" r="3.2" fill="#DD6400"/>
<circle cx="467.6" cy="1101.9" r="3.2" fill="#006400"/>
<circle cx="437.1" cy="1113.9" r="3.2" fill="#0000FF"/>
<circle cx="403.8" cy="1198.0" r="3.2" fill="#DD6400"/>
<circle cx="442.2" cy="1140.3" r="3.2" fill="#0000FF"/>
<circle cx="362.2" cy="1165.0" r="3.2" fill="#DD6400"/>
<circle cx="425.8" cy="1157.3" r="3.2" fill="#DD6400"/>
<circle cx="551.2" cy="900.3" r="3.2" fill="#800080"/>
<circle cx="376.7" cy="1137.7" r="3.2" fill="#DD6400"/>
<circle cx="366.6" cy="1210.7" r="3.2" fill="#DD6400"/>
<circle cx="561.2" cy="920.2" r="3.2" fill="#800080"/>
<circle cx="438.5" cy="1141.8" r="3.2" fill="#0000FF"/>
<circle cx="399.0" cy="1186.6" r="3.2" fill="#DD6400"/>
<circle cx="435.8" cy="1125.5" r="3.2" fill="#0000FF"/>
<circle cx="570.6" cy="905.6" r="3.2" fill="#800080"/>
<circle cx="424.1" cy="1188.9" r="3.2" fill="#DD6400"/>
<circle cx="373.1" cy="1148.6" r="3.2" fill="#DD6400"/>
<circle cx="368.9" cy="1204.6" r="3.2" fill="#DD6400"/>
<circle cx="552.4" cy="906.9" r="3.2" fill="#800080"/>
<circle cx="358.2" cy="1170.2" r="3.2" fill="#DD6400"/>
<circle cx="374.3" cy="1171.6" r="3.2" fill="#DD6400"/>
<circle cx="425.4" cy="1152.0" r="3.2" fill="#0000FF"/>
<circle cx="398.4" cy="1200.5" r="3.2" fill="#DD6400"/>
<circle cx="374.8" cy="1211.7" r="3.2" fill="#DD6400"/>
<circle cx="392.2" cy="1182.1" r="3.2" fill="#DD6400"/>
<circle cx="562.3" cy="920.2" r="3.2" fill="#800080"/>
<circle cx="372.7" cy="1185.9" r="3.2" fill="#DD6400"/>
<circle cx="563.6" cy="906.2" r="3.2" fill="#800080"/>
<circle cx="438.4" cy="1139.1" r="3.2" fill="#0000FF"/>
<circle cx="372.0" cy="1207.2" r="3.2" fill="#DD6400"/>
<circle cx="368.3" cy="1166.7" r="3.2" fill="#DD6400"/>
<circle cx="456.3" cy="1106.4" r="3.2" fill="#006400"/>
<circle cx="242.1" cy="1003.8" r="3.2" fill="#56B0E6"/>
<circle cx="376.7" cy="1166.7" r="3.2" fill="#DD6400"/>
<circle cx="441.5" cy="1128.0" r="3.2" fill="#0000FF"/>
<circle cx="436.9" cy="1111.3" r="3.2" fill="#0000FF"/>
<circle cx="580.2" cy="903.6" r="3.2" fill="#800080"/>
<circle cx="374.1" cy="1205.6" r="3.2" fill="#DD6400"/>
<circle cx="361.6" cy="1171.3" r="3.2" fill="#DD6400"/>
<circle cx="439.9" cy="1156.6" r="3.2" fill="#0000FF"/>
<circle cx="367.1" cy="1174.1" r="3.2" fill="#DD6400"/>
<circle cx="375.8" cy="1152.9" r="3.2" fill="#DD6400"/>
<circle cx="551.6" cy="907.1" r="3.2" fill="#800080"/>
<circle cx="235.5" cy="1001.3" r="3.2" fill="#56B0E6"/>
<circle cx="399.8" cy="1199.6" r="3.2" fill="#DD6400"/>
<circle cx="567.4" cy="907.0" r="3.2" fill="#800080"/>
<circle cx="401.1" cy="1197.7" r="3.2" fill="#DD6400"/>
<circle cx="556.3" cy="904.2" r="3.2" fill="#800080"/>
<circle cx="567.7" cy="884.6" r="3.2" fill="#800080"/>
<circle cx="564.4" cy="906.5" r="3.2" fill="#800080"/>
<circle cx="561.9" cy="907.0" r="3.2" fill="#800080"/>
<circle cx="445.1" cy="1132.5" r="3.2" fill="#0000FF"/>
<circle cx="374.5" cy="1162.2" r="3.2" fill="#DD6400"/>
<circle cx="432.1" cy="1175.4" r="3.2" fill="#0000FF"/>
<circle cx="360.7" cy="1167.5" r="3.2" fill="#DD6400"/>
<circle cx="562.7" cy="928.6" r="3.2" fill="#800080"/>
<circle cx="570.8" cy="922.5" r="3.2" fill="#800080"/>
<circle cx="568.4" cy="922.7" r="3.2" fill="#800080"/>
<circle cx="425.6" cy="1138.4" r="3.2" fill="#0000FF"/>
<circle cx="233.1" cy="1003.9" r="3.2" fill="#56B0E6"/>
<circle cx="584.5" cy="907.9" r="3.2" fill="#800080"/>
<circle cx="571.3" cy="921.8" r="3.2" fill="#800080"/>
<circle cx="569.6" cy="897.7" r="3.2" fill="#800080"/>
<circle cx="426.0" cy="1143.7" r="3.2" fill="#DD6400"/>
<circle cx="397.2" cy="1198.3" r="3.2" fill="#DD6400"/>
<circle cx="378.9" cy="1177.0" r="3.2" fill="#DD6400"/>
<circle cx="426.0" cy="1200.4" r="3.2" fill="#DD6400"/>
<circle cx="564.1" cy="905.1" r="3.2" fill="#800080"/>
<circle cx="457.4" cy="1123.1" r="3.2" fill="#006400"/>
<circle cx="426.7" cy="1186.7" r="3.2" fill="#DD6400"/>
<circle cx="466.1" cy="1106.9" r="3.2" fill="#006400"/>
<circle cx="430.9" cy="1199.9" r="3.2" fill="#DD6400"/>
<circle cx="441.1" cy="1127.1" r="3.2" fill="#0000FF"/>
<circle cx="394.5" cy="1153.3" r="3.2" fill="#DD6400"/>
<circle cx="378.8" cy="1172.1" r="3.2" fill="#DD6400"/>
<circle cx="570.7" cy="907.3" r="3.2" fill="#800080"/>
<circle cx="433.5" cy="1115.3" r="3.2" fill="#0000FF"/>
<circle cx="462.1" cy="1131.6" r="3.2" fill="#006400"/>
<circle cx="236.9" cy="1004.9" r="3.2" fill="#56B0E6"/>
<circle cx="461.4" cy="1105.1" r="3.2" fill="#006400"/>
<circle cx="384.3" cy="1149.6" r="3.2" fill="#DD6400"/>
<circle cx="434.9" cy="1177.0" r="3.2" fill="#DD6400"/>
<circle cx="355.5" cy="1170.4" r="3.2" fill="#DD6400"/>
<circle cx="570.2" cy="904.1" r="3.2" fill="#800080"/>
<circle cx="553.0" cy="905.7" r="3.2" fill="#800080"/>
<circle cx="390.4" cy="1189.5" r="3.2" fill="#DD6400"/>
<circle cx="558.0" cy="901.2" r="3.2" fill="#800080"/>
<circle cx="447.8" cy="1127.5" r="3.2" fill="#006400"/>
<circle cx="428.9" cy="1160.6" r="3.2" fill="#0000FF"/>
<circle cx="456.0" cy="1134.7" r="3.2" fill="#006400"/>
<circle cx="424.9" cy="1143.3" r="3.2" fill="#0000FF"/>
<circle cx="573.0" cy="924.5" r="3.2" fill="#800080"/>
<circle cx="377.9" cy="1145.2" r="3.2" fill="#DD6400"/>
<circle cx="393.3" cy="1192.2" r="3.2" fill="#DD6400"/>
<circle cx="562.1" cy="918.3" r="3.2" fill="#800080"/>
<circle cx="458.0" cy="1108.2" r="3.2" fill="#006400"/>
<circle cx="423.7" cy="1197.7" r="3.2" fill="#DD6400"/>
<circle cx="381.4" cy="1152.3" r="3.2" fill="#DD6400"/>
<circle cx="552.0" cy="908.5" r="3.2" fill="#800080"/>
<circle cx="373.7" cy="1206.0" r="3.2" fill="#DD6400"/>
<circle cx="427.8" cy="1138.7" r="3.2" fill="#0000FF"/>
<circle cx="551.4" cy="914.9" r="3.2" fill="#800080"/>
<circle cx="463.9" cy="1109.5" r="3.2" fill="#006400"/>
<circle cx="376.4" cy="1149.4" r="3.2" fill="#DD6400"/>
<circle cx="425.7" cy="1140.0" r="3.2" fill="#DD6400"/>
<circle cx="441.7" cy="1129.3" r="3.2" fill="#0000FF"/>
<circle cx="564.5" cy="892.8" r="3.2" fill="#800080"/>
<circle cx="415.4" cy="1173.3" r="3.2" fill="#DD6400"/>
<circle cx="369.5" cy="1208.6" r="3.2" fill="#DD6400"/>
<circle cx="379.7" cy="1142.9" r="3.2" fill="#DD6400"/>
<circle cx="375.1" cy="1210.5" r="3.2" fill="#DD6400"/>
<circle cx="568.9" cy="885.3" r="3.2" fill="#800080"/>
<circle cx="448.4" cy="1129.9" r="3.2" fill="#006400"/>
<circle cx="441.6" cy="1108.3" r="3.2" fill="#006400"/>
<circle cx="581.3" cy="905.2" r="3.2" fill="#800080"/>
<circle cx="424.0" cy="1195.2" r="3.2" fill="#DD6400"/>
<circle cx="376.1" cy="1210.5" r="3.2" fill="#DD6400"/>
<circle cx="422.1" cy="1199.3" r="3.2" fill="#DD6400"/>
<circle cx="457.8" cy="1121.4" r="3.2" fill="#006400"/>
<circle cx="568.6" cy="894.1" r="3.2" fill="#800080"/>
<circle cx="366.9" cy="1173.8" r="3.2" fill="#DD6400"/>
<circle cx="242.8" cy="1005.4" r="3.2" fill="#56B0E6"/>
<circle cx="430.2" cy="1190.4" r="3.2" fill="#DD6400"/>
<circle cx="232.1" cy="1003.2" r="3.2" fill="#56B0E6"/>
<circle cx="558.9" cy="909.1" r="3.2" fill="#800080"/>
<circle cx="585.2" cy="907.6" r="3.2" fill="#800080"/>
<circle cx="385.8" cy="1142.6" r="3.2" fill="#DD6400"/>
<circle cx="428.1" cy="1173.6" r="3.2" fill="#0000FF"/>
<circle cx="366.0" cy="1208.3" r="3.2" fill="#DD6400"/>
<circle cx="365.2" cy="1167.5" r="3.2" fill="#DD6400"/>
<circle cx="562.5" cy="924.3" r="3.2" fill="#800080"/>
<circle cx="421.8" cy="1196.5" r="3.2" fill="#DD6400"/>
<circle cx="452.1" cy="1104.4" r="3.2" fill="#006400"/>
<circle cx="376.5" cy="1213.9" r="3.2" fill="#DD6400"/>
<circle cx="383.4" cy="1140.3" r="3.2" fill="#DD6400"/>
<circle cx="561.5" cy="921.9" r="3.2" fill="#800080"/>
<circle cx="379.5" cy="1205.0" r="3.2" fill="#DD6400"/>
<circle cx="424.9" cy="1158.7" r="3.2" fill="#DD6400"/>
<circle cx="453.4" cy="1124.9" r="3.2" fill="#006400"/>
<circle cx="393.1" cy="1182.6" r="3.2" fill="#DD6400"/>
<circle cx="429.2" cy="1125.9" r="3.2" fill="#0000FF"/>
<circle cx="381.5" cy="1142.8" r="3.2" fill="#DD6400"/>
<circle cx="569.2" cy="903.5" r="3.2" fill="#800080"/>
<circle cx="428.2" cy="1192.3" r="3.2" fill="#DD6400"/>
<circle cx="448.2" cy="1125.0" r="3.2" fill="#006400"/>
<circle cx="564.1" cy="919.1" r="3.2" fill="#800080"/>
<circle cx="431.0" cy="1201.3" r="3.2" fill="#DD6400"/>
<circle cx="373.3" cy="1217.1" r="3.2" fill="#DD6400"/>
<circle cx="427.2" cy="1171.6" r="3.2" fill="#0000FF"/>
<circle cx="428.0" cy="1159.0" r="3.2" fill="#0000FF"/>
<circle cx="448.1" cy="1125.2" r="3.2" fill="#006400"/>
<circle cx="423.9" cy="1155.4" r="3.2" fill="#DD6400"/>
<circle cx="443.2" cy="1109.2" r="3.2" fill="#006400"/>
<circle cx="567.3" cy="906.7" r="3.2" fill="#800080"/>
<circle cx="452.4" cy="1103.0" r="3.2" fill="#006400"/>
<circle cx="467.1" cy="1108.0" r="3.2" fill="#006400"/>
<circle cx="428.2" cy="1154.1" r="3.2" fill="#0000FF"/>
<circle cx="568.2" cy="923.0" r="3.2" fill="#800080"/>
<circle cx="561.0" cy="921.5" r="3.2" fill="#800080"/>
<circle cx="378.9" cy="1208.1" r="3.2" fill="#DD6400"/>
<circle cx="558.0" cy="897.5" r="3.2" fill="#800080"/>
<circle cx="580.6" cy="910.1" r="3.2" fill="#800080"/>
<circle cx="237.4" cy="1008.0" r="3.2" fill="#56B0E6"/>
<circle cx="375.3" cy="1209.7" r="3.2" fill="#DD6400"/>
<circle cx="563.9" cy="921.9" r="3.2" fill="#800080"/>
<circle cx="550.1" cy="914.6" r="3.2" fill="#800080"/>
<circle cx="571.4" cy="910.1" r="3.2" fill="#800080"/>
<circle cx="371.7" cy="1208.3" r="3.2" fill="#DD6400"/>
<circle cx="567.9" cy="905.2" r="3.2" fill="#800080"/>
<circle cx="241.8" cy="1003.2" r="3.2" fill="#56B0E6"/>
<circle cx="563.4" cy="891.9" r="3.2" fill="#800080"/>
<circle cx="559.8" cy="923.6" r="3.2" fill="#800080"/>
<circle cx="431.7" cy="1158.7" r="3.2" fill="#0000FF"/>
<circle cx="377.1" cy="1201.0" r="3.2" fill="#DD6400"/>
<circle cx="240.9" cy="1001.5" r="3.2" fill="#56B0E6"/>
<circle cx="454.3" cy="1106.2" r="3.2" fill="#006400"/>
<circle cx="450.2" cy="1146.7" r="3.2" fill="#0000FF"/>
<circle cx="552.5" cy="898.2" r="3.2" fill="#800080"/>
<circle cx="577.8" cy="905.6" r="3.2" fill="#800080"/>
<circle cx="576.1" cy="901.7" r="3.2" fill="#800080"/>
<circle cx="410.8" cy="1164.1" r="3.2" fill="#0000FF"/>
<circle cx="375.7" cy="1203.3" r="3.2" fill="#DD6400"/>
<circle cx="448.3" cy="1142.5" r="3.2" fill="#0000FF"/>
<circle cx="236.5" cy="1001.0" r="3.2" fill="#56B0E6"/>
<circle cx="575.4" cy="901.8" r="3.2" fill="#800080"/>
<circle cx="431.5" cy="1126.5" r="3.2" fill="#0000FF"/>
<circle cx="559.1" cy="898.3" r="3.2" fill="#800080"/>
<circle cx="551.3" cy="906.4" r="3.2" fill="#800080"/>
<circle cx="425.0" cy="1139.8" r="3.2" fill="#DD6400"/>
<circle cx="368.7" cy="1207.9" r="3.2" fill="#DD6400"/>
<circle cx="421.2" cy="1179.9" r="3.2" fill="#DD6400"/>
<circle cx="550.0" cy="901.3" r="3.2" fill="#800080"/>
<circle cx="233.4" cy="1001.8" r="3.2" fill="#56B0E6"/>
<circle cx="550.4" cy="914.0" r="3.2" fill="#800080"/>
<circle cx="242.7" cy="1003.6" r="3.2" fill="#56B0E6"/>
<circle cx="376.5" cy="1217.2" r="3.2" fill="#DD6400"/>
<circle cx="439.9" cy="1132.9" r="3.2" fill="#0000FF"/>
<circle cx="426.4" cy="1185.7" r="3.2" fill="#DD6400"/>
<circle cx="439.2" cy="1130.5" r="3.2" fill="#0000FF"/>
<circle cx="239.7" cy="1002.3" r="3.2" fill="#56B0E6"/>
<circle cx="383.2" cy="1145.2" r="3.2" fill="#DD6400"/>
<circle cx="451.3" cy="1148.0" r="3.2" fill="#0000FF"/>
<circle cx="395.4" cy="1154.1" r="3.2" fill="#DD6400"/>
<circle cx="403.2" cy="1196.8" r="3.2" fill="#DD6400"/>
<circle cx="567.6" cy="927.4" r="3.2" fill="#800080"/>
<circle cx="369.2" cy="1172.1" r="3.2" fill="#DD6400"/>
<circle cx="567.3" cy="922.5" r="3.2" fill="#800080"/>
<circle cx="425.8" cy="1152.5" r="3.2" fill="#0000FF"/>
<circle cx="440.4" cy="1138.4" r="3.2" fill="#0000FF"/>
<circle cx="466.0" cy="1098.0" r="3.2" fill="#006400"/>
<circle cx="436.5" cy="1126.5" r="3.2" fill="#0000FF"/>
<circle cx="370.4" cy="1175.9" r="3.2" fill="#DD6400"/>
<circle cx="556.9" cy="908.9" r="3.2" fill="#800080"/>
<circle cx="392.4" cy="1187.4" r="3.2" fill="#DD6400"/>
<circle cx="451.4" cy="1133.1" r="3.2" fill="#006400"/>
<circle cx="237.3" cy="1006.8" r="3.2" fill="#56B0E6"/>
<circle cx="430.2" cy="1121.5" r="3.2" fill="#0000FF"/>
<circle cx="382.3" cy="1207.0" r="3.2" fill="#DD6400"/>
<circle cx="373.9" cy="1209.2" r="3.2" fill="#DD6400"/>
<circle cx="371.0" cy="1173.8" r="3.2" fill="#DD6400"/>
<circle cx="383.8" cy="1207.8" r="3.2" fill="#DD6400"/>
<circle cx="409.7" cy="1167.3" r="3.2" fill="#DD6400"/>
<circle cx="455.9" cy="1100.4" r="3.2" fill="#006400"/>
<circle cx="363.8" cy="1166.8" r="3.2" fill="#DD6400"/>
<circle cx="569.3" cy="912.6" r="3.2" fill="#800080"/>
<circle cx="386.1" cy="1199.5" r="3.2" fill="#DD6400"/>
<circle cx="406.0" cy="1193.9" r="3.2" fill="#DD6400"/>
<circle cx="382.4" cy="1197.1" r="3.2" fill="#DD6400"/>
<circle cx="550.4" cy="915.9" r="3.2" fill="#800080"/>
<circle cx="462.8" cy="1107.3" r="3.2" fill="#006400"/>
<circle cx="566.5" cy="919.4" r="3.2" fill="#800080"/>
<circle cx="373.3" cy="1205.4" r="3.2" fill="#DD6400"/>
<circle cx="394.4" cy="1182.7" r="3.2" fill="#DD6400"/>
<circle cx="384.6" cy="1141.0" r="3.2" fill="#DD6400"/>
<circle cx="430.6" cy="1201.9" r="3.2" fill="#DD6400"/>
<circle cx="564.2" cy="904.9" r="3.2" fill="#800080"/>
<circle cx="581.9" cy="907.3" r="3.2" fill="#800080"/>
<circle cx="550.6" cy="915.6" r="3.2" fill="#800080"/>
<circle cx="423.3" cy="1175.8" r="3.2" fill="#DD6400"/>
<circle cx="420.8" cy="1173.3" r="3.2" fill="#0000FF"/>
<circle cx="552.2" cy="906.7" r="3.2" fill="#800080"/>
<circle cx="233.1" cy="1006.7" r="3.2" fill="#56B0E6"/>
<circle cx="566.8" cy="923.6" r="3.2" fill="#800080"/>
<circle cx="380.9" cy="1212.6" r="3.2" fill="#DD6400"/>
<circle cx="439.5" cy="1125.9" r="3.2" fill="#0000FF"/>
<circle cx="375.4" cy="1176.1" r="3.2" fill="#DD6400"/>
<circle cx="431.7" cy="1190.0" r="3.2" fill="#DD6400"/>
<circle cx="460.4" cy="1137.0" r="3.2" fill="#006400"/>
<circle cx="434.3" cy="1139.0" r="3.2" fill="#0000FF"/>
<circle cx="395.6" cy="1186.9" r="3.2" fill="#DD6400"/>
<circle cx="376.8" cy="1215.4" r="3.2" fill="#DD6400"/>
<circle cx="560.8" cy="903.7" r="3.2" fill="#800080"/>
<circle cx="375.2" cy="1216.9" r="3.2" fill="#DD6400"/>
<circle cx="557.0" cy="904.5" r="3.2" fill="#800080"/>
<circle cx="446.3" cy="1134.2" r="3.2" fill="#0000FF"/>
<circle cx="448.4" cy="1148.7" r="3.2" fill="#0000FF"/>
<circle cx="463.2" cy="1103.3" r="3.2" fill="#006400"/>
<circle cx="377.2" cy="1217.2" r="3.2" fill="#DD6400"/>
<circle cx="455.6" cy="1140.4" r="3.2" fill="#0000FF"/>
<circle cx="440.1" cy="1127.6" r="3.2" fill="#0000FF"/>
<circle cx="443.5" cy="1132.5" r="3.2" fill="#0000FF"/>
<circle cx="571.6" cy="910.3" r="3.2" fill="#800080"/>
<circle cx="235.7" cy="1005.2" r="3.2" fill="#56B0E6"/>
<circle cx="449.1" cy="1134.4" r="3.2" fill="#0000FF"/>
<circle cx="429.1" cy="1137.0" r="3.2" fill="#0000FF"/>
<circle cx="568.7" cy="883.7" r="3.2" fill="#800080"/>
<circle cx="569.9" cy="908.2" r="3.2" fill="#800080"/>
<circle cx="558.3" cy="897.9" r="3.2" fill="#800080"/>
<circle cx="424.7" cy="1159.5" r="3.2" fill="#DD6400"/>
<circle cx="454.0" cy="1107.5" r="3.2" fill="#006400"/>
<circle cx="436.2" cy="1194.0" r="3.2" fill="#DD6400"/>
<circle cx="569.5" cy="884.2" r="3.2" fill="#800080"/>
<circle cx="427.4" cy="1123.6" r="3.2" fill="#0000FF"/>
<circle cx="419.6" cy="1192.2" r="3.2" fill="#DD6400"/>
<circle cx="557.3" cy="906.4" r="3.2" fill="#800080"/>
<circle cx="450.6" cy="1125.2" r="3.2" fill="#006400"/>
<circle cx="381.2" cy="1148.0" r="3.2" fill="#DD6400"/>
<circle cx="566.8" cy="922.4" r="3.2" fill="#800080"/>
<circle cx="389.8" cy="1199.5" r="3.2" fill="#DD6400"/>
<circle cx="569.5" cy="896.9" r="3.2" fill="#800080"/>
<circle cx="454.2" cy="1138.5" r="3.2" fill="#0000FF"/>
<circle cx="428.1" cy="1138.7" r="3.2" fill="#DD6400"/>
<circle cx="240.6" cy="1007.7" r="3.2" fill="#56B0E6"/>
<circle cx="423.3" cy="1186.1" r="3.2" fill="#DD6400"/>
<circle cx="454.8" cy="1125.0" r="3.2" fill="#006400"/>
<circle cx="423.0" cy="1187.3" r="3.2" fill="#DD6400"/>
<circle cx="564.9" cy="892.2" r="3.2" fill="#800080"/>
<circle cx="236.7" cy="1001.8" r="3.2" fill="#56B0E6"/>
<circle cx="580.4" cy="904.0" r="3.2" fill="#800080"/>
<circle cx="443.2" cy="1143.4" r="3.2" fill="#0000FF"/>
<circle cx="394.1" cy="1179.7" r="3.2" fill="#DD6400"/>
<circle cx="358.9" cy="1168.1" r="3.2" fill="#DD6400"/>
<circle cx="562.8" cy="893.0" r="3.2" fill="#800080"/>
<circle cx="571.6" cy="921.3" r="3.2" fill="#800080"/>
<circle cx="235.2" cy="1003.4" r="3.2" fill="#56B0E6"/>
<circle cx="432.9" cy="1139.9" r="3.2" fill="#0000FF"/>
</g>
<text x="408" y="1320" text-anchor="middle">UMAP 1</text>
<text transform="translate(137.8,1053) rotate(-90)" text-anchor="middle">UMAP 2</text>
<rect x="929.5" y="865.8" width="419.3" height="369.9" fill="#EBEBEB"/>
<line x1="1021.4" x2="1021.4" y1="865.8" y2="1235.7" stroke="#F5F5F5" stroke-width="1"/>
<line x1="1121.4" x2="1121.4" y1="865.8" y2="1235.7" stroke="#F5F5F5" stroke-width="1"/>
<line x1="1221.4" x2="1221.4" y1="865.8" y2="1235.7" stroke="#F5F5F5" stroke-width="1"/>
<line x1="1321.4" x2="1321.4" y1="865.8" y2="1235.7" stroke="#F5F5F5" stroke-width="1"/>
<line x1="929.5" x2="1348.8" y1="907.0" y2="907.0" stroke="#F5F5F5" stroke-width="1"/>
<line x1="929.5" x2="1348.8" y1="981.6" y2="981.6" stroke="#F5F5F5" stroke-width="1"/>
<line x1="929.5" x2="1348.8" y1="1056.2" y2="1056.2" stroke="#F5F5F5" stroke-width="1"/>
<line x1="929.5" x2="1348.8" y1="1130.8" y2="1130.8" stroke="#F5F5F5" stroke-width="1"/>
<line x1="929.5" x2="1348.8" y1="1205.4" y2="1205.4" stroke="#F5F5F5" stroke-width="1"/>
<line x1="971.4" x2="971.4" y1="865.8" y2="1235.7" stroke="#FFFFFF" stroke-width="1.8"/>
<line x1="971.4" x2="971.4" y1="1235.7" y2="1245.7" stroke="#666" stroke-width="1.8"/>
<text x="971.4" y="1279.7" text-anchor="middle">−10</text>
<line x1="1071.4" x2="1071.4" y1="865.8" y2="1235.7" stroke="#FFFFFF" stroke-width="1.8"/>
<line x1="1071.4" x2="1071.4" y1="1235.7" y2="1245.7" stroke="#666" stroke-width="1.8"/>
<text x="1071.4" y="1279.7" text-anchor="middle">−5</text>
<line x1="1171.4" x2="1171.4" y1="865.8" y2="1235.7" stroke="#FFFFFF" stroke-width="1.8"/>
<line x1="1171.4" x2="1171.4" y1="1235.7" y2="1245.7" stroke="#666" stroke-width="1.8"/>
<text x="1171.4" y="1279.7" text-anchor="middle">0</text>
<line x1="1271.4" x2="1271.4" y1="865.8" y2="1235.7" stroke="#FFFFFF" stroke-width="1.8"/>
<line x1="1271.4" x2="1271.4" y1="1235.7" y2="1245.7" stroke="#666" stroke-width="1.8"/>
<text x="1271.4" y="1279.7" text-anchor="middle">5</text>
<line x1="929.5" x2="1348.8" y1="869.7" y2="869.7" stroke="#FFFFFF" stroke-width="1.8"/>
<line x1="919.5" x2="929.5" y1="869.7" y2="869.7" stroke="#666" stroke-width="1.8"/>
<text x="908.0" y="879.2" text-anchor="end">12</text>
<line x1="929.5" x2="1348.8" y1="944.3" y2="944.3" stroke="#FFFFFF" stroke-width="1.8"/>
<line x1="919.5" x2="929.5" y1="944.3" y2="944.3" stroke="#666" stroke-width="1.8"/>
<text x="908.0" y="953.8" text-anchor="end">8</text>
<line x1="929.5" x2="1348.8" y1="1018.9" y2="1018.9" stroke="#FFFFFF" stroke-width="1.8"/>
<line x1="919.5" x2="929.5" y1="1018.9" y2="1018.9" stroke="#666" stroke-width="1.8"/>
<text x="908.0" y="1028.4" text-anchor="end">4</text>
<line x1="929.5" x2="1348.8" y1="1093.5" y2="1093.5" stroke="#FFFFFF" stroke-width="1.8"/>
<line x1="919.5" x2="929.5" y1="1093.5" y2="1093.5" stroke="#666" stroke-width="1.8"/>
<text x="908.0" y="1103.0" text-anchor="end">0</text>
<line x1="929.5" x2="1348.8" y1="1168.1" y2="1168.1" stroke="#FFFFFF" stroke-width="1.8"/>
<line x1="919.5" x2="929.5" y1="1168.1" y2="1168.1" stroke="#666" stroke-width="1.8"/>
<text x="908.0" y="1177.6" text-anchor="end">−4</text>
<g>
<circle cx="1161.4" cy="1195.9" r="2.9" fill="#FFFF00"/>
<circle cx="1099.8" cy="1168.4" r="2.9" fill="#FFFF00"/>
<circle cx="1307.7" cy="929.1" r="2.9" fill="#FFFF00"/>
<circle cx="1172.2" cy="1125.6" r="2.9" fill="#00FF00"/>
<circle cx="1163.2" cy="1201.6" r="2.9" fill="#00FF00"/>
<circle cx="1293.5" cy="901.5" r="2.9" fill="#FFFF00"/>
<circle cx="1103.3" cy="1216.5" r="2.9" fill="#FFFF00"/>
<circle cx="1087.9" cy="1167.5" r="2.9" fill="#00FF00"/>
<circle cx="1102.3" cy="1186.5" r="2.9" fill="#FFFF00"/>
<circle cx="1102.7" cy="1178.1" r="2.9" fill="#FFFF00"/>
<circle cx="1105.7" cy="1214.3" r="2.9" fill="#FFFF00"/>
<circle cx="1174.8" cy="1128.3" r="2.9" fill="#00FF00"/>
<circle cx="1163.2" cy="1184.1" r="2.9" fill="#00FF00"/>
<circle cx="1082.1" cy="1167.7" r="2.9" fill="#FFFF00"/>
<circle cx="1296.5" cy="906.7" r="2.9" fill="#00FF00"/>
<circle cx="1188.9" cy="1125.3" r="2.9" fill="#00FF00"/>
<circle cx="1297.2" cy="906.1" r="2.9" fill="#00FF00"/>
<circle cx="1201.7" cy="1110.5" r="2.9" fill="#00FF00"/>
<circle cx="1165.0" cy="1114.5" r="2.9" fill="#00FF00"/>
<circle cx="1099.2" cy="1174.8" r="2.9" fill="#FFFF00"/>
<circle cx="1100.9" cy="1185.0" r="2.9" fill="#FFFF00"/>
<circle cx="1107.6" cy="1143.1" r="2.9" fill="#FFFF00"/>
<circle cx="1093.6" cy="1173.1" r="2.9" fill="#FFFF00"/>
<circle cx="1176.8" cy="1130.8" r="2.9" fill="#00FF00"/>
<circle cx="1311.5" cy="913.1" r="2.9" fill="#00FF00"/>
<circle cx="1157.2" cy="1128.5" r="2.9" fill="#00FF00"/>
<circle cx="1085.5" cy="1168.2" r="2.9" fill="#FFFF00"/>
<circle cx="1123.4" cy="1194.5" r="2.9" fill="#FFFF00"/>
<circle cx="1184.9" cy="1132.0" r="2.9" fill="#00FF00"/>
<circle cx="1089.8" cy="1167.2" r="2.9" fill="#FFFF00"/>
<circle cx="1108.0" cy="1205.8" r="2.9" fill="#FFFF00"/>
<circle cx="1310.9" cy="920.3" r="2.9" fill="#FFFF00"/>
<circle cx="1106.3" cy="1166.7" r="2.9" fill="#00FF00"/>
<circle cx="1121.4" cy="1179.0" r="2.9" fill="#00FF00"/>
<circle cx="1103.6" cy="1212.4" r="2.9" fill="#FFFF00"/>
<circle cx="1196.2" cy="1102.0" r="2.9" fill="#00FF00"/>
<circle cx="1307.7" cy="909.6" r="2.9" fill="#00FF00"/>
<circle cx="1127.4" cy="1197.1" r="2.9" fill="#FFFF00"/>
<circle cx="1171.0" cy="1122.9" r="2.9" fill="#00FF00"/>
<circle cx="1160.4" cy="1198.7" r="2.9" fill="#FFFF00"/>
<circle cx="1105.8" cy="1215.2" r="2.9" fill="#FFFF00"/>
<circle cx="1091.9" cy="1169.7" r="2.9" fill="#FFFF00"/>
<circle cx="1158.9" cy="1126.0" r="2.9" fill="#00FF00"/>
<circle cx="1104.5" cy="1182.2" r="2.9" fill="#FFFF00"/>
<circle cx="1295.7" cy="902.2" r="2.9" fill="#00FF00"/>
<circle cx="1090.5" cy="1204.3" r="2.9" fill="#FFFF00"/>
<circle cx="1132.8" cy="1198.0" r="2.9" fill="#FFFF00"/>
<circle cx="1295.7" cy="899.8" r="2.9" fill="#FFFF00"/>
<circle cx="1101.2" cy="1169.5" r="2.9" fill="#FFFF00"/>
<circle cx="1165.9" cy="1126.3" r="2.9" fill="#00FF00"/>
<circle cx="1293.1" cy="908.5" r="2.9" fill="#FFFF00"/>
<circle cx="1201.6" cy="1103.5" r="2.9" fill="#00FF00"/>
<circle cx="1160.8" cy="1168.7" r="2.9" fill="#00FF00"/>
<circle cx="1305.6" cy="926.8" r="2.9" fill="#FFFF00"/>
<circle cx="1317.4" cy="899.6" r="2.9" fill="#FFFF00"/>
<circle cx="1159.5" cy="1123.3" r="2.9" fill="#00FF00"/>
<circle cx="1305.0" cy="917.3" r="2.9" fill="#00FF00"/>
<circle cx="1156.3" cy="1191.3" r="2.9" fill="#FFFF00"/>
<circle cx="1306.3" cy="913.5" r="2.9" fill="#FFFF00"/>
<circle cx="1083.7" cy="1164.4" r="2.9" fill="#FFFF00"/>
<circle cx="1193.0" cy="1102.9" r="2.9" fill="#00FF00"/>
<circle cx="1091.7" cy="1206.8" r="2.9" fill="#FFFF00"/>
<circle cx="1303.2" cy="922.8" r="2.9" fill="#FFFF00"/>
<circle cx="1102.5" cy="1144.1" r="2.9" fill="#FFFF00"/>
<circle cx="1311.7" cy="895.2" r="2.9" fill="#00FF00"/>
<circle cx="1089.8" cy="1169.5" r="2.9" fill="#FFFF00"/>
<circle cx="1189.4" cy="1109.9" r="2.9" fill="#00FF00"/>
<circle cx="1157.4" cy="1200.4" r="2.9" fill="#FFFF00"/>
<circle cx="1327.4" cy="906.2" r="2.9" fill="#FFFF00"/>
<circle cx="1326.5" cy="908.4" r="2.9" fill="#FFFF00"/>
<circle cx="1126.5" cy="1146.1" r="2.9" fill="#00FF00"/>
<circle cx="1316.8" cy="900.7" r="2.9" fill="#00FF00"/>
<circle cx="1102.2" cy="1205.9" r="2.9" fill="#FFFF00"/>
<circle cx="1102.7" cy="1204.0" r="2.9" fill="#FFFF00"/>
<circle cx="1291.3" cy="900.1" r="2.9" fill="#FFFF00"/>
<circle cx="1126.5" cy="1164.8" r="2.9" fill="#FFFF00"/>
<circle cx="1104.1" cy="1182.2" r="2.9" fill="#00FF00"/>
<circle cx="1191.8" cy="1100.9" r="2.9" fill="#00FF00"/>
<circle cx="953.1" cy="1005.0" r="2.9" fill="#00FF00"/>
<circle cx="1185.1" cy="1139.8" r="2.9" fill="#00FF00"/>
<circle cx="1156.6" cy="1188.4" r="2.9" fill="#FFFF00"/>
<circle cx="1329.8" cy="923.7" r="2.9" fill="#FFFF00"/>
<circle cx="1298.9" cy="904.2" r="2.9" fill="#FFFF00"/>
<circle cx="1186.8" cy="1135.7" r="2.9" fill="#00FF00"/>
<circle cx="955.7" cy="1003.2" r="2.9" fill="#FFFF00"/>
<circle cx="958.3" cy="1003.9" r="2.9" fill="#00FF00"/>
<circle cx="957.6" cy="1002.6" r="2.9" fill="#FFFF00"/>
<circle cx="1098.9" cy="1208.9" r="2.9" fill="#FFFF00"/>
<circle cx="1169.8" cy="1128.4" r="2.9" fill="#FFFF00"/>
<circle cx="1291.3" cy="899.6" r="2.9" fill="#00FF00"/>
<circle cx="1158.9" cy="1137.4" r="2.9" fill="#00FF00"/>
<circle cx="1324.2" cy="902.1" r="2.9" fill="#FFFF00"/>
<circle cx="1164.4" cy="1196.5" r="2.9" fill="#00FF00"/>
<circle cx="1154.7" cy="1190.9" r="2.9" fill="#00FF00"/>
<circle cx="960.2" cy="1002.1" r="2.9" fill="#FFFF00"/>
<circle cx="952.5" cy="1003.2" r="2.9" fill="#FFFF00"/>
<circle cx="1101.1" cy="1207.9" r="2.9" fill="#FFFF00"/>
<circle cx="1103.0" cy="1165.9" r="2.9" fill="#FFFF00"/>
<circle cx="1101.1" cy="1202.0" r="2.9" fill="#FFFF00"/>
<circle cx="1105.4" cy="1147.6" r="2.9" fill="#00FF00"/>
<circle cx="1193.9" cy="1102.5" r="2.9" fill="#00FF00"/>
<circle cx="1198.0" cy="1104.3" r="2.9" fill="#00FF00"/>
<circle cx="1200.5" cy="1104.3" r="2.9" fill="#00FF00"/>
<circle cx="1160.6" cy="1178.8" r="2.9" fill="#00FF00"/>
<circle cx="1099.1" cy="1212.4" r="2.9" fill="#FFFF00"/>
<circle cx="1293.2" cy="895.6" r="2.9" fill="#FFFF00"/>
<circle cx="1296.6" cy="898.2" r="2.9" fill="#FFFF00"/>
<circle cx="1100.2" cy="1200.3" r="2.9" fill="#FFFF00"/>
<circle cx="1294.9" cy="897.9" r="2.9" fill="#FFFF00"/>
<circle cx="1192.0" cy="1103.1" r="2.9" fill="#00FF00"/>
<circle cx="1289.5" cy="903.5" r="2.9" fill="#FFFF00"/>
<circle cx="1166.8" cy="1123.4" r="2.9" fill="#00FF00"/>
<circle cx="1182.8" cy="1143.3" r="2.9" fill="#00FF00"/>
<circle cx="1187.2" cy="1125.5" r="2.9" fill="#00FF00"/>
<circle cx="1110.1" cy="1212.3" r="2.9" fill="#FFFF00"/>
<circle cx="1119.5" cy="1205.3" r="2.9" fill="#00FF00"/>
<circle cx="1106.1" cy="1141.4" r="2.9" fill="#FFFF00"/>
<circle cx="1196.6" cy="1104.9" r="2.9" fill="#00FF00"/>
<circle cx="1106.8" cy="1211.4" r="2.9" fill="#00FF00"/>
<circle cx="1127.8" cy="1177.3" r="2.9" fill="#00FF00"/>
<circle cx="1308.4" cy="924.8" r="2.9" fill="#FFFF00"/>
<circle cx="1158.2" cy="1188.4" r="2.9" fill="#FFFF00"/>
<circle cx="1198.3" cy="1107.4" r="2.9" fill="#00FF00"/>
<circle cx="1168.6" cy="1137.6" r="2.9" fill="#00FF00"/>
<circle cx="1150.2" cy="1190.0" r="2.9" fill="#00FF00"/>
<circle cx="1164.8" cy="1198.4" r="2.9" fill="#00FF00"/>
<circle cx="1174.3" cy="1126.8" r="2.9" fill="#00FF00"/>
<circle cx="1198.1" cy="1109.1" r="2.9" fill="#00FF00"/>
<circle cx="1323.0" cy="907.8" r="2.9" fill="#00FF00"/>
<circle cx="1127.5" cy="1175.9" r="2.9" fill="#00FF00"/>
<circle cx="1128.5" cy="1197.7" r="2.9" fill="#FFFF00"/>
<circle cx="1170.9" cy="1184.1" r="2.9" fill="#00FF00"/>
<circle cx="1307.3" cy="905.2" r="2.9" fill="#00FF00"/>
<circle cx="1156.4" cy="1156.4" r="2.9" fill="#00FF00"/>
<circle cx="1157.9" cy="1140.3" r="2.9" fill="#00FF00"/>
<circle cx="1162.0" cy="1171.5" r="2.9" fill="#00FF00"/>
<circle cx="1307.4" cy="920.3" r="2.9" fill="#00FF00"/>
<circle cx="1131.2" cy="1199.3" r="2.9" fill="#FFFF00"/>
<circle cx="1154.8" cy="1149.6" r="2.9" fill="#00FF00"/>
<circle cx="1156.8" cy="1190.6" r="2.9" fill="#FFFF00"/>
<circle cx="1100.1" cy="1209.1" r="2.9" fill="#FFFF00"/>
<circle cx="1320.3" cy="906.1" r="2.9" fill="#FFFF00"/>
<circle cx="1293.4" cy="895.4" r="2.9" fill="#FFFF00"/>
<circle cx="1309.7" cy="897.5" r="2.9" fill="#FFFF00"/>
<circle cx="1110.1" cy="1144.7" r="2.9" fill="#FFFF00"/>
<circle cx="952.6" cy="1002.8" r="2.9" fill="#FFFF00"/>
<circle cx="1114.5" cy="1209.4" r="2.9" fill="#FFFF00"/>
<circle cx="1289.4" cy="899.5" r="2.9" fill="#00FF00"/>
<circle cx="1313.8" cy="924.0" r="2.9" fill="#FFFF00"/>
<circle cx="1301.0" cy="921.4" r="2.9" fill="#FFFF00"/>
<circle cx="1103.3" cy="1203.6" r="2.9" fill="#FFFF00"/>
<circle cx="1104.2" cy="1207.4" r="2.9" fill="#FFFF00"/>
<circle cx="1288.7" cy="912.9" r="2.9" fill="#FFFF00"/>
<circle cx="1299.5" cy="907.5" r="2.9" fill="#FFFF00"/>
<circle cx="1192.1" cy="1106.0" r="2.9" fill="#00FF00"/>
<circle cx="1290.5" cy="905.8" r="2.9" fill="#FFFF00"/>
<circle cx="1183.7" cy="1134.9" r="2.9" fill="#00FF00"/>
<circle cx="1126.6" cy="1190.9" r="2.9" fill="#FFFF00"/>
<circle cx="1162.7" cy="1164.8" r="2.9" fill="#00FF00"/>
<circle cx="1103.5" cy="1202.7" r="2.9" fill="#FFFF00"/>
<circle cx="1136.7" cy="1198.2" r="2.9" fill="#00FF00"/>
<circle cx="1173.5" cy="1129.8" r="2.9" fill="#00FF00"/>
<circle cx="1153.3" cy="1187.3" r="2.9" fill="#00FF00"/>
<circle cx="1105.7" cy="1212.6" r="2.9" fill="#FFFF00"/>
<circle cx="1196.2" cy="1100.7" r="2.9" fill="#00FF00"/>
<circle cx="1309.2" cy="897.1" r="2.9" fill="#00FF00"/>
<circle cx="1132.0" cy="1172.7" r="2.9" fill="#00FF00"/>
<circle cx="1139.6" cy="1169.2" r="2.9" fill="#00FF00"/>
<circle cx="1170.6" cy="1112.3" r="2.9" fill="#00FF00"/>
<circle cx="1097.3" cy="1200.2" r="2.9" fill="#FFFF00"/>
<circle cx="1100.5" cy="1211.0" r="2.9" fill="#FFFF00"/>
<circle cx="1118.5" cy="1199.1" r="2.9" fill="#00FF00"/>
<circle cx="1131.4" cy="1199.1" r="2.9" fill="#00FF00"/>
<circle cx="1134.9" cy="1201.9" r="2.9" fill="#FFFF00"/>
<circle cx="1172.3" cy="1186.5" r="2.9" fill="#00FF00"/>
<circle cx="1156.0" cy="1155.5" r="2.9" fill="#00FF00"/>
<circle cx="1321.6" cy="902.9" r="2.9" fill="#00FF00"/>
<circle cx="1150.6" cy="1195.1" r="2.9" fill="#FFFF00"/>
<circle cx="1201.2" cy="1110.8" r="2.9" fill="#00FF00"/>
<circle cx="1293.7" cy="904.7" r="2.9" fill="#FFFF00"/>
<circle cx="1112.1" cy="1205.7" r="2.9" fill="#FFFF00"/>
<circle cx="1089.2" cy="1169.5" r="2.9" fill="#00FF00"/>
<circle cx="1133.9" cy="1200.6" r="2.9" fill="#FFFF00"/>
<circle cx="956.3" cy="999.6" r="2.9" fill="#FFFF00"/>
<circle cx="1127.6" cy="1195.7" r="2.9" fill="#FFFF00"/>
<circle cx="1154.2" cy="1192.6" r="2.9" fill="#FFFF00"/>
<circle cx="1308.1" cy="920.0" r="2.9" fill="#FFFF00"/>
<circle cx="1087.6" cy="1168.1" r="2.9" fill="#FFFF00"/>
<circle cx="1301.0" cy="920.9" r="2.9" fill="#FFFF00"/>
<circle cx="1109.4" cy="1210.1" r="2.9" fill="#FFFF00"/>
<circle cx="1101.3" cy="1210.5" r="2.9" fill="#FFFF00"/>
<circle cx="1297.6" cy="896.9" r="2.9" fill="#00FF00"/>
<circle cx="1200.2" cy="1101.3" r="2.9" fill="#00FF00"/>
<circle cx="1324.2" cy="908.1" r="2.9" fill="#00FF00"/>
<circle cx="1158.0" cy="1169.9" r="2.9" fill="#00FF00"/>
<circle cx="1188.3" cy="1109.8" r="2.9" fill="#00FF00"/>
<circle cx="1160.6" cy="1178.6" r="2.9" fill="#00FF00"/>
<circle cx="1109.4" cy="1137.0" r="2.9" fill="#FFFF00"/>
<circle cx="1312.6" cy="918.6" r="2.9" fill="#00FF00"/>
<circle cx="1095.6" cy="1169.8" r="2.9" fill="#FFFF00"/>
<circle cx="1295.7" cy="908.2" r="2.9" fill="#FFFF00"/>
<circle cx="1109.2" cy="1147.6" r="2.9" fill="#FFFF00"/>
<circle cx="1163.0" cy="1120.7" r="2.9" fill="#00FF00"/>
<circle cx="1099.4" cy="1167.5" r="2.9" fill="#FFFF00"/>
<circle cx="1153.6" cy="1199.7" r="2.9" fill="#00FF00"/>
<circle cx="1162.1" cy="1183.4" r="2.9" fill="#FFFF00"/>
<circle cx="1304.0" cy="893.2" r="2.9" fill="#FFFF00"/>
<circle cx="1163.5" cy="1177.1" r="2.9" fill="#00FF00"/>
<circle cx="1305.7" cy="892.8" r="2.9" fill="#FFFF00"/>
<circle cx="1102.8" cy="1143.7" r="2.9" fill="#FFFF00"/>
<circle cx="1293.6" cy="902.1" r="2.9" fill="#00FF00"/>
<circle cx="1305.3" cy="922.5" r="2.9" fill="#FFFF00"/>
<circle cx="1088.5" cy="1166.5" r="2.9" fill="#FFFF00"/>
<circle cx="1164.2" cy="1118.8" r="2.9" fill="#00FF00"/>
<circle cx="1185.5" cy="1139.0" r="2.9" fill="#00FF00"/>
<circle cx="1170.3" cy="1184.0" r="2.9" fill="#00FF00"/>
<circle cx="1302.5" cy="909.0" r="2.9" fill="#FFFF00"/>
<circle cx="1100.0" cy="1168.2" r="2.9" fill="#FFFF00"/>
<circle cx="1309.4" cy="929.1" r="2.9" fill="#FFFF00"/>
<circle cx="1323.5" cy="909.6" r="2.9" fill="#FFFF00"/>
<circle cx="1322.0" cy="908.7" r="2.9" fill="#FFFF00"/>
<circle cx="1309.7" cy="894.0" r="2.9" fill="#FFFF00"/>
<circle cx="1185.5" cy="1125.1" r="2.9" fill="#00FF00"/>
<circle cx="1181.3" cy="1147.0" r="2.9" fill="#00FF00"/>
<circle cx="1099.7" cy="1202.3" r="2.9" fill="#FFFF00"/>
<circle cx="1167.2" cy="1136.5" r="2.9" fill="#00FF00"/>
<circle cx="1100.7" cy="1166.2" r="2.9" fill="#FFFF00"/>
<circle cx="1174.7" cy="1125.1" r="2.9" fill="#00FF00"/>
<circle cx="1180.3" cy="1146.8" r="2.9" fill="#00FF00"/>
<circle cx="1308.9" cy="897.1" r="2.9" fill="#00FF00"/>
<circle cx="1098.3" cy="1212.0" r="2.9" fill="#FFFF00"/>
<circle cx="1112.3" cy="1208.5" r="2.9" fill="#FFFF00"/>
<circle cx="1160.5" cy="1200.1" r="2.9" fill="#00FF00"/>
<circle cx="1103.9" cy="1207.2" r="2.9" fill="#FFFF00"/>
<circle cx="1196.5" cy="1105.7" r="2.9" fill="#00FF00"/>
<circle cx="1311.9" cy="925.4" r="2.9" fill="#FFFF00"/>
<circle cx="1184.1" cy="1128.0" r="2.9" fill="#00FF00"/>
<circle cx="1325.4" cy="906.6" r="2.9" fill="#00FF00"/>
<circle cx="1110.1" cy="1141.8" r="2.9" fill="#FFFF00"/>
<circle cx="1089.9" cy="1204.2" r="2.9" fill="#FFFF00"/>
<circle cx="1155.0" cy="1194.3" r="2.9" fill="#FFFF00"/>
<circle cx="1128.6" cy="1175.8" r="2.9" fill="#00FF00"/>
<circle cx="959.1" cy="1000.5" r="2.9" fill="#00FF00"/>
<circle cx="1161.8" cy="1118.2" r="2.9" fill="#00FF00"/>
<circle cx="1168.5" cy="1125.8" r="2.9" fill="#00FF00"/>
<circle cx="1189.8" cy="1120.1" r="2.9" fill="#00FF00"/>
<circle cx="1307.9" cy="896.0" r="2.9" fill="#FFFF00"/>
<circle cx="1164.8" cy="1189.9" r="2.9" fill="#00FF00"/>
<circle cx="1156.8" cy="1185.2" r="2.9" fill="#FFFF00"/>
<circle cx="1307.7" cy="921.2" r="2.9" fill="#00FF00"/>
<circle cx="1129.9" cy="1193.7" r="2.9" fill="#FFFF00"/>
<circle cx="1132.8" cy="1199.0" r="2.9" fill="#FFFF00"/>
<circle cx="1105.3" cy="1203.7" r="2.9" fill="#FFFF00"/>
<circle cx="1110.0" cy="1147.0" r="2.9" fill="#FFFF00"/>
<circle cx="1182.6" cy="1131.9" r="2.9" fill="#00FF00"/>
<circle cx="1103.7" cy="1181.5" r="2.9" fill="#FFFF00"/>
<circle cx="1134.0" cy="1197.5" r="2.9" fill="#FFFF00"/>
<circle cx="1321.5" cy="908.4" r="2.9" fill="#00FF00"/>
<circle cx="1084.5" cy="1164.0" r="2.9" fill="#FFFF00"/>
<circle cx="1163.8" cy="1115.2" r="2.9" fill="#00FF00"/>
<circle cx="1297.7" cy="908.8" r="2.9" fill="#00FF00"/>
<circle cx="1097.6" cy="1207.6" r="2.9" fill="#FFFF00"/>
<circle cx="1133.4" cy="1199.7" r="2.9" fill="#FFFF00"/>
<circle cx="1304.3" cy="907.2" r="2.9" fill="#00FF00"/>
<circle cx="1106.6" cy="1216.1" r="2.9" fill="#FFFF00"/>
<circle cx="1106.7" cy="1174.4" r="2.9" fill="#FFFF00"/>
<circle cx="1100.2" cy="1200.8" r="2.9" fill="#FFFF00"/>
<circle cx="1158.5" cy="1140.7" r="2.9" fill="#00FF00"/>
<circle cx="1168.6" cy="1188.8" r="2.9" fill="#FFFF00"/>
<circle cx="1324.8" cy="907.2" r="2.9" fill="#00FF00"/>
<circle cx="1301.1" cy="919.3" r="2.9" fill="#FFFF00"/>
<circle cx="955.0" cy="1002.4" r="2.9" fill="#00FF00"/>
<circle cx="1134.4" cy="1168.0" r="2.9" fill="#00FF00"/>
<circle cx="1292.6" cy="906.1" r="2.9" fill="#00FF00"/>
<circle cx="1102.8" cy="1216.0" r="2.9" fill="#FFFF00"/>
<circle cx="1111.0" cy="1196.2" r="2.9" fill="#00FF00"/>
<circle cx="1133.1" cy="1201.0" r="2.9" fill="#FFFF00"/>
<circle cx="1319.7" cy="905.9" r="2.9" fill="#00FF00"/>
<circle cx="1102.9" cy="1198.0" r="2.9" fill="#FFFF00"/>
<circle cx="1107.3" cy="1138.0" r="2.9" fill="#FFFF00"/>
<circle cx="1099.5" cy="1203.9" r="2.9" fill="#FFFF00"/>
<circle cx="1102.4" cy="1146.3" r="2.9" fill="#FFFF00"/>
<circle cx="1102.1" cy="1176.9" r="2.9" fill="#00FF00"/>
<circle cx="1190.3" cy="1104.7" r="2.9" fill="#00FF00"/>
<circle cx="1309.2" cy="919.8" r="2.9" fill="#00FF00"/>
<circle cx="1201.9" cy="1113.3" r="2.9" fill="#00FF00"/>
<circle cx="1097.0" cy="1208.8" r="2.9" fill="#FFFF00"/>
<circle cx="1198.5" cy="1107.7" r="2.9" fill="#00FF00"/>
<circle cx="1196.9" cy="1106.6" r="2.9" fill="#00FF00"/>
<circle cx="1125.6" cy="1145.3" r="2.9" fill="#00FF00"/>
<circle cx="1139.1" cy="1166.0" r="2.9" fill="#00FF00"/>
<circle cx="952.2" cy="1006.6" r="2.9" fill="#FFFF00"/>
<circle cx="1087.9" cy="1167.1" r="2.9" fill="#FFFF00"/>
<circle cx="1177.3" cy="1156.9" r="2.9" fill="#00FF00"/>
<circle cx="1111.6" cy="1196.2" r="2.9" fill="#00FF00"/>
<circle cx="961.4" cy="1004.4" r="2.9" fill="#FFFF00"/>
<circle cx="1320.9" cy="906.6" r="2.9" fill="#00FF00"/>
<circle cx="1172.6" cy="1112.4" r="2.9" fill="#00FF00"/>
<circle cx="1172.8" cy="1129.5" r="2.9" fill="#FFFF00"/>
<circle cx="1183.5" cy="1116.2" r="2.9" fill="#00FF00"/>
<circle cx="1321.7" cy="902.8" r="2.9" fill="#00FF00"/>
<circle cx="1321.9" cy="908.2" r="2.9" fill="#00FF00"/>
<circle cx="1110.9" cy="1216.1" r="2.9" fill="#FFFF00"/>
<circle cx="1193.1" cy="1100.3" r="2.9" fill="#00FF00"/>
<circle cx="1167.0" cy="1181.7" r="2.9" fill="#00FF00"/>
<circle cx="1161.5" cy="1176.8" r="2.9" fill="#00FF00"/>
<circle cx="1290.9" cy="897.9" r="2.9" fill="#00FF00"/>
<circle cx="1166.2" cy="1123.9" r="2.9" fill="#00FF00"/>
<circle cx="961.1" cy="1002.6" r="2.9" fill="#FFFF00"/>
<circle cx="1301.5" cy="922.3" r="2.9" fill="#00FF00"/>
<circle cx="1191.4" cy="1104.4" r="2.9" fill="#00FF00"/>
<circle cx="1104.0" cy="1176.7" r="2.9" fill="#FFFF00"/>
<circle cx="1097.6" cy="1177.4" r="2.9" fill="#FFFF00"/>
<circle cx="1103.1" cy="1208.3" r="2.9" fill="#FFFF00"/>
<circle cx="1086.7" cy="1166.6" r="2.9" fill="#FFFF00"/>
<circle cx="1177.3" cy="1143.4" r="2.9" fill="#00FF00"/>
<circle cx="1141.7" cy="1163.2" r="2.9" fill="#00FF00"/>
<circle cx="1163.1" cy="1182.0" r="2.9" fill="#00FF00"/>
<circle cx="1168.0" cy="1134.1" r="2.9" fill="#00FF00"/>
<circle cx="1160.0" cy="1168.1" r="2.9" fill="#00FF00"/>
<circle cx="1095.2" cy="1207.2" r="2.9" fill="#FFFF00"/>
<circle cx="1136.2" cy="1168.3" r="2.9" fill="#00FF00"/>
<circle cx="1132.1" cy="1194.5" r="2.9" fill="#FFFF00"/>
<circle cx="951.7" cy="1004.9" r="2.9" fill="#FFFF00"/>
<circle cx="1174.1" cy="1127.5" r="2.9" fill="#00FF00"/>
<circle cx="1123.8" cy="1163.1" r="2.9" fill="#FFFF00"/>
<circle cx="1163.9" cy="1195.9" r="2.9" fill="#00FF00"/>
<circle cx="1325.4" cy="908.9" r="2.9" fill="#FFFF00"/>
<circle cx="1105.2" cy="1218.1" r="2.9" fill="#FFFF00"/>
<circle cx="1102.8" cy="1215.7" r="2.9" fill="#FFFF00"/>
<circle cx="1095.6" cy="1200.8" r="2.9" fill="#FFFF00"/>
<circle cx="1297.4" cy="902.8" r="2.9" fill="#00FF00"/>
<circle cx="1172.2" cy="1140.4" r="2.9" fill="#00FF00"/>
<circle cx="1087.3" cy="1168.7" r="2.9" fill="#FFFF00"/>
<circle cx="1162.2" cy="1166.0" r="2.9" fill="#00FF00"/>
<circle cx="1123.9" cy="1184.4" r="2.9" fill="#00FF00"/>
<circle cx="1103.9" cy="1178.7" r="2.9" fill="#FFFF00"/>
<circle cx="1293.9" cy="897.9" r="2.9" fill="#FFFF00"/>
<circle cx="1304.2" cy="905.1" r="2.9" fill="#FFFF00"/>
<circle cx="1289.1" cy="904.2" r="2.9" fill="#FFFF00"/>
<circle cx="1157.9" cy="1151.2" r="2.9" fill="#FFFF00"/>
<circle cx="1159.7" cy="1174.2" r="2.9" fill="#00FF00"/>
<circle cx="1310.0" cy="903.6" r="2.9" fill="#FFFF00"/>
<circle cx="1184.4" cy="1151.1" r="2.9" fill="#00FF00"/>
<circle cx="961.1" cy="1005.8" r="2.9" fill="#FFFF00"/>
<circle cx="1095.6" cy="1202.9" r="2.9" fill="#FFFF00"/>
<circle cx="1163.9" cy="1115.0" r="2.9" fill="#00FF00"/>
<circle cx="1112.9" cy="1197.0" r="2.9" fill="#00FF00"/>
<circle cx="1090.5" cy="1162.5" r="2.9" fill="#FFFF00"/>
<circle cx="1125.4" cy="1185.9" r="2.9" fill="#FFFF00"/>
<circle cx="1126.5" cy="1183.9" r="2.9" fill="#FFFF00"/>
<circle cx="1100.9" cy="1208.7" r="2.9" fill="#FFFF00"/>
<circle cx="1206.5" cy="1105.0" r="2.9" fill="#00FF00"/>
<circle cx="959.1" cy="1002.8" r="2.9" fill="#FFFF00"/>
<circle cx="1190.1" cy="1127.7" r="2.9" fill="#00FF00"/>
<circle cx="1294.5" cy="904.1" r="2.9" fill="#00FF00"/>
<circle cx="1114.5" cy="1195.4" r="2.9" fill="#00FF00"/>
<circle cx="1123.3" cy="1184.6" r="2.9" fill="#FFFF00"/>
<circle cx="1288.8" cy="903.7" r="2.9" fill="#FFFF00"/>
<circle cx="1300.0" cy="920.9" r="2.9" fill="#00FF00"/>
<circle cx="1089.6" cy="1166.5" r="2.9" fill="#00FF00"/>
<circle cx="1103.1" cy="1207.2" r="2.9" fill="#FFFF00"/>
<circle cx="1299.2" cy="900.0" r="2.9" fill="#00FF00"/>
<circle cx="1172.5" cy="1124.1" r="2.9" fill="#FFFF00"/>
<circle cx="1306.5" cy="905.7" r="2.9" fill="#00FF00"/>
<circle cx="1099.7" cy="1167.6" r="2.9" fill="#FFFF00"/>
<circle cx="1105.2" cy="1210.8" r="2.9" fill="#FFFF00"/>
<circle cx="959.6" cy="1003.6" r="2.9" fill="#FFFF00"/>
<circle cx="1199.3" cy="1107.5" r="2.9" fill="#00FF00"/>
<circle cx="1171.9" cy="1125.4" r="2.9" fill="#00FF00"/>
<circle cx="1298.5" cy="897.7" r="2.9" fill="#FFFF00"/>
<circle cx="1124.5" cy="1183.9" r="2.9" fill="#00FF00"/>
<circle cx="1158.0" cy="1139.6" r="2.9" fill="#00FF00"/>
<circle cx="961.2" cy="1005.2" r="2.9" fill="#FFFF00"/>
<circle cx="1100.5" cy="1144.4" r="2.9" fill="#00FF00"/>
<circle cx="950.3" cy="1006.1" r="2.9" fill="#FFFF00"/>
<circle cx="1204.5" cy="1106.0" r="2.9" fill="#00FF00"/>
<circle cx="1097.9" cy="1201.1" r="2.9" fill="#FFFF00"/>
<circle cx="1121.1" cy="1161.9" r="2.9" fill="#FFFF00"/>
<circle cx="1132.0" cy="1170.3" r="2.9" fill="#00FF00"/>
<circle cx="1165.1" cy="1182.0" r="2.9" fill="#00FF00"/>
<circle cx="1101.3" cy="1210.1" r="2.9" fill="#FFFF00"/>
<circle cx="1168.5" cy="1183.4" r="2.9" fill="#00FF00"/>
<circle cx="1158.4" cy="1143.7" r="2.9" fill="#00FF00"/>
<circle cx="1157.4" cy="1188.5" r="2.9" fill="#FFFF00"/>
<circle cx="1292.9" cy="906.5" r="2.9" fill="#00FF00"/>
<circle cx="1173.3" cy="1165.2" r="2.9" fill="#00FF00"/>
<circle cx="1105.0" cy="1136.7" r="2.9" fill="#FFFF00"/>
<circle cx="1176.1" cy="1131.9" r="2.9" fill="#00FF00"/>
<circle cx="1295.6" cy="902.7" r="2.9" fill="#00FF00"/>
<circle cx="1184.5" cy="1128.7" r="2.9" fill="#00FF00"/>
<circle cx="1103.5" cy="1203.3" r="2.9" fill="#FFFF00"/>
<circle cx="956.9" cy="1004.0" r="2.9" fill="#FFFF00"/>
<circle cx="1102.1" cy="1149.6" r="2.9" fill="#FFFF00"/>
<circle cx="952.7" cy="1006.9" r="2.9" fill="#FFFF00"/>
<circle cx="1296.4" cy="904.0" r="2.9" fill="#00FF00"/>
<circle cx="1102.1" cy="1188.6" r="2.9" fill="#FFFF00"/>
<circle cx="1123.0" cy="1188.7" r="2.9" fill="#FFFF00"/>
<circle cx="1180.5" cy="1141.0" r="2.9" fill="#00FF00"/>
<circle cx="1132.0" cy="1172.7" r="2.9" fill="#00FF00"/>
<circle cx="1119.0" cy="1205.4" r="2.9" fill="#00FF00"/>
<circle cx="1158.4" cy="1155.0" r="2.9" fill="#00FF00"/>
<circle cx="1118.5" cy="1206.7" r="2.9" fill="#00FF00"/>
<circle cx="1158.6" cy="1193.0" r="2.9" fill="#00FF00"/>
<circle cx="1309.9" cy="927.2" r="2.9" fill="#00FF00"/>
<circle cx="1307.2" cy="921.5" r="2.9" fill="#00FF00"/>
<circle cx="1104.3" cy="1205.0" r="2.9" fill="#FFFF00"/>
<circle cx="1095.9" cy="1216.2" r="2.9" fill="#FFFF00"/>
<circle cx="1164.1" cy="1187.0" r="2.9" fill="#FFFF00"/>
<circle cx="1300.1" cy="905.1" r="2.9" fill="#FFFF00"/>
<circle cx="1099.9" cy="1216.8" r="2.9" fill="#FFFF00"/>
<circle cx="1201.8" cy="1104.3" r="2.9" fill="#00FF00"/>
<circle cx="1165.5" cy="1115.9" r="2.9" fill="#00FF00"/>
<circle cx="1187.1" cy="1135.3" r="2.9" fill="#00FF00"/>
<circle cx="1187.4" cy="1104.7" r="2.9" fill="#00FF00"/>
<circle cx="1104.0" cy="1215.0" r="2.9" fill="#FFFF00"/>
<circle cx="1296.2" cy="904.4" r="2.9" fill="#FFFF00"/>
<circle cx="1299.9" cy="924.5" r="2.9" fill="#00FF00"/>
<circle cx="1173.7" cy="1114.7" r="2.9" fill="#00FF00"/>
<circle cx="1160.6" cy="1200.2" r="2.9" fill="#FFFF00"/>
<circle cx="1101.3" cy="1177.3" r="2.9" fill="#FFFF00"/>
<circle cx="1107.2" cy="1210.1" r="2.9" fill="#FFFF00"/>
<circle cx="1186.1" cy="1133.9" r="2.9" fill="#00FF00"/>
<circle cx="1087.7" cy="1166.3" r="2.9" fill="#FFFF00"/>
<circle cx="1309.1" cy="894.0" r="2.9" fill="#FFFF00"/>
<circle cx="1119.5" cy="1204.9" r="2.9" fill="#00FF00"/>
<circle cx="1167.7" cy="1127.7" r="2.9" fill="#00FF00"/>
<circle cx="1099.1" cy="1212.3" r="2.9" fill="#FFFF00"/>
<circle cx="1307.5" cy="928.7" r="2.9" fill="#FFFF00"/>
<circle cx="1163.3" cy="1192.0" r="2.9" fill="#FFFF00"/>
<circle cx="1309.3" cy="882.9" r="2.9" fill="#FFFF00"/>
<circle cx="1171.0" cy="1127.5" r="2.9" fill="#00FF00"/>
<circle cx="1102.4" cy="1213.2" r="2.9" fill="#FFFF00"/>
<circle cx="1093.3" cy="1167.9" r="2.9" fill="#FFFF00"/>
<circle cx="1125.3" cy="1192.1" r="2.9" fill="#FFFF00"/>
<circle cx="1110.2" cy="1147.9" r="2.9" fill="#FFFF00"/>
<circle cx="1201.6" cy="1100.6" r="2.9" fill="#00FF00"/>
<circle cx="1168.9" cy="1112.6" r="2.9" fill="#FFFF00"/>
<circle cx="1133.3" cy="1196.6" r="2.9" fill="#FFFF00"/>
<circle cx="1174.4" cy="1139.0" r="2.9" fill="#00FF00"/>
<circle cx="1088.8" cy="1163.6" r="2.9" fill="#00FF00"/>
<circle cx="1156.8" cy="1156.0" r="2.9" fill="#00FF00"/>
<circle cx="1291.1" cy="899.6" r="2.9" fill="#00FF00"/>
<circle cx="1104.3" cy="1136.4" r="2.9" fill="#00FF00"/>
<circle cx="1093.5" cy="1209.2" r="2.9" fill="#FFFF00"/>
<circle cx="1301.8" cy="919.4" r="2.9" fill="#FFFF00"/>
<circle cx="1170.4" cy="1140.4" r="2.9" fill="#00FF00"/>
<circle cx="1128.1" cy="1185.1" r="2.9" fill="#FFFF00"/>
<circle cx="1167.6" cy="1124.2" r="2.9" fill="#00FF00"/>
<circle cx="1311.8" cy="904.9" r="2.9" fill="#00FF00"/>
<circle cx="1155.1" cy="1187.5" r="2.9" fill="#FFFF00"/>
<circle cx="1100.4" cy="1147.2" r="2.9" fill="#FFFF00"/>
<circle cx="1095.9" cy="1203.1" r="2.9" fill="#FFFF00"/>
<circle cx="1292.4" cy="906.2" r="2.9" fill="#FFFF00"/>
<circle cx="1084.4" cy="1168.8" r="2.9" fill="#FFFF00"/>
<circle cx="1101.7" cy="1170.2" r="2.9" fill="#00FF00"/>
<circle cx="1156.4" cy="1150.6" r="2.9" fill="#00FF00"/>
<circle cx="1127.5" cy="1199.0" r="2.9" fill="#FFFF00"/>
<circle cx="1102.2" cy="1210.2" r="2.9" fill="#FFFF00"/>
<circle cx="1120.8" cy="1180.7" r="2.9" fill="#00FF00"/>
<circle cx="1303.0" cy="919.5" r="2.9" fill="#00FF00"/>
<circle cx="1099.9" cy="1184.4" r="2.9" fill="#FFFF00"/>
<circle cx="1304.4" cy="905.6" r="2.9" fill="#FFFF00"/>
<circle cx="1170.3" cy="1137.8" r="2.9" fill="#00FF00"/>
<circle cx="1099.2" cy="1205.7" r="2.9" fill="#FFFF00"/>
<circle cx="1095.3" cy="1165.3" r="2.9" fill="#FFFF00"/>
<circle cx="1189.5" cy="1105.1" r="2.9" fill="#00FF00"/>
<circle cx="960.1" cy="1002.8" r="2.9" fill="#FFFF00"/>
<circle cx="1104.2" cy="1165.3" r="2.9" fill="#FFFF00"/>
<circle cx="1173.6" cy="1126.8" r="2.9" fill="#00FF00"/>
<circle cx="1168.7" cy="1110.1" r="2.9" fill="#00FF00"/>
<circle cx="1322.1" cy="902.9" r="2.9" fill="#FFFF00"/>
<circle cx="1101.5" cy="1204.1" r="2.9" fill="#FFFF00"/>
<circle cx="1088.1" cy="1169.9" r="2.9" fill="#FFFF00"/>
<circle cx="1172.0" cy="1155.2" r="2.9" fill="#00FF00"/>
<circle cx="1093.9" cy="1172.7" r="2.9" fill="#FFFF00"/>
<circle cx="1103.3" cy="1151.5" r="2.9" fill="#FFFF00"/>
<circle cx="1291.5" cy="906.4" r="2.9" fill="#00FF00"/>
<circle cx="953.1" cy="1000.4" r="2.9" fill="#FFFF00"/>
<circle cx="1129.0" cy="1198.2" r="2.9" fill="#FFFF00"/>
<circle cx="1308.4" cy="906.3" r="2.9" fill="#FFFF00"/>
<circle cx="1130.3" cy="1196.2" r="2.9" fill="#00FF00"/>
<circle cx="1296.6" cy="903.5" r="2.9" fill="#FFFF00"/>
<circle cx="1308.7" cy="884.0" r="2.9" fill="#FFFF00"/>
<circle cx="1305.2" cy="905.8" r="2.9" fill="#FFFF00"/>
<circle cx="1302.6" cy="906.3" r="2.9" fill="#FFFF00"/>
<circle cx="1177.6" cy="1131.2" r="2.9" fill="#00FF00"/>
<circle cx="1101.9" cy="1160.8" r="2.9" fill="#FFFF00"/>
<circle cx="1163.5" cy="1174.0" r="2.9" fill="#00FF00"/>
<circle cx="1087.1" cy="1166.1" r="2.9" fill="#FFFF00"/>
<circle cx="1303.4" cy="927.8" r="2.9" fill="#FFFF00"/>
<circle cx="1312.1" cy="921.8" r="2.9" fill="#FFFF00"/>
<circle cx="1309.5" cy="921.9" r="2.9" fill="#00FF00"/>
<circle cx="1156.7" cy="1137.1" r="2.9" fill="#00FF00"/>
<circle cx="950.5" cy="1002.9" r="2.9" fill="#00FF00"/>
<circle cx="1326.8" cy="907.2" r="2.9" fill="#FFFF00"/>
<circle cx="1312.6" cy="921.0" r="2.9" fill="#FFFF00"/>
<circle cx="1310.8" cy="897.0" r="2.9" fill="#00FF00"/>
<circle cx="1157.1" cy="1142.3" r="2.9" fill="#00FF00"/>
<circle cx="1126.2" cy="1196.8" r="2.9" fill="#FFFF00"/>
<circle cx="1106.6" cy="1175.6" r="2.9" fill="#00FF00"/>
<circle cx="1157.1" cy="1198.9" r="2.9" fill="#FFFF00"/>
<circle cx="1304.9" cy="904.4" r="2.9" fill="#FFFF00"/>
<circle cx="1190.7" cy="1121.8" r="2.9" fill="#00FF00"/>
<circle cx="1157.8" cy="1185.3" r="2.9" fill="#FFFF00"/>
<circle cx="1200.0" cy="1105.6" r="2.9" fill="#00FF00"/>
<circle cx="1162.3" cy="1198.4" r="2.9" fill="#00FF00"/>
<circle cx="1173.3" cy="1125.8" r="2.9" fill="#00FF00"/>
<circle cx="1123.4" cy="1151.9" r="2.9" fill="#00FF00"/>
<circle cx="1106.5" cy="1170.7" r="2.9" fill="#FFFF00"/>
<circle cx="1312.0" cy="906.6" r="2.9" fill="#00FF00"/>
<circle cx="1165.1" cy="1114.1" r="2.9" fill="#00FF00"/>
<circle cx="1195.7" cy="1130.3" r="2.9" fill="#00FF00"/>
<circle cx="954.6" cy="1003.9" r="2.9" fill="#00FF00"/>
<circle cx="1194.9" cy="1103.9" r="2.9" fill="#00FF00"/>
<circle cx="1112.4" cy="1148.2" r="2.9" fill="#FFFF00"/>
<circle cx="1166.6" cy="1175.6" r="2.9" fill="#FFFF00"/>
<circle cx="1081.6" cy="1169.0" r="2.9" fill="#FFFF00"/>
<circle cx="1311.5" cy="903.4" r="2.9" fill="#FFFF00"/>
<circle cx="1293.0" cy="905.0" r="2.9" fill="#00FF00"/>
<circle cx="1119.0" cy="1188.0" r="2.9" fill="#FFFF00"/>
<circle cx="1298.4" cy="900.5" r="2.9" fill="#00FF00"/>
<circle cx="1180.3" cy="1126.2" r="2.9" fill="#00FF00"/>
<circle cx="1160.2" cy="1159.3" r="2.9" fill="#FFFF00"/>
<circle cx="1189.2" cy="1133.3" r="2.9" fill="#00FF00"/>
<circle cx="1155.9" cy="1142.0" r="2.9" fill="#00FF00"/>
<circle cx="1314.4" cy="923.7" r="2.9" fill="#00FF00"/>
<circle cx="1105.6" cy="1143.8" r="2.9" fill="#FFFF00"/>
<circle cx="1122.1" cy="1190.7" r="2.9" fill="#00FF00"/>
<circle cx="1302.8" cy="917.6" r="2.9" fill="#FFFF00"/>
<circle cx="1191.4" cy="1107.0" r="2.9" fill="#00FF00"/>
<circle cx="1154.6" cy="1196.3" r="2.9" fill="#00FF00"/>
<circle cx="1109.3" cy="1151.0" r="2.9" fill="#FFFF00"/>
<circle cx="1291.9" cy="907.8" r="2.9" fill="#00FF00"/>
<circle cx="1101.1" cy="1204.5" r="2.9" fill="#FFFF00"/>
<circle cx="1159.0" cy="1137.4" r="2.9" fill="#00FF00"/>
<circle cx="1291.3" cy="914.2" r="2.9" fill="#00FF00"/>
<circle cx="1197.6" cy="1108.3" r="2.9" fill="#00FF00"/>
<circle cx="1103.9" cy="1148.0" r="2.9" fill="#FFFF00"/>
<circle cx="1156.7" cy="1138.6" r="2.9" fill="#00FF00"/>
<circle cx="1173.9" cy="1128.0" r="2.9" fill="#00FF00"/>
<circle cx="1305.3" cy="892.1" r="2.9" fill="#00FF00"/>
<circle cx="1145.7" cy="1171.9" r="2.9" fill="#FFFF00"/>
<circle cx="1096.5" cy="1207.1" r="2.9" fill="#00FF00"/>
<circle cx="1107.5" cy="1141.6" r="2.9" fill="#FFFF00"/>
<circle cx="1102.5" cy="1208.9" r="2.9" fill="#FFFF00"/>
<circle cx="1310.1" cy="884.6" r="2.9" fill="#00FF00"/>
<circle cx="1181.0" cy="1128.6" r="2.9" fill="#00FF00"/>
<circle cx="1173.7" cy="1107.1" r="2.9" fill="#00FF00"/>
<circle cx="1323.3" cy="904.5" r="2.9" fill="#00FF00"/>
<circle cx="1154.9" cy="1193.7" r="2.9" fill="#00FF00"/>
<circle cx="1103.7" cy="1209.0" r="2.9" fill="#FFFF00"/>
<circle cx="1152.9" cy="1197.8" r="2.9" fill="#00FF00"/>
<circle cx="1191.1" cy="1120.1" r="2.9" fill="#00FF00"/>
<circle cx="1309.7" cy="893.4" r="2.9" fill="#00FF00"/>
<circle cx="1093.8" cy="1172.4" r="2.9" fill="#FFFF00"/>
<circle cx="960.9" cy="1004.4" r="2.9" fill="#00FF00"/>
<circle cx="1161.6" cy="1189.0" r="2.9" fill="#00FF00"/>
<circle cx="949.5" cy="1002.3" r="2.9" fill="#FFFF00"/>
<circle cx="1299.3" cy="908.4" r="2.9" fill="#FFFF00"/>
<circle cx="1327.5" cy="906.9" r="2.9" fill="#00FF00"/>
<circle cx="1114.0" cy="1141.3" r="2.9" fill="#FFFF00"/>
<circle cx="1159.3" cy="1172.2" r="2.9" fill="#00FF00"/>
<circle cx="1092.8" cy="1206.8" r="2.9" fill="#FFFF00"/>
<circle cx="1091.9" cy="1166.1" r="2.9" fill="#FFFF00"/>
<circle cx="1303.2" cy="923.5" r="2.9" fill="#FFFF00"/>
<circle cx="1152.6" cy="1195.1" r="2.9" fill="#FFFF00"/>
<circle cx="1185.0" cy="1103.2" r="2.9" fill="#00FF00"/>
<circle cx="1104.1" cy="1212.4" r="2.9" fill="#FFFF00"/>
<circle cx="1111.4" cy="1139.0" r="2.9" fill="#FFFF00"/>
<circle cx="1302.2" cy="921.1" r="2.9" fill="#00FF00"/>
<circle cx="1107.3" cy="1203.5" r="2.9" fill="#FFFF00"/>
<circle cx="1155.9" cy="1157.3" r="2.9" fill="#00FF00"/>
<circle cx="1186.3" cy="1123.6" r="2.9" fill="#00FF00"/>
<circle cx="1121.9" cy="1181.1" r="2.9" fill="#00FF00"/>
<circle cx="1160.4" cy="1124.6" r="2.9" fill="#00FF00"/>
<circle cx="1109.4" cy="1141.5" r="2.9" fill="#FFFF00"/>
<circle cx="1310.4" cy="902.8" r="2.9" fill="#00FF00"/>
<circle cx="1159.4" cy="1190.8" r="2.9" fill="#00FF00"/>
<circle cx="1180.9" cy="1123.7" r="2.9" fill="#00FF00"/>
<circle cx="1304.9" cy="918.4" r="2.9" fill="#00FF00"/>
<circle cx="1162.4" cy="1199.8" r="2.9" fill="#00FF00"/>
<circle cx="1100.6" cy="1215.6" r="2.9" fill="#FFFF00"/>
<circle cx="1158.3" cy="1170.2" r="2.9" fill="#00FF00"/>
<circle cx="1159.2" cy="1157.7" r="2.9" fill="#00FF00"/>
<circle cx="1180.7" cy="1123.9" r="2.9" fill="#00FF00"/>
<circle cx="1154.8" cy="1154.0" r="2.9" fill="#00FF00"/>
<circle cx="1175.5" cy="1107.9" r="2.9" fill="#00FF00"/>
<circle cx="1308.4" cy="906.0" r="2.9" fill="#00FF00"/>
<circle cx="1185.3" cy="1101.8" r="2.9" fill="#00FF00"/>
<circle cx="1201.1" cy="1106.8" r="2.9" fill="#00FF00"/>
<circle cx="1159.4" cy="1152.7" r="2.9" fill="#00FF00"/>
<circle cx="1309.3" cy="922.2" r="2.9" fill="#00FF00"/>
<circle cx="1301.6" cy="920.8" r="2.9" fill="#00FF00"/>
<circle cx="1106.6" cy="1206.6" r="2.9" fill="#FFFF00"/>
<circle cx="1298.4" cy="896.9" r="2.9" fill="#00FF00"/>
<circle cx="1322.6" cy="909.4" r="2.9" fill="#FFFF00"/>
<circle cx="955.1" cy="1007.1" r="2.9" fill="#00FF00"/>
<circle cx="1102.8" cy="1208.2" r="2.9" fill="#FFFF00"/>
<circle cx="1304.7" cy="921.1" r="2.9" fill="#FFFF00"/>
<circle cx="1290.0" cy="913.8" r="2.9" fill="#FFFF00"/>
<circle cx="1312.7" cy="909.4" r="2.9" fill="#00FF00"/>
<circle cx="1098.9" cy="1206.8" r="2.9" fill="#FFFF00"/>
<circle cx="1309.0" cy="904.5" r="2.9" fill="#00FF00"/>
<circle cx="959.8" cy="1002.2" r="2.9" fill="#00FF00"/>
<circle cx="1304.2" cy="891.3" r="2.9" fill="#00FF00"/>
<circle cx="1300.3" cy="922.9" r="2.9" fill="#00FF00"/>
<circle cx="1163.2" cy="1157.3" r="2.9" fill="#00FF00"/>
<circle cx="1104.7" cy="1199.6" r="2.9" fill="#FFFF00"/>
<circle cx="958.9" cy="1000.5" r="2.9" fill="#FFFF00"/>
<circle cx="1187.3" cy="1104.9" r="2.9" fill="#00FF00"/>
<circle cx="1182.9" cy="1145.4" r="2.9" fill="#00FF00"/>
<circle cx="1292.4" cy="897.5" r="2.9" fill="#FFFF00"/>
<circle cx="1319.5" cy="905.0" r="2.9" fill="#FFFF00"/>
<circle cx="1317.7" cy="901.0" r="2.9" fill="#FFFF00"/>
<circle cx="1140.8" cy="1162.7" r="2.9" fill="#00FF00"/>
<circle cx="1103.2" cy="1201.9" r="2.9" fill="#FFFF00"/>
<circle cx="1180.9" cy="1141.2" r="2.9" fill="#00FF00"/>
<circle cx="954.2" cy="1000.1" r="2.9" fill="#00FF00"/>
<circle cx="1317.0" cy="901.1" r="2.9" fill="#00FF00"/>
<circle cx="1162.9" cy="1125.2" r="2.9" fill="#00FF00"/>
<circle cx="1299.5" cy="897.6" r="2.9" fill="#00FF00"/>
<circle cx="1291.2" cy="905.7" r="2.9" fill="#FFFF00"/>
<circle cx="1156.0" cy="1138.4" r="2.9" fill="#00FF00"/>
<circle cx="1095.7" cy="1206.4" r="2.9" fill="#FFFF00"/>
<circle cx="1151.9" cy="1178.5" r="2.9" fill="#FFFF00"/>
<circle cx="1289.9" cy="900.6" r="2.9" fill="#FFFF00"/>
<circle cx="950.8" cy="1000.9" r="2.9" fill="#FFFF00"/>
<circle cx="1290.2" cy="913.3" r="2.9" fill="#FFFF00"/>
<circle cx="960.8" cy="1002.6" r="2.9" fill="#00FF00"/>
<circle cx="1104.0" cy="1215.7" r="2.9" fill="#FFFF00"/>
<circle cx="1171.9" cy="1131.6" r="2.9" fill="#00FF00"/>
<circle cx="1157.5" cy="1184.3" r="2.9" fill="#FFFF00"/>
<circle cx="1171.2" cy="1129.2" r="2.9" fill="#00FF00"/>
<circle cx="957.6" cy="1001.4" r="2.9" fill="#00FF00"/>
<circle cx="1111.2" cy="1143.8" r="2.9" fill="#FFFF00"/>
<circle cx="1184.2" cy="1146.6" r="2.9" fill="#00FF00"/>
<circle cx="1124.3" cy="1152.8" r="2.9" fill="#00FF00"/>
<circle cx="1132.7" cy="1195.3" r="2.9" fill="#FFFF00"/>
<circle cx="1308.6" cy="926.7" r="2.9" fill="#FFFF00"/>
<circle cx="1096.2" cy="1170.7" r="2.9" fill="#FFFF00"/>
<circle cx="1308.3" cy="921.8" r="2.9" fill="#FFFF00"/>
<circle cx="1156.8" cy="1151.1" r="2.9" fill="#00FF00"/>
<circle cx="1172.5" cy="1137.1" r="2.9" fill="#00FF00"/>
<circle cx="1199.8" cy="1096.7" r="2.9" fill="#00FF00"/>
<circle cx="1168.3" cy="1125.2" r="2.9" fill="#00FF00"/>
<circle cx="1097.5" cy="1174.5" r="2.9" fill="#FFFF00"/>
<circle cx="1297.2" cy="908.2" r="2.9" fill="#FFFF00"/>
<circle cx="1121.1" cy="1186.0" r="2.9" fill="#00FF00"/>
<circle cx="1184.2" cy="1131.8" r="2.9" fill="#00FF00"/>
<circle cx="955.0" cy="1005.9" r="2.9" fill="#00FF00"/>
<circle cx="1161.6" cy="1120.2" r="2.9" fill="#00FF00"/>
<circle cx="1110.3" cy="1205.5" r="2.9" fill="#FFFF00"/>
<circle cx="1101.3" cy="1207.6" r="2.9" fill="#FFFF00"/>
<circle cx="1098.2" cy="1172.4" r="2.9" fill="#FFFF00"/>
<circle cx="1111.8" cy="1206.3" r="2.9" fill="#FFFF00"/>
<circle cx="1139.6" cy="1165.9" r="2.9" fill="#00FF00"/>
<circle cx="1189.0" cy="1099.2" r="2.9" fill="#00FF00"/>
<circle cx="1090.4" cy="1165.4" r="2.9" fill="#FFFF00"/>
<circle cx="1310.5" cy="911.8" r="2.9" fill="#FFFF00"/>
<circle cx="1114.3" cy="1198.0" r="2.9" fill="#00FF00"/>
<circle cx="1135.7" cy="1192.5" r="2.9" fill="#FFFF00"/>
<circle cx="1110.4" cy="1195.6" r="2.9" fill="#00FF00"/>
<circle cx="1290.2" cy="915.2" r="2.9" fill="#00FF00"/>
<circle cx="1196.4" cy="1106.0" r="2.9" fill="#00FF00"/>
<circle cx="1307.5" cy="918.7" r="2.9" fill="#00FF00"/>
<circle cx="1100.6" cy="1203.9" r="2.9" fill="#FFFF00"/>
<circle cx="1123.2" cy="1181.2" r="2.9" fill="#FFFF00"/>
<circle cx="1112.7" cy="1139.6" r="2.9" fill="#FFFF00"/>
<circle cx="1162.0" cy="1200.4" r="2.9" fill="#FFFF00"/>
<circle cx="1305.0" cy="904.2" r="2.9" fill="#FFFF00"/>
<circle cx="1323.9" cy="906.6" r="2.9" fill="#FFFF00"/>
<circle cx="1290.4" cy="914.9" r="2.9" fill="#FFFF00"/>
<circle cx="1154.1" cy="1174.3" r="2.9" fill="#00FF00"/>
<circle cx="1151.4" cy="1171.9" r="2.9" fill="#00FF00"/>
<circle cx="1292.2" cy="906.0" r="2.9" fill="#00FF00"/>
<circle cx="950.6" cy="1005.7" r="2.9" fill="#FFFF00"/>
<circle cx="1307.8" cy="922.9" r="2.9" fill="#FFFF00"/>
<circle cx="1108.8" cy="1211.1" r="2.9" fill="#FFFF00"/>
<circle cx="1171.5" cy="1124.6" r="2.9" fill="#00FF00"/>
<circle cx="1102.9" cy="1174.6" r="2.9" fill="#FFFF00"/>
<circle cx="1163.2" cy="1188.5" r="2.9" fill="#00FF00"/>
<circle cx="1193.9" cy="1135.7" r="2.9" fill="#00FF00"/>
<circle cx="1166.0" cy="1137.7" r="2.9" fill="#FFFF00"/>
<circle cx="1124.5" cy="1185.4" r="2.9" fill="#00FF00"/>
<circle cx="1104.4" cy="1213.8" r="2.9" fill="#FFFF00"/>
<circle cx="1301.3" cy="903.0" r="2.9" fill="#FFFF00"/>
<circle cx="1102.6" cy="1215.4" r="2.9" fill="#FFFF00"/>
<circle cx="1297.3" cy="903.8" r="2.9" fill="#FFFF00"/>
<circle cx="1178.7" cy="1132.9" r="2.9" fill="#00FF00"/>
<circle cx="1181.0" cy="1147.4" r="2.9" fill="#FFFF00"/>
<circle cx="1196.9" cy="1102.1" r="2.9" fill="#00FF00"/>
<circle cx="1104.8" cy="1215.7" r="2.9" fill="#FFFF00"/>
<circle cx="1188.8" cy="1139.1" r="2.9" fill="#00FF00"/>
<circle cx="1172.2" cy="1126.3" r="2.9" fill="#00FF00"/>
<circle cx="1175.8" cy="1131.2" r="2.9" fill="#00FF00"/>
<circle cx="1312.9" cy="909.6" r="2.9" fill="#00FF00"/>
<circle cx="953.3" cy="1004.3" r="2.9" fill="#00FF00"/>
<circle cx="1181.8" cy="1133.1" r="2.9" fill="#00FF00"/>
<circle cx="1160.4" cy="1135.7" r="2.9" fill="#00FF00"/>
<circle cx="1309.8" cy="883.1" r="2.9" fill="#00FF00"/>
<circle cx="1311.2" cy="907.5" r="2.9" fill="#FFFF00"/>
<circle cx="1298.7" cy="897.2" r="2.9" fill="#FFFF00"/>
<circle cx="1155.6" cy="1158.2" r="2.9" fill="#00FF00"/>
<circle cx="1187.0" cy="1106.3" r="2.9" fill="#00FF00"/>
<circle cx="1168.0" cy="1192.6" r="2.9" fill="#00FF00"/>
<circle cx="1310.7" cy="883.6" r="2.9" fill="#FFFF00"/>
<circle cx="1158.6" cy="1122.3" r="2.9" fill="#00FF00"/>
<circle cx="1150.2" cy="1190.7" r="2.9" fill="#00FF00"/>
<circle cx="1297.7" cy="905.7" r="2.9" fill="#00FF00"/>
<circle cx="1183.4" cy="1123.9" r="2.9" fill="#00FF00"/>
<circle cx="1109.1" cy="1146.6" r="2.9" fill="#FFFF00"/>
<circle cx="1307.8" cy="921.7" r="2.9" fill="#00FF00"/>
<circle cx="1118.3" cy="1198.0" r="2.9" fill="#00FF00"/>
<circle cx="1310.7" cy="896.2" r="2.9" fill="#FFFF00"/>
<circle cx="1187.2" cy="1137.2" r="2.9" fill="#00FF00"/>
<circle cx="1159.3" cy="1137.4" r="2.9" fill="#00FF00"/>
<circle cx="958.5" cy="1006.7" r="2.9" fill="#00FF00"/>
<circle cx="1154.1" cy="1184.7" r="2.9" fill="#FFFF00"/>
<circle cx="1187.9" cy="1123.7" r="2.9" fill="#00FF00"/>
<circle cx="1153.9" cy="1185.9" r="2.9" fill="#FFFF00"/>
<circle cx="1305.8" cy="891.5" r="2.9" fill="#00FF00"/>
<circle cx="954.4" cy="1000.9" r="2.9" fill="#FFFF00"/>
<circle cx="1322.4" cy="903.3" r="2.9" fill="#FFFF00"/>
<circle cx="1175.4" cy="1142.1" r="2.9" fill="#00FF00"/>
<circle cx="1122.9" cy="1178.3" r="2.9" fill="#FFFF00"/>
<circle cx="1085.2" cy="1166.7" r="2.9" fill="#FFFF00"/>
<circle cx="1303.5" cy="892.3" r="2.9" fill="#FFFF00"/>
<circle cx="1312.9" cy="920.6" r="2.9" fill="#FFFF00"/>
<circle cx="952.7" cy="1002.4" r="2.9" fill="#00FF00"/>
<circle cx="1164.4" cy="1138.6" r="2.9" fill="#00FF00"/>
</g>
<text x="1137" y="1318" text-anchor="middle">UMAP 1</text>
<text transform="translate(853.3,1053) rotate(-90)" text-anchor="middle">UMAP 2</text>
<text x="1360" y="66.5">Cluster</text>
<text x="1360" y="112">Condition</text>
<text x="1361" y="170.6"><tspan font-style="italic">Gng3</tspan> (epi)</text>
<text x="1361" y="244.7"><tspan font-style="italic">Slc7a3</tspan> (epi)</text>
<text x="1361" y="316.1"><tspan font-style="italic">Pou5f1</tspan> (epi)</text>
<text x="1361" y="388.3"><tspan font-style="italic">Cdx2</tspan> (ExE)</text>
<text x="1361" y="460.7"><tspan font-style="italic">Bmp4</tspan> (ExE)</text>
<text x="1361" y="534.6"><tspan font-style="italic">Elf5</tspan> (ExE)</text>
<text x="1361" y="600.8"><tspan font-style="italic">Gata6</tspan> (VE)</text>
<text x="1361" y="670.8"><tspan font-style="italic">Apob</tspan> (VE)</text>
<text x="1361" y="742.4"><tspan font-style="italic">Afp</tspan> (VE)</text>
<text x="1597" y="60">Cluster</text>
<rect x="1596.5" y="84.2" width="31.5" height="31.3" fill="#DD6400"/>
<text x="1646" y="110.0">1- Normal (winner) epiblast (307 cells)</text>
<rect x="1596.5" y="128.5" width="31.5" height="31.3" fill="#800080"/>
<text x="1646" y="154.3">2- Extra-embryonic ectoderm (171 cells)</text>
<rect x="1596.5" y="172.8" width="31.5" height="31.3" fill="#0000FF"/>
<text x="1646" y="198.6">3- Intermediate (134 cells)</text>
<rect x="1596.5" y="217.1" width="31.5" height="31.3" fill="#006400"/>
<text x="1646" y="242.9">4- Loser epiblast (71 cells)</text>
<rect x="1596.5" y="261.4" width="31.5" height="31.3" fill="#56B0E6"/>
<text x="1646" y="287.2">5- Visceral endoderm (40 cells)</text>
<text x="1598" y="357">Condition</text>
<rect x="1596.4" y="378.7" width="31.8" height="32" fill="#EEE600"/>
<rect x="1596.4" y="423.5" width="31.8" height="31.5" fill="#00EE00"/>
<text x="1645" y="406.5">DMSO treated</text>
<text x="1645" y="450.5">CI treated</text>
<text x="1598" y="518">log<tspan font-size="19" dy="8">10</tspan><tspan dy="-8"> norm. counts</tspan></text>
<defs><linearGradient id="hg" x1="0" y1="1" x2="0" y2="0"><stop offset="0" stop-color="#FFFFFF"/><stop offset="0.25" stop-color="#FEDACE"/><stop offset="0.5" stop-color="#FDA890"/><stop offset="0.625" stop-color="#FD8564"/><stop offset="0.75" stop-color="#FC694B"/><stop offset="0.97" stop-color="#FF2414"/><stop offset="1" stop-color="#FF0000"/></linearGradient></defs>
<rect x="1596.4" y="542.7" width="48.1" height="220.3" fill="url(#hg)"/>
<line x1="1596.4" x2="1606" y1="548.2" y2="548.2" stroke="#fff" stroke-opacity="0.7" stroke-width="1"/>
<line x1="1635" x2="1644.5" y1="548.2" y2="548.2" stroke="#fff" stroke-opacity="0.7" stroke-width="1"/>
<text x="1659" y="557.7">4</text>
<line x1="1596.4" x2="1606" y1="601.5" y2="601.5" stroke="#fff" stroke-opacity="0.7" stroke-width="1"/>
<line x1="1635" x2="1644.5" y1="601.5" y2="601.5" stroke="#fff" stroke-opacity="0.7" stroke-width="1"/>
<text x="1659" y="611.0">3</text>
<line x1="1596.4" x2="1606" y1="654.8" y2="654.8" stroke="#fff" stroke-opacity="0.7" stroke-width="1"/>
<line x1="1635" x2="1644.5" y1="654.8" y2="654.8" stroke="#fff" stroke-opacity="0.7" stroke-width="1"/>
<text x="1659" y="664.3">2</text>
<line x1="1596.4" x2="1606" y1="708.1" y2="708.1" stroke="#fff" stroke-opacity="0.7" stroke-width="1"/>
<line x1="1635" x2="1644.5" y1="708.1" y2="708.1" stroke="#fff" stroke-opacity="0.7" stroke-width="1"/>
<text x="1659" y="717.6">1</text>
<line x1="1596.4" x2="1606" y1="761.4" y2="761.4" stroke="#fff" stroke-opacity="0.7" stroke-width="1"/>
<line x1="1635" x2="1644.5" y1="761.4" y2="761.4" stroke="#fff" stroke-opacity="0.7" stroke-width="1"/>
<text x="1659" y="770.9">0</text>
<text x="1557.5" y="896.3">Epiblast cells (512)</text>
<rect x="1525.6" y="920.6" width="290" height="97" fill="#FA1E0E"/>
<rect x="1525.6" y="1017.4" width="290" height="96.3" fill="#3F1FFA"/>
<rect x="1525.6" y="1113.5" width="290" height="96.7" fill="#0000FF"/>
<text x="1833.5" y="982">Cluster 1- normal</text>
<text x="1833.5" y="1081.6">Cluster 3- intermediate</text>
<text x="1833.5" y="1176">Cluster 4- loser</text>
<text x="1670.7" y="1246.7" text-anchor="middle">DMSO/CI</text>
<text x="1524" y="1371.6">Enrichment</text>
<defs><linearGradient id="eg" x1="0" y1="1" x2="0" y2="0"><stop offset="0" stop-color="#0000FF"/><stop offset="0.04" stop-color="#2A10FF"/><stop offset="0.2" stop-color="#8C70E8"/><stop offset="0.35" stop-color="#BEBEBE"/><stop offset="0.5" stop-color="#D6A090"/><stop offset="0.66" stop-color="#EC836C"/><stop offset="0.85" stop-color="#F84A30"/><stop offset="0.97" stop-color="#FF1A0E"/><stop offset="1" stop-color="#FF0000"/></linearGradient></defs>
<rect x="1524.2" y="1398.6" width="54.8" height="206.2" rx="1.5" fill="url(#eg)"/>
<line x1="1524.2" x2="1534.5" y1="1405.8" y2="1405.8" stroke="#fff" stroke-opacity="0.8" stroke-width="1"/>
<line x1="1568.7" x2="1579" y1="1405.8" y2="1405.8" stroke="#fff" stroke-opacity="0.8" stroke-width="1"/>
<text x="1592" y="1415.5">3</text>
<line x1="1524.2" x2="1534.5" y1="1469.0" y2="1469.0" stroke="#fff" stroke-opacity="0.8" stroke-width="1"/>
<line x1="1568.7" x2="1579" y1="1469.0" y2="1469.0" stroke="#fff" stroke-opacity="0.8" stroke-width="1"/>
<text x="1592" y="1478.7">2</text>
<line x1="1524.2" x2="1534.5" y1="1532.1" y2="1532.1" stroke="#fff" stroke-opacity="0.8" stroke-width="1"/>
<line x1="1568.7" x2="1579" y1="1532.1" y2="1532.1" stroke="#fff" stroke-opacity="0.8" stroke-width="1"/>
<text x="1592" y="1541.8">1</text>
<line x1="1524.2" x2="1534.5" y1="1595.3" y2="1595.3" stroke="#fff" stroke-opacity="0.8" stroke-width="1"/>
<line x1="1568.7" x2="1579" y1="1595.3" y2="1595.3" stroke="#fff" stroke-opacity="0.8" stroke-width="1"/>
<text x="1592" y="1605.0">0</text>
<text x="1.5" y="1372">Clusters:</text>
<rect x="0" y="1398.6" width="50.7" height="50.2" fill="#EBEBEB"/>
<circle cx="25.3" cy="1423.7" r="7" fill="#DD6400"/>
<text x="71.5" y="1431.6">1- Normal (winner) epiblast (78 CI, 229 DMSO)</text>
<rect x="0" y="1456.8" width="50.7" height="50.2" fill="#EBEBEB"/>
<circle cx="25.3" cy="1481.8" r="7" fill="#800080"/>
<text x="71.5" y="1489.8">2- Extra-embryonic ectoderm (77 CI, 94 DMSO)</text>
<rect x="0" y="1514.9" width="50.7" height="50.2" fill="#EBEBEB"/>
<circle cx="25.3" cy="1540.0" r="7" fill="#0000FF"/>
<text x="71.5" y="1547.9">3- Intermediate (125 CI, 9 DMSO)</text>
<rect x="0" y="1573.0" width="50.7" height="50.2" fill="#EBEBEB"/>
<circle cx="25.3" cy="1598.1" r="7" fill="#006400"/>
<text x="71.5" y="1606.0">4- Loser epiblast (71 CI, 0 DMSO)</text>
<rect x="0" y="1631.2" width="50.7" height="50.2" fill="#EBEBEB"/>
<circle cx="25.3" cy="1656.3" r="7" fill="#56B0E6"/>
<text x="71.5" y="1664.2">5- Visceral endoderm (16 CI, 24 DMSO)</text>
<text x="876.5" y="1372">Conditions</text>
<rect x="874.5" y="1398.3" width="51.1" height="50.4" fill="#EBEBEB"/>
<circle cx="900" cy="1423.6" r="7" fill="#FFFF00"/>
<text x="945" y="1431.8">DMSO treated (356 cells)</text>
<rect x="874.5" y="1456.8" width="51.1" height="50.4" fill="#EBEBEB"/>
<circle cx="900" cy="1482.1" r="7" fill="#00FF00"/>
<text x="945" y="1490.3">CI treated (367 cells)</text>
</svg></body></html>
